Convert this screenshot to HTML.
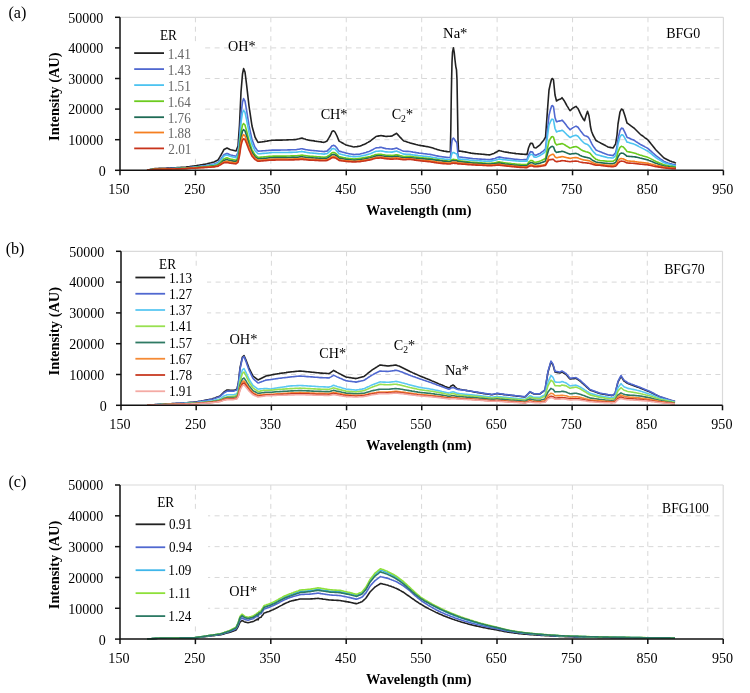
<!DOCTYPE html>
<html><head><meta charset="utf-8"><style>
html,body{margin:0;padding:0;background:#fff;}
svg{display:block;will-change:transform;}
text{font-family:"Liberation Serif", serif;}
.gd{stroke:#d8d8d8;stroke-width:1;stroke-dasharray:5 4.43;}
.gdh{stroke:#d8d8d8;stroke-width:1;stroke-dasharray:5 4.43;}
.gs{stroke:#dadada;stroke-width:1.2;}
.ax{stroke:#111;stroke-width:1.5;fill:none;}
</style></head><body>
<svg width="750" height="693" viewBox="0 0 750 693">
<rect width="750" height="693" fill="#fff"/>
<line x1="195.43" y1="17.30" x2="195.43" y2="170.30" class="gd"/>
<line x1="270.85" y1="17.30" x2="270.85" y2="170.30" class="gd"/>
<line x1="346.27" y1="17.30" x2="346.27" y2="170.30" class="gd"/>
<line x1="421.70" y1="17.30" x2="421.70" y2="170.30" class="gd"/>
<line x1="497.12" y1="17.30" x2="497.12" y2="170.30" class="gd"/>
<line x1="572.55" y1="17.30" x2="572.55" y2="170.30" class="gd"/>
<line x1="647.98" y1="17.30" x2="647.98" y2="170.30" class="gd"/>
<line x1="120.30" y1="139.70" x2="723.40" y2="139.70" class="gdh"/>
<line x1="120.30" y1="109.10" x2="723.40" y2="109.10" class="gdh"/>
<line x1="120.30" y1="78.50" x2="723.40" y2="78.50" class="gdh"/>
<line x1="120.30" y1="47.90" x2="723.40" y2="47.90" class="gdh"/>
<line x1="120.00" y1="17.30" x2="723.40" y2="17.30" class="gs"/>
<line x1="723.40" y1="17.30" x2="723.40" y2="170.30" class="gs"/>
<rect x="121" y="42" width="82" height="114" fill="#fff"/>
<path d="M147.0 170.2L148.0 170.0L149.0 169.7L150.0 169.5L151.0 169.3L152.0 169.1L153.0 169.0L154.0 168.8L155.0 168.6L156.0 168.6L157.0 168.5L158.0 168.5L159.0 168.4L160.0 168.4L161.0 168.4L162.0 168.3L163.0 168.3L164.0 168.2L165.0 168.2L166.0 168.2L167.0 168.1L168.0 168.1L169.0 168.0L170.0 168.0L171.0 167.9L172.0 167.9L173.0 167.8L174.0 167.8L175.0 167.7L176.0 167.7L177.0 167.6L178.0 167.6L179.0 167.5L180.0 167.5L181.0 167.4L182.0 167.4L183.0 167.3L184.0 167.3L185.0 167.2L186.0 167.1L187.0 166.9L188.0 166.8L189.0 166.7L190.0 166.5L191.0 166.4L192.0 166.3L193.0 166.1L194.0 166.0L195.0 165.8L196.0 165.7L197.0 165.5L198.0 165.3L199.0 165.2L200.0 165.0L201.0 164.8L202.0 164.7L203.0 164.5L204.0 164.3L205.0 164.2L206.0 164.0L207.0 163.8L208.0 163.5L209.0 163.2L210.0 163.0L211.0 162.8L212.0 162.5L213.0 162.2L214.0 162.0L215.0 161.5L216.0 161.0L217.0 160.5L218.0 160.0L219.0 158.3L220.0 156.7L221.0 155.0L222.0 153.2L223.0 151.3L224.0 149.5L225.0 149.0L226.0 148.5L227.0 148.0L228.0 148.5L229.0 149.0L230.0 149.5L231.0 149.8L232.0 150.0L233.0 150.2L234.0 150.5L235.0 150.8L236.0 151.0L237.0 148.5L238.0 146.0L239.0 132.0L239.5 125.0L240.0 114.0L241.0 92.0L242.0 80.0L242.5 74.0L243.0 71.5L243.6 68.6L244.0 69.6L245.0 72.0L246.0 80.0L246.5 84.0L247.0 88.4L248.0 97.2L249.0 106.0L250.0 112.7L251.0 119.3L252.0 126.0L253.0 129.7L254.0 133.3L255.0 137.0L256.0 138.8L257.0 140.6L258.0 142.4L259.0 142.3L260.0 142.1L261.0 142.0L262.0 141.9L263.0 141.7L264.0 141.6L265.0 141.4L266.0 141.2L267.0 141.1L268.0 140.9L269.0 140.7L270.0 140.5L271.0 140.4L272.0 140.2L273.0 140.2L274.0 140.2L275.0 140.2L276.0 140.1L277.0 140.1L278.0 140.1L279.0 140.1L280.0 140.1L281.0 140.1L282.0 140.1L283.0 140.0L284.0 140.0L285.0 140.0L286.0 140.0L287.0 139.9L288.0 139.9L289.0 139.8L290.0 139.8L291.0 139.8L292.0 139.7L293.0 139.7L294.0 139.6L295.0 139.6L296.0 139.5L297.0 139.2L298.0 139.0L299.0 138.8L300.0 138.5L301.0 138.2L302.0 138.0L303.0 138.4L304.0 138.8L305.0 139.1L306.0 139.5L307.0 139.7L308.0 139.9L309.0 140.2L310.0 140.4L311.0 140.5L312.0 140.7L313.0 140.8L314.0 140.9L315.0 141.1L316.0 141.2L317.0 141.4L318.0 141.5L319.0 141.7L320.0 141.8L321.0 141.9L322.0 142.1L323.0 142.2L324.0 142.4L325.0 141.9L326.0 141.5L327.0 141.0L328.0 139.3L329.0 137.7L330.0 136.0L331.0 133.8L332.0 131.5L333.0 131.0L333.5 130.8L334.0 131.2L335.0 132.0L336.0 134.0L337.0 136.0L338.0 138.5L339.0 141.0L340.0 141.6L341.0 142.1L342.0 142.7L343.0 143.3L344.0 143.9L345.0 144.4L346.0 145.0L347.0 145.2L348.0 145.5L349.0 145.8L350.0 146.0L351.0 146.2L352.0 146.5L353.0 146.8L354.0 147.0L355.0 146.8L356.0 146.7L357.0 146.6L358.0 146.4L359.0 146.2L360.0 146.1L361.0 145.7L362.0 145.3L363.0 144.8L364.0 144.4L365.0 144.0L366.0 143.5L367.0 142.9L368.0 142.4L369.0 141.8L370.0 141.3L371.0 140.5L372.0 139.7L373.0 138.9L374.0 138.1L375.0 137.3L376.0 136.5L377.0 136.3L378.0 136.1L379.0 135.9L380.0 135.7L381.0 135.5L382.0 135.7L383.0 135.9L384.0 136.1L385.0 136.3L386.0 136.5L387.0 136.4L388.0 136.3L389.0 136.2L390.0 136.2L391.0 136.1L392.0 136.0L393.0 135.4L394.0 134.8L395.0 134.2L396.0 133.6L396.5 133.3L397.0 133.8L398.0 134.9L399.0 136.0L400.0 137.1L401.0 138.1L402.0 139.2L403.0 140.3L403.5 140.8L404.0 141.0L405.0 141.3L406.0 141.6L407.0 141.9L408.0 142.3L409.0 142.6L410.0 142.9L411.0 143.2L412.0 143.4L413.0 143.7L414.0 143.9L415.0 144.2L416.0 144.5L417.0 144.7L418.0 145.0L419.0 145.2L420.0 145.4L421.0 145.6L422.0 145.7L423.0 145.9L424.0 146.1L425.0 146.3L426.0 146.5L427.0 146.6L428.0 146.8L429.0 147.0L430.0 147.2L431.0 147.5L432.0 147.8L433.0 148.1L434.0 148.4L435.0 148.8L436.0 149.1L437.0 149.4L438.0 149.7L439.0 150.0L440.0 150.3L441.0 150.5L442.0 150.7L443.0 150.9L444.0 151.1L445.0 151.2L446.0 151.4L447.0 151.6L448.0 151.8L449.0 151.7L450.0 151.7L450.3 151.3L450.8 130.3L451.0 116.3L451.3 95.3L451.6 80.3L452.0 62.2L452.5 52.2L453.0 49.8L453.4 47.9L454.0 51.1L454.2 52.1L455.0 60.0L455.8 66.6L456.0 67.5L456.5 69.9L457.0 79.9L457.5 109.9L458.0 139.8L458.5 150.3L458.8 151.1L459.0 151.1L460.0 151.0L461.0 151.2L462.0 151.4L463.0 151.6L464.0 151.8L465.0 151.9L466.0 152.1L467.0 152.3L468.0 152.5L469.0 152.7L470.0 152.9L471.0 153.1L472.0 153.2L472.8 153.4L473.0 153.4L474.0 153.5L475.0 153.6L476.0 153.7L477.0 153.8L478.0 153.9L479.0 154.0L480.0 154.0L481.0 154.1L482.0 154.2L483.0 154.3L484.0 154.4L485.0 154.5L486.0 154.6L487.0 154.7L488.0 154.8L489.0 154.9L489.5 154.9L490.0 154.7L491.0 154.4L492.0 154.1L493.0 153.7L494.0 153.4L495.0 152.8L496.0 152.2L497.0 151.7L498.0 151.1L499.0 150.5L500.0 150.8L501.0 151.0L502.0 151.3L503.0 151.5L504.0 151.8L505.0 152.0L506.0 152.1L507.0 152.3L508.0 152.4L509.0 152.6L510.0 152.7L511.0 152.9L512.0 153.0L513.0 153.2L514.0 153.3L514.6 153.4L515.0 153.4L516.0 153.6L517.0 153.7L518.0 153.8L519.0 153.9L520.0 154.0L521.0 154.1L522.0 154.1L523.0 154.2L524.0 154.3L525.0 154.4L526.0 154.4L527.0 154.5L528.0 150.2L528.5 148.0L529.0 146.8L530.0 144.4L530.5 143.2L531.0 143.3L532.0 143.4L532.5 143.5L533.0 144.8L534.0 147.5L535.0 147.8L536.0 148.0L537.0 147.2L538.0 146.4L539.0 145.6L540.0 144.8L541.0 143.6L542.0 142.3L543.0 141.1L543.5 140.5L544.0 139.7L545.0 138.0L545.5 137.2L546.0 130.3L547.0 116.6L548.0 103.0L549.0 90.0L550.0 85.3L550.2 84.4L551.0 81.3L551.6 79.0L552.0 78.8L552.5 78.5L553.0 79.2L553.5 80.0L554.0 85.0L555.0 95.0L556.0 99.0L556.5 101.0L557.0 100.7L558.0 100.0L559.0 99.6L560.0 99.2L561.0 98.8L562.0 97.7L563.0 99.1L564.0 100.4L565.0 102.2L566.0 104.0L567.0 105.8L568.0 107.4L569.0 109.1L570.0 110.7L571.0 109.8L572.0 108.9L573.0 108.0L574.0 107.5L575.0 106.9L576.0 106.4L577.0 107.5L578.0 108.5L579.0 110.7L580.0 112.8L581.0 115.0L582.0 116.8L583.0 118.6L583.5 119.5L584.0 120.1L584.5 120.7L585.0 119.0L586.0 115.5L587.0 112.7L587.5 111.3L588.0 112.7L589.0 116.0L590.0 122.8L590.5 126.8L591.0 129.0L591.5 131.2L592.0 132.5L593.0 135.0L594.0 136.8L595.0 138.7L596.0 140.5L597.0 141.0L598.0 141.6L599.0 142.1L600.0 142.6L601.0 143.2L602.0 143.7L603.0 144.2L604.0 144.8L605.0 145.3L606.0 145.9L607.0 146.4L608.0 147.0L609.0 147.2L610.0 147.4L611.0 147.6L612.0 147.8L613.0 148.0L614.0 146.5L615.0 144.9L615.6 144.0L616.0 141.4L617.0 135.0L618.0 124.0L619.0 118.0L620.0 112.0L621.0 110.0L621.5 109.0L622.0 109.3L623.0 110.0L624.0 113.0L625.0 116.0L626.0 119.5L627.0 123.0L628.0 123.7L629.0 124.4L630.0 125.1L631.0 125.9L632.0 126.6L633.0 127.3L634.0 128.0L635.0 129.0L636.0 130.0L637.0 131.0L638.0 132.0L639.0 133.0L640.0 134.0L641.0 134.8L642.0 135.5L643.0 136.2L644.0 137.0L645.0 137.8L646.0 138.5L647.0 139.2L648.0 140.0L649.0 141.2L650.0 142.5L651.0 143.8L652.0 145.0L653.0 146.2L654.0 147.5L655.0 148.8L656.0 150.0L657.0 151.0L658.0 152.0L659.0 153.0L660.0 154.0L661.0 155.0L662.0 156.0L663.0 157.0L664.0 158.0L665.0 158.5L666.0 159.0L667.0 159.5L668.0 160.0L669.0 160.5L670.0 161.0L671.0 161.3L672.0 161.7L673.0 162.0L674.0 162.3L675.0 162.7L676.0 163.0" fill="none" stroke="#222" stroke-width="1.60" stroke-linejoin="round"/>
<path d="M147.0 170.2L148.0 170.0L149.0 169.8L150.0 169.7L151.0 169.5L152.0 169.4L153.0 169.2L154.0 169.1L155.0 169.0L156.0 168.9L157.0 168.9L158.0 168.9L159.0 168.8L160.0 168.8L161.0 168.8L162.0 168.7L163.0 168.7L164.0 168.7L165.0 168.7L166.0 168.6L167.0 168.6L168.0 168.6L169.0 168.5L170.0 168.5L171.0 168.5L172.0 168.4L173.0 168.4L174.0 168.4L175.0 168.3L176.0 168.3L177.0 168.2L178.0 168.2L179.0 168.2L180.0 168.1L181.0 168.1L182.0 168.1L183.0 168.0L184.0 168.0L185.0 167.9L186.0 167.8L187.0 167.7L188.0 167.7L189.0 167.6L190.0 167.5L191.0 167.4L192.0 167.3L193.0 167.2L194.0 167.1L195.0 167.0L196.0 166.8L197.0 166.7L198.0 166.6L199.0 166.4L200.0 166.3L201.0 166.2L202.0 166.1L203.0 165.9L204.0 165.8L205.0 165.7L206.0 165.6L207.0 165.4L208.0 165.2L209.0 165.0L210.0 164.8L211.0 164.6L212.0 164.4L213.0 164.3L214.0 164.1L215.0 163.7L216.0 163.3L217.0 162.9L218.0 162.6L219.0 161.3L220.0 160.0L221.0 158.8L222.0 157.4L223.0 156.0L224.0 154.6L225.0 154.2L226.0 153.8L227.0 153.4L228.0 153.8L229.0 154.3L230.0 154.7L231.0 155.0L232.0 155.2L233.0 155.5L234.0 155.7L235.0 156.0L236.0 156.2L237.0 154.5L238.0 152.7L239.0 142.7L239.5 137.8L240.0 129.9L241.0 114.4L242.0 106.2L242.5 102.1L243.0 100.5L243.6 98.6L244.0 99.3L245.0 101.2L246.0 106.9L246.5 109.8L247.0 112.9L248.0 119.2L249.0 125.4L250.0 130.1L251.0 134.8L252.0 139.5L253.0 142.1L254.0 144.7L255.0 147.3L256.0 148.6L257.0 149.9L258.0 151.1L259.0 151.1L260.0 151.0L261.0 151.0L262.0 150.9L263.0 150.8L264.0 150.8L265.0 150.7L266.0 150.6L267.0 150.5L268.0 150.5L269.0 150.4L270.0 150.3L271.0 150.2L272.0 150.1L273.0 150.1L274.0 150.1L275.0 150.1L276.0 150.1L277.0 150.1L278.0 150.1L279.0 150.1L280.0 150.1L281.0 150.0L282.0 150.0L283.0 150.0L284.0 150.0L285.0 150.0L286.0 150.0L287.0 150.0L288.0 149.9L289.0 149.9L290.0 149.9L291.0 149.8L292.0 149.8L293.0 149.8L294.0 149.7L295.0 149.7L296.0 149.7L297.0 149.5L298.0 149.3L299.0 149.2L300.0 149.0L301.0 148.8L302.0 148.7L303.0 148.9L304.0 149.2L305.0 149.4L306.0 149.7L307.0 149.8L308.0 150.0L309.0 150.1L310.0 150.3L311.0 150.4L312.0 150.5L313.0 150.5L314.0 150.6L315.0 150.7L316.0 150.8L317.0 150.9L318.0 151.0L319.0 151.1L320.0 151.2L321.0 151.3L322.0 151.4L323.0 151.5L324.0 151.6L325.0 151.4L326.0 151.2L327.0 151.1L328.0 150.1L329.0 149.2L330.0 148.2L331.0 146.9L332.0 145.7L333.0 145.6L333.5 145.3L334.0 145.5L335.0 145.9L336.0 147.0L337.0 148.1L338.0 149.6L339.0 151.1L340.0 151.4L341.0 151.6L342.0 151.9L343.0 152.2L344.0 152.4L345.0 152.7L346.0 153.1L347.0 153.3L348.0 153.5L349.0 153.7L350.0 153.9L351.0 154.0L352.0 154.2L353.0 154.4L354.0 154.6L355.0 154.5L356.0 154.4L357.0 154.3L358.0 154.3L359.0 154.2L360.0 154.1L361.0 153.8L362.0 153.5L363.0 153.3L364.0 153.0L365.0 152.7L366.0 152.4L367.0 152.0L368.0 151.7L369.0 151.4L370.0 151.0L371.0 150.5L372.0 150.0L373.0 149.5L374.0 148.9L375.0 148.4L376.0 147.9L377.0 147.8L378.0 147.7L379.0 147.6L380.0 147.4L381.0 147.3L382.0 147.6L383.0 147.9L384.0 148.1L385.0 148.4L386.0 148.6L387.0 148.7L388.0 148.8L389.0 148.9L390.0 149.0L391.0 149.0L392.0 149.1L393.0 148.9L394.0 148.7L395.0 148.4L396.0 148.2L396.5 148.1L397.0 148.3L398.0 148.7L399.0 149.2L400.0 149.6L401.0 150.1L402.0 150.6L403.0 151.1L403.5 151.3L404.0 151.3L405.0 151.3L406.0 151.4L407.0 151.4L408.0 151.4L409.0 151.5L410.0 151.5L411.0 151.7L412.0 151.9L413.0 152.1L414.0 152.2L415.0 152.4L416.0 152.6L417.0 152.8L418.0 152.9L419.0 153.1L420.0 153.2L421.0 153.3L422.0 153.4L423.0 153.5L424.0 153.7L425.0 153.8L426.0 153.9L427.0 154.0L428.0 154.2L429.0 154.3L430.0 154.4L431.0 154.6L432.0 154.8L433.0 155.0L434.0 155.2L435.0 155.4L436.0 155.7L437.0 155.9L438.0 156.1L439.0 156.3L440.0 156.5L441.0 156.6L442.0 156.8L443.0 156.9L444.0 157.0L445.0 157.1L446.0 157.3L447.0 157.4L448.0 157.5L449.0 157.5L450.0 157.4L450.3 157.4L450.8 153.5L451.0 150.9L451.3 147.0L451.6 144.2L452.0 140.8L452.5 139.0L453.0 138.5L453.4 138.1L454.0 138.7L454.2 138.9L455.0 140.3L455.8 141.5L456.0 141.7L456.5 142.1L457.0 143.9L457.5 149.5L458.0 155.0L458.5 156.9L458.8 157.0L459.0 157.0L460.0 157.0L461.0 157.1L462.0 157.2L463.0 157.4L464.0 157.5L465.0 157.6L466.0 157.8L467.0 157.9L468.0 158.0L469.0 158.1L470.0 158.3L471.0 158.4L472.0 158.5L472.8 158.6L473.0 158.7L474.0 158.7L475.0 158.8L476.0 158.8L477.0 158.9L478.0 159.0L479.0 159.0L480.0 159.1L481.0 159.1L482.0 159.2L483.0 159.3L484.0 159.3L485.0 159.4L486.0 159.5L487.0 159.5L488.0 159.6L489.0 159.6L489.5 159.7L490.0 159.6L491.0 159.4L492.0 159.1L493.0 158.9L494.0 158.7L495.0 158.4L496.0 158.0L497.0 157.6L498.0 157.2L499.0 156.9L500.0 157.1L501.0 157.3L502.0 157.5L503.0 157.7L504.0 157.9L505.0 158.0L506.0 158.1L507.0 158.3L508.0 158.4L509.0 158.5L510.0 158.6L511.0 158.8L512.0 158.9L513.0 159.0L514.0 159.1L514.6 159.2L515.0 159.2L516.0 159.3L517.0 159.4L518.0 159.5L519.0 159.6L520.0 159.7L521.0 159.7L522.0 159.7L523.0 159.7L524.0 159.6L525.0 159.6L526.0 159.6L527.0 159.6L528.0 156.6L528.5 155.1L529.0 154.2L530.0 152.5L530.5 151.6L531.0 151.7L532.0 151.9L532.5 152.0L533.0 152.9L534.0 154.8L535.0 155.0L536.0 155.3L537.0 154.8L538.0 154.3L539.0 153.8L540.0 153.4L541.0 152.6L542.0 151.9L543.0 151.2L543.5 150.8L544.0 150.3L545.0 149.3L545.5 148.6L546.0 144.0L547.0 134.5L548.0 124.8L549.0 115.3L550.0 111.4L550.2 110.6L551.0 107.9L551.6 105.9L552.0 105.7L552.5 105.6L553.0 106.2L553.5 106.8L554.0 110.4L555.0 117.5L556.0 120.4L556.5 121.8L557.0 121.7L558.0 121.3L559.0 121.1L560.0 120.9L561.0 120.8L562.0 120.1L563.0 121.1L564.0 122.2L565.0 123.5L566.0 124.8L567.0 126.2L568.0 127.4L569.0 128.6L570.0 129.8L571.0 129.0L572.0 128.3L573.0 127.6L574.0 127.1L575.0 126.6L576.0 126.1L577.0 126.7L578.0 127.3L579.0 128.7L580.0 130.1L581.0 131.6L582.0 132.8L583.0 134.1L583.5 134.7L584.0 135.2L584.5 135.6L585.0 135.8L586.0 136.1L587.0 136.5L587.5 136.6L588.0 137.1L589.0 138.3L590.0 139.9L590.5 141.1L591.0 142.1L591.5 143.1L592.0 144.1L593.0 145.9L594.0 147.3L595.0 148.6L596.0 150.0L597.0 150.4L598.0 150.9L599.0 151.3L600.0 151.7L601.0 152.1L602.0 152.5L603.0 152.9L604.0 153.3L605.0 153.7L606.0 154.1L607.0 154.4L608.0 154.8L609.0 155.0L610.0 155.1L611.0 155.3L612.0 155.4L613.0 155.6L614.0 154.5L615.0 153.4L615.6 152.7L616.0 151.0L617.0 146.5L618.0 139.0L619.0 134.7L620.0 130.5L621.0 128.9L621.5 128.1L622.0 128.2L623.0 128.6L624.0 130.6L625.0 132.6L626.0 134.9L627.0 137.3L628.0 137.7L629.0 138.1L630.0 138.5L631.0 139.0L632.0 139.4L633.0 139.8L634.0 140.3L635.0 140.9L636.0 141.6L637.0 142.2L638.0 142.9L639.0 143.5L640.0 144.2L641.0 144.7L642.0 145.2L643.0 145.8L644.0 146.3L645.0 146.9L646.0 147.4L647.0 147.9L648.0 148.5L649.0 149.4L650.0 150.3L651.0 151.2L652.0 152.1L653.0 153.0L654.0 153.9L655.0 154.8L656.0 155.7L657.0 156.4L658.0 157.1L659.0 157.8L660.0 158.6L661.0 159.3L662.0 160.0L663.0 160.7L664.0 161.4L665.0 161.8L666.0 162.2L667.0 162.5L668.0 162.9L669.0 163.2L670.0 163.6L671.0 163.8L672.0 164.1L673.0 164.3L674.0 164.6L675.0 164.8L676.0 165.0" fill="none" stroke="#5068d0" stroke-width="1.60" stroke-linejoin="round"/>
<path d="M147.0 170.2L148.0 170.1L149.0 169.9L150.0 169.7L151.0 169.6L152.0 169.4L153.0 169.3L154.0 169.2L155.0 169.0L156.0 169.0L157.0 169.0L158.0 169.0L159.0 168.9L160.0 168.9L161.0 168.9L162.0 168.8L163.0 168.8L164.0 168.8L165.0 168.8L166.0 168.7L167.0 168.7L168.0 168.7L169.0 168.7L170.0 168.6L171.0 168.6L172.0 168.6L173.0 168.5L174.0 168.5L175.0 168.5L176.0 168.4L177.0 168.4L178.0 168.3L179.0 168.3L180.0 168.3L181.0 168.2L182.0 168.2L183.0 168.2L184.0 168.1L185.0 168.1L186.0 168.0L187.0 167.9L188.0 167.8L189.0 167.7L190.0 167.6L191.0 167.6L192.0 167.5L193.0 167.4L194.0 167.3L195.0 167.2L196.0 167.1L197.0 167.0L198.0 166.8L199.0 166.7L200.0 166.6L201.0 166.5L202.0 166.4L203.0 166.3L204.0 166.2L205.0 166.1L206.0 166.0L207.0 165.8L208.0 165.6L209.0 165.5L210.0 165.3L211.0 165.1L212.0 165.0L213.0 164.8L214.0 164.6L215.0 164.3L216.0 164.0L217.0 163.6L218.0 163.3L219.0 162.1L220.0 161.0L221.0 159.8L222.0 158.6L223.0 157.3L224.0 156.0L225.0 155.6L226.0 155.3L227.0 154.9L228.0 155.4L229.0 155.8L230.0 156.2L231.0 156.5L232.0 156.7L233.0 157.0L234.0 157.3L235.0 157.5L236.0 157.8L237.0 156.3L238.0 154.9L239.0 146.3L239.5 142.1L240.0 135.5L241.0 122.5L242.0 115.9L242.5 112.6L243.0 111.6L243.6 110.3L244.0 110.9L245.0 112.3L246.0 117.0L246.5 119.4L247.0 122.0L248.0 127.2L249.0 132.4L250.0 136.3L251.0 140.2L252.0 144.2L253.0 146.3L254.0 148.5L255.0 150.7L256.0 151.7L257.0 152.8L258.0 153.8L259.0 153.8L260.0 153.7L261.0 153.6L262.0 153.5L263.0 153.4L264.0 153.4L265.0 153.3L266.0 153.2L267.0 153.1L268.0 153.0L269.0 152.9L270.0 152.7L271.0 152.6L272.0 152.5L273.0 152.5L274.0 152.5L275.0 152.5L276.0 152.5L277.0 152.5L278.0 152.5L279.0 152.5L280.0 152.5L281.0 152.5L282.0 152.5L283.0 152.5L284.0 152.5L285.0 152.5L286.0 152.5L287.0 152.5L288.0 152.5L289.0 152.4L290.0 152.4L291.0 152.4L292.0 152.4L293.0 152.3L294.0 152.3L295.0 152.3L296.0 152.3L297.0 152.1L298.0 152.0L299.0 151.8L300.0 151.7L301.0 151.6L302.0 151.4L303.0 151.7L304.0 151.9L305.0 152.1L306.0 152.3L307.0 152.5L308.0 152.6L309.0 152.7L310.0 152.9L311.0 153.0L312.0 153.0L313.0 153.1L314.0 153.2L315.0 153.3L316.0 153.4L317.0 153.5L318.0 153.6L319.0 153.7L320.0 153.7L321.0 153.8L322.0 153.9L323.0 154.0L324.0 154.1L325.0 153.9L326.0 153.8L327.0 153.6L328.0 152.8L329.0 151.9L330.0 151.1L331.0 150.0L332.0 148.8L333.0 148.7L333.5 148.5L334.0 148.7L335.0 149.0L336.0 150.1L337.0 151.1L338.0 152.4L339.0 153.7L340.0 154.0L341.0 154.3L342.0 154.5L343.0 154.8L344.0 155.0L345.0 155.3L346.0 155.6L347.0 155.8L348.0 155.9L349.0 156.1L350.0 156.2L351.0 156.4L352.0 156.5L353.0 156.6L354.0 156.8L355.0 156.7L356.0 156.6L357.0 156.5L358.0 156.4L359.0 156.4L360.0 156.3L361.0 156.0L362.0 155.8L363.0 155.6L364.0 155.4L365.0 155.2L366.0 154.9L367.0 154.6L368.0 154.4L369.0 154.1L370.0 153.8L371.0 153.4L372.0 153.0L373.0 152.6L374.0 152.1L375.0 151.7L376.0 151.3L377.0 151.2L378.0 151.2L379.0 151.1L380.0 151.0L381.0 151.0L382.0 151.1L383.0 151.3L384.0 151.5L385.0 151.7L386.0 151.9L387.0 151.9L388.0 152.0L389.0 152.0L390.0 152.0L391.0 152.1L392.0 152.1L393.0 151.9L394.0 151.6L395.0 151.4L396.0 151.2L396.5 151.1L397.0 151.3L398.0 151.7L399.0 152.1L400.0 152.5L401.0 152.9L402.0 153.4L403.0 153.8L403.5 154.0L404.0 154.1L405.0 154.1L406.0 154.2L407.0 154.2L408.0 154.3L409.0 154.3L410.0 154.4L411.0 154.6L412.0 154.7L413.0 154.9L414.0 155.0L415.0 155.1L416.0 155.3L417.0 155.4L418.0 155.6L419.0 155.7L420.0 155.8L421.0 155.9L422.0 156.0L423.0 156.1L424.0 156.2L425.0 156.3L426.0 156.4L427.0 156.5L428.0 156.6L429.0 156.7L430.0 156.8L431.0 157.0L432.0 157.2L433.0 157.4L434.0 157.5L435.0 157.7L436.0 157.9L437.0 158.1L438.0 158.2L439.0 158.4L440.0 158.6L441.0 158.7L442.0 158.8L443.0 158.9L444.0 159.0L445.0 159.2L446.0 159.3L447.0 159.4L448.0 159.5L449.0 159.5L450.0 159.4L450.3 159.4L450.8 158.0L451.0 157.1L451.3 155.7L451.6 154.7L452.0 153.5L452.5 152.8L453.0 152.6L453.4 152.5L454.0 152.6L454.2 152.7L455.0 153.2L455.8 153.6L456.0 153.7L456.5 153.8L457.0 154.5L457.5 156.4L458.0 158.4L458.5 159.1L458.8 159.1L459.0 159.1L460.0 159.0L461.0 159.2L462.0 159.3L463.0 159.4L464.0 159.5L465.0 159.6L466.0 159.7L467.0 159.8L468.0 159.9L469.0 160.0L470.0 160.2L471.0 160.3L472.0 160.4L472.8 160.5L473.0 160.5L474.0 160.5L475.0 160.6L476.0 160.6L477.0 160.7L478.0 160.7L479.0 160.8L480.0 160.9L481.0 160.9L482.0 161.0L483.0 161.0L484.0 161.1L485.0 161.1L486.0 161.2L487.0 161.2L488.0 161.3L489.0 161.3L489.5 161.4L490.0 161.3L491.0 161.1L492.0 160.9L493.0 160.7L494.0 160.5L495.0 160.2L496.0 159.9L497.0 159.6L498.0 159.3L499.0 158.9L500.0 159.1L501.0 159.3L502.0 159.4L503.0 159.6L504.0 159.7L505.0 159.8L506.0 159.9L507.0 160.0L508.0 160.1L509.0 160.2L510.0 160.3L511.0 160.4L512.0 160.5L513.0 160.6L514.0 160.7L514.6 160.8L515.0 160.8L516.0 160.9L517.0 161.0L518.0 161.0L519.0 161.1L520.0 161.2L521.0 161.2L522.0 161.2L523.0 161.2L524.0 161.1L525.0 161.1L526.0 161.1L527.0 161.1L528.0 158.6L528.5 157.3L529.0 156.5L530.0 155.1L530.5 154.3L531.0 154.4L532.0 154.5L532.5 154.6L533.0 155.4L534.0 157.0L535.0 157.1L536.0 157.3L537.0 156.9L538.0 156.4L539.0 156.0L540.0 155.6L541.0 154.9L542.0 154.2L543.0 153.6L543.5 153.3L544.0 152.8L545.0 151.9L545.5 151.5L546.0 147.6L547.0 139.9L548.0 132.3L549.0 125.2L550.0 122.7L550.2 122.2L551.0 120.6L551.6 119.4L552.0 119.3L552.5 119.2L553.0 119.6L553.5 120.1L554.0 122.9L555.0 128.5L556.0 130.7L556.5 131.9L557.0 131.7L558.0 131.3L559.0 131.1L560.0 130.9L561.0 130.7L562.0 130.2L563.0 130.9L564.0 131.7L565.0 132.7L566.0 133.7L567.0 134.8L568.0 135.7L569.0 136.6L570.0 137.5L571.0 137.0L572.0 136.5L573.0 136.0L574.0 135.7L575.0 135.4L576.0 135.2L577.0 135.7L578.0 136.3L579.0 137.5L580.0 138.7L581.0 139.9L582.0 141.0L583.0 142.0L583.5 142.5L584.0 142.9L584.5 143.2L585.0 143.5L586.0 143.9L587.0 144.3L587.5 144.5L588.0 144.9L589.0 145.8L590.0 147.0L590.5 147.8L591.0 148.5L591.5 149.3L592.0 150.0L593.0 151.3L594.0 152.4L595.0 153.4L596.0 154.4L597.0 154.7L598.0 155.0L599.0 155.3L600.0 155.6L601.0 155.9L602.0 156.1L603.0 156.4L604.0 156.6L605.0 156.9L606.0 157.1L607.0 157.4L608.0 157.7L609.0 157.7L610.0 157.8L611.0 157.9L612.0 158.0L613.0 158.0L614.0 157.1L615.0 156.2L615.6 155.6L616.0 154.1L617.0 150.4L618.0 144.1L619.0 140.5L620.0 136.9L621.0 135.5L621.5 134.8L622.0 134.9L623.0 135.1L624.0 136.7L625.0 138.3L626.0 140.2L627.0 142.1L628.0 142.3L629.0 142.6L630.0 142.9L631.0 143.2L632.0 143.5L633.0 143.8L634.0 144.1L635.0 144.6L636.0 145.0L637.0 145.5L638.0 146.0L639.0 146.6L640.0 147.1L641.0 147.6L642.0 148.1L643.0 148.6L644.0 149.1L645.0 149.6L646.0 150.2L647.0 150.7L648.0 151.2L649.0 152.0L650.0 152.8L651.0 153.6L652.0 154.4L653.0 155.3L654.0 156.1L655.0 156.9L656.0 157.7L657.0 158.3L658.0 159.0L659.0 159.6L660.0 160.2L661.0 160.9L662.0 161.5L663.0 162.1L664.0 162.8L665.0 163.1L666.0 163.4L667.0 163.7L668.0 164.0L669.0 164.3L670.0 164.7L671.0 164.9L672.0 165.1L673.0 165.3L674.0 165.5L675.0 165.7L676.0 165.9" fill="none" stroke="#4dc3f0" stroke-width="1.60" stroke-linejoin="round"/>
<path d="M147.0 170.2L148.0 170.1L149.0 169.9L150.0 169.7L151.0 169.6L152.0 169.5L153.0 169.4L154.0 169.3L155.0 169.1L156.0 169.1L157.0 169.1L158.0 169.1L159.0 169.0L160.0 169.0L161.0 169.0L162.0 169.0L163.0 168.9L164.0 168.9L165.0 168.9L166.0 168.9L167.0 168.8L168.0 168.8L169.0 168.8L170.0 168.8L171.0 168.7L172.0 168.7L173.0 168.7L174.0 168.7L175.0 168.6L176.0 168.6L177.0 168.6L178.0 168.5L179.0 168.5L180.0 168.5L181.0 168.4L182.0 168.4L183.0 168.4L184.0 168.4L185.0 168.3L186.0 168.3L187.0 168.2L188.0 168.1L189.0 168.0L190.0 167.9L191.0 167.9L192.0 167.8L193.0 167.7L194.0 167.6L195.0 167.5L196.0 167.5L197.0 167.4L198.0 167.3L199.0 167.2L200.0 167.1L201.0 167.0L202.0 166.9L203.0 166.9L204.0 166.8L205.0 166.7L206.0 166.6L207.0 166.5L208.0 166.4L209.0 166.3L210.0 166.1L211.0 166.0L212.0 165.9L213.0 165.8L214.0 165.7L215.0 165.4L216.0 165.2L217.0 164.9L218.0 164.6L219.0 163.7L220.0 162.8L221.0 161.8L222.0 160.8L223.0 159.8L224.0 158.7L225.0 158.4L226.0 158.1L227.0 157.8L228.0 158.2L229.0 158.6L230.0 158.9L231.0 159.2L232.0 159.4L233.0 159.6L234.0 159.8L235.0 160.0L236.0 160.3L237.0 159.1L238.0 158.0L239.0 151.3L239.5 148.0L240.0 142.8L241.0 132.7L242.0 127.6L242.5 125.2L243.0 124.4L243.6 123.5L244.0 124.0L245.0 125.0L246.0 128.7L246.5 130.5L247.0 132.5L248.0 136.6L249.0 140.6L250.0 143.7L251.0 146.7L252.0 149.8L253.0 151.5L254.0 153.2L255.0 154.8L256.0 155.7L257.0 156.5L258.0 157.3L259.0 157.3L260.0 157.2L261.0 157.1L262.0 157.0L263.0 157.0L264.0 156.9L265.0 156.8L266.0 156.7L267.0 156.6L268.0 156.5L269.0 156.4L270.0 156.3L271.0 156.2L272.0 156.2L273.0 156.1L274.0 156.1L275.0 156.1L276.0 156.1L277.0 156.1L278.0 156.1L279.0 156.1L280.0 156.1L281.0 156.1L282.0 156.1L283.0 156.1L284.0 156.1L285.0 156.1L286.0 156.1L287.0 156.0L288.0 156.0L289.0 156.0L290.0 156.0L291.0 155.9L292.0 155.9L293.0 155.9L294.0 155.9L295.0 155.8L296.0 155.8L297.0 155.7L298.0 155.6L299.0 155.5L300.0 155.4L301.0 155.2L302.0 155.1L303.0 155.3L304.0 155.5L305.0 155.6L306.0 155.8L307.0 155.9L308.0 156.0L309.0 156.1L310.0 156.2L311.0 156.3L312.0 156.4L313.0 156.4L314.0 156.5L315.0 156.6L316.0 156.6L317.0 156.7L318.0 156.8L319.0 156.8L320.0 156.9L321.0 157.0L322.0 157.0L323.0 157.1L324.0 157.2L325.0 157.0L326.0 156.9L327.0 156.7L328.0 156.0L329.0 155.3L330.0 154.6L331.0 153.7L332.0 152.8L333.0 152.6L333.5 152.5L334.0 152.6L335.0 152.9L336.0 153.7L337.0 154.5L338.0 155.6L339.0 156.7L340.0 156.9L341.0 157.1L342.0 157.3L343.0 157.5L344.0 157.7L345.0 157.9L346.0 158.1L347.0 158.2L348.0 158.3L349.0 158.5L350.0 158.6L351.0 158.7L352.0 158.8L353.0 158.9L354.0 159.0L355.0 158.9L356.0 158.8L357.0 158.7L358.0 158.6L359.0 158.5L360.0 158.4L361.0 158.3L362.0 158.1L363.0 157.9L364.0 157.8L365.0 157.6L366.0 157.4L367.0 157.2L368.0 156.9L369.0 156.7L370.0 156.5L371.0 156.2L372.0 155.8L373.0 155.5L374.0 155.2L375.0 154.8L376.0 154.5L377.0 154.5L378.0 154.4L379.0 154.4L380.0 154.3L381.0 154.3L382.0 154.5L383.0 154.7L384.0 154.8L385.0 155.0L386.0 155.2L387.0 155.2L388.0 155.3L389.0 155.3L390.0 155.4L391.0 155.4L392.0 155.5L393.0 155.3L394.0 155.2L395.0 155.0L396.0 154.8L396.5 154.8L397.0 154.9L398.0 155.1L399.0 155.3L400.0 155.6L401.0 155.8L402.0 156.1L403.0 156.4L403.5 156.5L404.0 156.5L405.0 156.5L406.0 156.4L407.0 156.4L408.0 156.4L409.0 156.3L410.0 156.3L411.0 156.5L412.0 156.6L413.0 156.7L414.0 156.9L415.0 157.0L416.0 157.1L417.0 157.3L418.0 157.4L419.0 157.5L420.0 157.6L421.0 157.7L422.0 157.8L423.0 157.9L424.0 158.0L425.0 158.1L426.0 158.1L427.0 158.2L428.0 158.3L429.0 158.4L430.0 158.5L431.0 158.7L432.0 158.8L433.0 159.0L434.0 159.2L435.0 159.3L436.0 159.5L437.0 159.6L438.0 159.8L439.0 159.9L440.0 160.1L441.0 160.2L442.0 160.3L443.0 160.5L444.0 160.6L445.0 160.7L446.0 160.8L447.0 160.9L448.0 161.0L449.0 161.0L450.0 161.0L450.3 161.0L450.8 160.7L451.0 160.5L451.3 160.2L451.6 159.9L452.0 159.7L452.5 159.5L453.0 159.5L453.4 159.4L454.0 159.5L454.2 159.5L455.0 159.6L455.8 159.7L456.0 159.7L456.5 159.7L457.0 159.9L457.5 160.3L458.0 160.8L458.5 160.9L458.8 160.9L459.0 160.9L460.0 160.9L461.0 161.0L462.0 161.1L463.0 161.3L464.0 161.4L465.0 161.5L466.0 161.6L467.0 161.7L468.0 161.8L469.0 161.9L470.0 162.0L471.0 162.2L472.0 162.3L472.8 162.3L473.0 162.4L474.0 162.4L475.0 162.5L476.0 162.5L477.0 162.6L478.0 162.7L479.0 162.7L480.0 162.8L481.0 162.9L482.0 162.9L483.0 163.0L484.0 163.0L485.0 163.1L486.0 163.2L487.0 163.2L488.0 163.3L489.0 163.3L489.5 163.4L490.0 163.3L491.0 163.2L492.0 163.1L493.0 163.0L494.0 162.9L495.0 162.7L496.0 162.5L497.0 162.3L498.0 162.1L499.0 161.9L500.0 162.1L501.0 162.3L502.0 162.4L503.0 162.6L504.0 162.8L505.0 162.9L506.0 163.0L507.0 163.1L508.0 163.2L509.0 163.3L510.0 163.4L511.0 163.5L512.0 163.7L513.0 163.8L514.0 163.9L514.6 163.9L515.0 164.0L516.0 164.1L517.0 164.2L518.0 164.3L519.0 164.3L520.0 164.4L521.0 164.5L522.0 164.5L523.0 164.5L524.0 164.5L525.0 164.6L526.0 164.6L527.0 164.6L528.0 163.1L528.5 162.3L529.0 161.8L530.0 161.0L530.5 160.5L531.0 160.6L532.0 160.6L532.5 160.7L533.0 161.1L534.0 162.1L535.0 162.2L536.0 162.3L537.0 162.0L538.0 161.7L539.0 161.4L540.0 161.1L541.0 160.7L542.0 160.2L543.0 159.8L543.5 159.6L544.0 159.3L545.0 158.7L545.5 158.4L546.0 155.9L547.0 150.9L548.0 145.9L549.0 141.0L550.0 139.3L550.2 138.9L551.0 137.7L551.6 136.8L552.0 136.7L552.5 136.6L553.0 136.9L553.5 137.2L554.0 139.0L555.0 142.7L556.0 144.1L556.5 144.9L557.0 144.7L558.0 144.4L559.0 144.3L560.0 144.1L561.0 143.9L562.0 143.5L563.0 143.9L564.0 144.4L565.0 145.0L566.0 145.7L567.0 146.3L568.0 146.9L569.0 147.5L570.0 148.1L571.0 147.8L572.0 147.4L573.0 147.1L574.0 146.9L575.0 146.8L576.0 146.6L577.0 147.0L578.0 147.4L579.0 148.2L580.0 149.0L581.0 149.7L582.0 150.2L583.0 150.7L583.5 151.0L584.0 151.1L584.5 151.3L585.0 151.4L586.0 151.8L587.0 152.0L587.5 152.1L588.0 152.3L589.0 152.7L590.0 153.2L590.5 153.8L591.0 154.4L591.5 155.0L592.0 155.6L593.0 156.7L594.0 157.6L595.0 158.4L596.0 159.3L597.0 159.6L598.0 160.0L599.0 160.3L600.0 160.6L601.0 160.7L602.0 160.7L603.0 160.8L604.0 160.9L605.0 161.0L606.0 161.1L607.0 161.2L608.0 161.3L609.0 161.3L610.0 161.2L611.0 161.2L612.0 161.2L613.0 161.2L614.0 160.6L615.0 160.0L615.6 159.7L616.0 158.7L617.0 156.1L618.0 151.8L619.0 149.6L620.0 147.3L621.0 146.6L621.5 146.3L622.0 146.5L623.0 146.7L624.0 147.8L625.0 148.9L626.0 150.1L627.0 151.5L628.0 151.7L629.0 151.9L630.0 152.1L631.0 152.3L632.0 152.5L633.0 152.7L634.0 153.0L635.0 153.3L636.0 153.6L637.0 154.0L638.0 154.3L639.0 154.7L640.0 155.1L641.0 155.3L642.0 155.6L643.0 155.9L644.0 156.2L645.0 156.5L646.0 156.8L647.0 157.1L648.0 157.4L649.0 157.9L650.0 158.4L651.0 158.9L652.0 159.4L653.0 159.9L654.0 160.5L655.0 161.0L656.0 161.5L657.0 161.9L658.0 162.3L659.0 162.8L660.0 163.2L661.0 163.6L662.0 164.0L663.0 164.5L664.0 164.9L665.0 165.1L666.0 165.3L667.0 165.5L668.0 165.7L669.0 165.9L670.0 166.2L671.0 166.3L672.0 166.4L673.0 166.6L674.0 166.7L675.0 166.9L676.0 167.0" fill="none" stroke="#6ccb1f" stroke-width="1.60" stroke-linejoin="round"/>
<path d="M147.0 170.2L148.0 170.1L149.0 169.9L150.0 169.8L151.0 169.7L152.0 169.6L153.0 169.4L154.0 169.3L155.0 169.2L156.0 169.2L157.0 169.2L158.0 169.1L159.0 169.1L160.0 169.1L161.0 169.1L162.0 169.1L163.0 169.0L164.0 169.0L165.0 169.0L166.0 169.0L167.0 168.9L168.0 168.9L169.0 168.9L170.0 168.9L171.0 168.9L172.0 168.8L173.0 168.8L174.0 168.8L175.0 168.7L176.0 168.7L177.0 168.7L178.0 168.7L179.0 168.6L180.0 168.6L181.0 168.6L182.0 168.5L183.0 168.5L184.0 168.5L185.0 168.5L186.0 168.4L187.0 168.3L188.0 168.2L189.0 168.2L190.0 168.1L191.0 168.0L192.0 167.9L193.0 167.9L194.0 167.8L195.0 167.7L196.0 167.7L197.0 167.6L198.0 167.5L199.0 167.4L200.0 167.4L201.0 167.3L202.0 167.2L203.0 167.2L204.0 167.1L205.0 167.0L206.0 167.0L207.0 166.9L208.0 166.8L209.0 166.7L210.0 166.6L211.0 166.5L212.0 166.4L213.0 166.3L214.0 166.2L215.0 166.0L216.0 165.8L217.0 165.6L218.0 165.4L219.0 164.6L220.0 163.8L221.0 163.0L222.0 162.1L223.0 161.2L224.0 160.3L225.0 160.1L226.0 159.8L227.0 159.6L228.0 159.9L229.0 160.2L230.0 160.5L231.0 160.7L232.0 160.9L233.0 161.1L234.0 161.3L235.0 161.4L236.0 161.6L237.0 160.6L238.0 159.7L239.0 153.8L239.5 151.0L240.0 146.4L241.0 137.6L242.0 133.2L242.5 131.1L243.0 130.4L243.6 129.6L244.0 130.0L245.0 130.9L246.0 134.0L246.5 135.6L247.0 137.3L248.0 140.8L249.0 144.3L250.0 147.0L251.0 149.6L252.0 152.3L253.0 153.8L254.0 155.2L255.0 156.7L256.0 157.4L257.0 158.1L258.0 158.9L259.0 158.8L260.0 158.7L261.0 158.6L262.0 158.6L263.0 158.5L264.0 158.4L265.0 158.3L266.0 158.2L267.0 158.1L268.0 158.0L269.0 157.9L270.0 157.8L271.0 157.8L272.0 157.7L273.0 157.7L274.0 157.6L275.0 157.6L276.0 157.6L277.0 157.6L278.0 157.6L279.0 157.6L280.0 157.6L281.0 157.6L282.0 157.6L283.0 157.6L284.0 157.6L285.0 157.6L286.0 157.6L287.0 157.6L288.0 157.5L289.0 157.5L290.0 157.5L291.0 157.5L292.0 157.4L293.0 157.4L294.0 157.4L295.0 157.4L296.0 157.4L297.0 157.3L298.0 157.2L299.0 157.0L300.0 156.9L301.0 156.8L302.0 156.7L303.0 156.9L304.0 157.0L305.0 157.2L306.0 157.4L307.0 157.5L308.0 157.6L309.0 157.6L310.0 157.7L311.0 157.8L312.0 157.9L313.0 157.9L314.0 158.0L315.0 158.0L316.0 158.1L317.0 158.1L318.0 158.2L319.0 158.3L320.0 158.3L321.0 158.4L322.0 158.5L323.0 158.5L324.0 158.6L325.0 158.4L326.0 158.3L327.0 158.2L328.0 157.6L329.0 157.0L330.0 156.4L331.0 155.5L332.0 154.7L333.0 154.6L333.5 154.5L334.0 154.6L335.0 154.8L336.0 155.5L337.0 156.2L338.0 157.2L339.0 158.1L340.0 158.3L341.0 158.5L342.0 158.6L343.0 158.8L344.0 159.0L345.0 159.2L346.0 159.4L347.0 159.5L348.0 159.6L349.0 159.7L350.0 159.8L351.0 159.9L352.0 160.0L353.0 160.0L354.0 160.1L355.0 160.1L356.0 160.0L357.0 159.9L358.0 159.8L359.0 159.7L360.0 159.7L361.0 159.5L362.0 159.3L363.0 159.2L364.0 159.0L365.0 158.9L366.0 158.6L367.0 158.4L368.0 158.2L369.0 158.0L370.0 157.8L371.0 157.5L372.0 157.2L373.0 156.9L374.0 156.6L375.0 156.3L376.0 155.9L377.0 155.9L378.0 155.8L379.0 155.8L380.0 155.7L381.0 155.7L382.0 155.9L383.0 156.0L384.0 156.2L385.0 156.4L386.0 156.5L387.0 156.6L388.0 156.6L389.0 156.7L390.0 156.8L391.0 156.8L392.0 156.9L393.0 156.7L394.0 156.6L395.0 156.4L396.0 156.3L396.5 156.2L397.0 156.3L398.0 156.5L399.0 156.8L400.0 157.0L401.0 157.2L402.0 157.5L403.0 157.7L403.5 157.9L404.0 157.8L405.0 157.8L406.0 157.8L407.0 157.8L408.0 157.7L409.0 157.7L410.0 157.7L411.0 157.8L412.0 157.9L413.0 158.0L414.0 158.1L415.0 158.2L416.0 158.3L417.0 158.4L418.0 158.5L419.0 158.6L420.0 158.7L421.0 158.7L422.0 158.8L423.0 158.9L424.0 158.9L425.0 159.0L426.0 159.1L427.0 159.2L428.0 159.2L429.0 159.3L430.0 159.4L431.0 159.5L432.0 159.6L433.0 159.8L434.0 159.9L435.0 160.0L436.0 160.2L437.0 160.3L438.0 160.4L439.0 160.6L440.0 160.7L441.0 160.8L442.0 160.9L443.0 161.1L444.0 161.2L445.0 161.3L446.0 161.4L447.0 161.5L448.0 161.7L449.0 161.7L450.0 161.7L450.3 161.7L450.8 161.4L451.0 161.3L451.3 161.1L451.6 160.9L452.0 160.8L452.5 160.7L453.0 160.6L453.4 160.6L454.0 160.6L454.2 160.7L455.0 160.7L455.8 160.8L456.0 160.8L456.5 160.8L457.0 160.9L457.5 161.2L458.0 161.5L458.5 161.6L458.8 161.7L459.0 161.7L460.0 161.7L461.0 161.8L462.0 161.9L463.0 162.0L464.0 162.1L465.0 162.2L466.0 162.3L467.0 162.4L468.0 162.6L469.0 162.7L470.0 162.8L471.0 162.9L472.0 163.0L472.8 163.1L473.0 163.1L474.0 163.2L475.0 163.2L476.0 163.3L477.0 163.3L478.0 163.4L479.0 163.5L480.0 163.5L481.0 163.6L482.0 163.7L483.0 163.7L484.0 163.8L485.0 163.9L486.0 163.9L487.0 164.0L488.0 164.0L489.0 164.1L489.5 164.1L490.0 164.1L491.0 164.0L492.0 163.9L493.0 163.9L494.0 163.8L495.0 163.7L496.0 163.5L497.0 163.4L498.0 163.2L499.0 163.1L500.0 163.3L501.0 163.4L502.0 163.6L503.0 163.8L504.0 163.9L505.0 164.1L506.0 164.2L507.0 164.3L508.0 164.4L509.0 164.6L510.0 164.7L511.0 164.8L512.0 164.9L513.0 165.0L514.0 165.1L514.6 165.2L515.0 165.2L516.0 165.3L517.0 165.4L518.0 165.5L519.0 165.6L520.0 165.7L521.0 165.8L522.0 165.8L523.0 165.8L524.0 165.8L525.0 165.8L526.0 165.9L527.0 165.9L528.0 164.7L528.5 164.1L529.0 163.7L530.0 163.0L530.5 162.7L531.0 162.7L532.0 162.8L532.5 162.8L533.0 163.2L534.0 163.9L535.0 164.0L536.0 164.1L537.0 163.8L538.0 163.6L539.0 163.4L540.0 163.2L541.0 162.8L542.0 162.5L543.0 162.1L543.5 162.0L544.0 161.7L545.0 161.3L545.5 161.1L546.0 159.2L547.0 155.6L548.0 152.0L549.0 148.8L550.0 147.8L550.2 147.6L551.0 146.9L551.6 146.5L552.0 146.5L552.5 146.4L553.0 146.7L553.5 146.9L554.0 148.2L555.0 150.9L556.0 152.0L556.5 152.5L557.0 152.3L558.0 152.1L559.0 151.9L560.0 151.8L561.0 151.6L562.0 151.2L563.0 151.5L564.0 151.8L565.0 152.2L566.0 152.6L567.0 153.1L568.0 153.4L569.0 153.8L570.0 154.2L571.0 154.0L572.0 153.8L573.0 153.7L574.0 153.6L575.0 153.5L576.0 153.4L577.0 153.8L578.0 154.1L579.0 154.7L580.0 155.4L581.0 155.8L582.0 156.2L583.0 156.5L583.5 156.7L584.0 156.8L584.5 157.0L585.0 157.1L586.0 157.3L587.0 157.5L587.5 157.6L588.0 157.7L589.0 158.0L590.0 158.3L590.5 158.7L591.0 159.0L591.5 159.4L592.0 159.8L593.0 160.5L594.0 161.0L595.0 161.5L596.0 162.0L597.0 162.2L598.0 162.4L599.0 162.5L600.0 162.7L601.0 162.8L602.0 162.9L603.0 163.0L604.0 163.1L605.0 163.2L606.0 163.3L607.0 163.4L608.0 163.5L609.0 163.5L610.0 163.6L611.0 163.6L612.0 163.6L613.0 163.6L614.0 163.2L615.0 162.8L615.6 162.6L616.0 161.8L617.0 160.0L618.0 156.9L619.0 155.3L620.0 153.7L621.0 153.3L621.5 153.1L622.0 153.2L623.0 153.2L624.0 153.9L625.0 154.6L626.0 155.4L627.0 156.3L628.0 156.3L629.0 156.4L630.0 156.5L631.0 156.5L632.0 156.6L633.0 156.7L634.0 156.8L635.0 156.9L636.0 157.1L637.0 157.3L638.0 157.5L639.0 157.7L640.0 158.0L641.0 158.2L642.0 158.4L643.0 158.7L644.0 158.9L645.0 159.2L646.0 159.4L647.0 159.7L648.0 159.9L649.0 160.4L650.0 160.8L651.0 161.2L652.0 161.6L653.0 162.0L654.0 162.5L655.0 162.9L656.0 163.3L657.0 163.6L658.0 164.0L659.0 164.3L660.0 164.7L661.0 165.0L662.0 165.4L663.0 165.7L664.0 166.0L665.0 166.2L666.0 166.4L667.0 166.5L668.0 166.7L669.0 166.9L670.0 167.1L671.0 167.2L672.0 167.3L673.0 167.4L674.0 167.5L675.0 167.6L676.0 167.7" fill="none" stroke="#1e6b55" stroke-width="1.60" stroke-linejoin="round"/>
<path d="M147.0 170.2L148.0 170.1L149.0 170.0L150.0 169.8L151.0 169.7L152.0 169.6L153.0 169.5L154.0 169.4L155.0 169.3L156.0 169.3L157.0 169.3L158.0 169.2L159.0 169.2L160.0 169.2L161.0 169.2L162.0 169.1L163.0 169.1L164.0 169.1L165.0 169.1L166.0 169.1L167.0 169.0L168.0 169.0L169.0 169.0L170.0 169.0L171.0 168.9L172.0 168.9L173.0 168.9L174.0 168.9L175.0 168.8L176.0 168.8L177.0 168.8L178.0 168.8L179.0 168.7L180.0 168.7L181.0 168.7L182.0 168.6L183.0 168.6L184.0 168.6L185.0 168.6L186.0 168.5L187.0 168.4L188.0 168.4L189.0 168.3L190.0 168.2L191.0 168.1L192.0 168.1L193.0 168.0L194.0 167.9L195.0 167.9L196.0 167.8L197.0 167.7L198.0 167.7L199.0 167.6L200.0 167.6L201.0 167.5L202.0 167.4L203.0 167.4L204.0 167.3L205.0 167.3L206.0 167.2L207.0 167.1L208.0 167.1L209.0 167.0L210.0 166.9L211.0 166.8L212.0 166.7L213.0 166.7L214.0 166.6L215.0 166.4L216.0 166.3L217.0 166.1L218.0 165.9L219.0 165.2L220.0 164.6L221.0 163.9L222.0 163.2L223.0 162.5L224.0 161.8L225.0 161.7L226.0 161.5L227.0 161.4L228.0 161.6L229.0 161.9L230.0 162.1L231.0 162.3L232.0 162.4L233.0 162.5L234.0 162.7L235.0 162.8L236.0 163.0L237.0 162.1L238.0 161.3L239.0 156.2L239.5 153.7L240.0 149.8L241.0 142.1L242.0 138.1L242.5 136.2L243.0 135.5L243.6 134.7L244.0 135.0L245.0 135.8L246.0 138.5L246.5 139.9L247.0 141.4L248.0 144.5L249.0 147.6L250.0 149.9L251.0 152.2L252.0 154.5L253.0 155.8L254.0 157.1L255.0 158.4L256.0 159.0L257.0 159.6L258.0 160.3L259.0 160.2L260.0 160.1L261.0 160.0L262.0 160.0L263.0 159.9L264.0 159.8L265.0 159.8L266.0 159.7L267.0 159.6L268.0 159.5L269.0 159.4L270.0 159.3L271.0 159.2L272.0 159.2L273.0 159.2L274.0 159.2L275.0 159.1L276.0 159.1L277.0 159.1L278.0 159.1L279.0 159.1L280.0 159.1L281.0 159.1L282.0 159.1L283.0 159.1L284.0 159.1L285.0 159.1L286.0 159.1L287.0 159.1L288.0 159.1L289.0 159.0L290.0 159.0L291.0 159.0L292.0 159.0L293.0 159.0L294.0 158.9L295.0 158.9L296.0 158.9L297.0 158.8L298.0 158.7L299.0 158.6L300.0 158.5L301.0 158.4L302.0 158.3L303.0 158.5L304.0 158.6L305.0 158.8L306.0 158.9L307.0 159.0L308.0 159.1L309.0 159.2L310.0 159.2L311.0 159.3L312.0 159.3L313.0 159.4L314.0 159.4L315.0 159.5L316.0 159.5L317.0 159.6L318.0 159.6L319.0 159.7L320.0 159.8L321.0 159.8L322.0 159.9L323.0 159.9L324.0 160.0L325.0 159.9L326.0 159.8L327.0 159.7L328.0 159.1L329.0 158.6L330.0 158.1L331.0 157.3L332.0 156.6L333.0 156.6L333.5 156.4L334.0 156.5L335.0 156.7L336.0 157.3L337.0 158.0L338.0 158.8L339.0 159.6L340.0 159.7L341.0 159.9L342.0 160.0L343.0 160.2L344.0 160.3L345.0 160.5L346.0 160.7L347.0 160.7L348.0 160.8L349.0 160.9L350.0 161.0L351.0 161.1L352.0 161.1L353.0 161.2L354.0 161.3L355.0 161.2L356.0 161.2L357.0 161.1L358.0 161.0L359.0 160.9L360.0 160.9L361.0 160.7L362.0 160.6L363.0 160.4L364.0 160.3L365.0 160.1L366.0 159.9L367.0 159.7L368.0 159.5L369.0 159.3L370.0 159.1L371.0 158.8L372.0 158.5L373.0 158.2L374.0 158.0L375.0 157.7L376.0 157.4L377.0 157.3L378.0 157.3L379.0 157.2L380.0 157.1L381.0 157.1L382.0 157.2L383.0 157.4L384.0 157.6L385.0 157.7L386.0 157.9L387.0 157.9L388.0 158.0L389.0 158.1L390.0 158.1L391.0 158.2L392.0 158.2L393.0 158.1L394.0 158.0L395.0 157.9L396.0 157.8L396.5 157.7L397.0 157.8L398.0 158.0L399.0 158.1L400.0 158.3L401.0 158.5L402.0 158.7L403.0 158.9L403.5 159.0L404.0 159.0L405.0 159.0L406.0 158.9L407.0 158.9L408.0 158.9L409.0 158.8L410.0 158.8L411.0 158.9L412.0 159.0L413.0 159.2L414.0 159.3L415.0 159.4L416.0 159.6L417.0 159.7L418.0 159.8L419.0 159.9L420.0 160.0L421.0 160.1L422.0 160.2L423.0 160.3L424.0 160.4L425.0 160.5L426.0 160.5L427.0 160.6L428.0 160.7L429.0 160.8L430.0 160.9L431.0 161.0L432.0 161.2L433.0 161.3L434.0 161.5L435.0 161.6L436.0 161.7L437.0 161.9L438.0 162.0L439.0 162.2L440.0 162.3L441.0 162.4L442.0 162.5L443.0 162.6L444.0 162.7L445.0 162.8L446.0 162.9L447.0 163.0L448.0 163.1L449.0 163.1L450.0 163.1L450.3 163.1L450.8 162.9L451.0 162.8L451.3 162.6L451.6 162.5L452.0 162.3L452.5 162.3L453.0 162.2L453.4 162.2L454.0 162.3L454.2 162.3L455.0 162.3L455.8 162.4L456.0 162.4L456.5 162.4L457.0 162.5L457.5 162.7L458.0 163.0L458.5 163.0L458.8 163.0L459.0 163.0L460.0 163.0L461.0 163.1L462.0 163.2L463.0 163.3L464.0 163.4L465.0 163.5L466.0 163.6L467.0 163.7L468.0 163.8L469.0 163.9L470.0 164.0L471.0 164.0L472.0 164.1L472.8 164.2L473.0 164.2L474.0 164.3L475.0 164.3L476.0 164.4L477.0 164.4L478.0 164.5L479.0 164.5L480.0 164.6L481.0 164.6L482.0 164.7L483.0 164.7L484.0 164.8L485.0 164.8L486.0 164.9L487.0 164.9L488.0 165.0L489.0 165.0L489.5 165.1L490.0 165.0L491.0 165.0L492.0 164.9L493.0 164.9L494.0 164.8L495.0 164.7L496.0 164.6L497.0 164.5L498.0 164.4L499.0 164.3L500.0 164.4L501.0 164.6L502.0 164.7L503.0 164.9L504.0 165.0L505.0 165.2L506.0 165.3L507.0 165.4L508.0 165.5L509.0 165.6L510.0 165.7L511.0 165.8L512.0 165.9L513.0 166.0L514.0 166.2L514.6 166.2L515.0 166.3L516.0 166.3L517.0 166.4L518.0 166.5L519.0 166.6L520.0 166.7L521.0 166.8L522.0 166.8L523.0 166.9L524.0 166.9L525.0 166.9L526.0 167.0L527.0 167.0L528.0 166.2L528.5 165.8L529.0 165.5L530.0 165.1L530.5 164.9L531.0 164.9L532.0 165.0L532.5 165.0L533.0 165.3L534.0 165.9L535.0 165.9L536.0 166.0L537.0 165.9L538.0 165.8L539.0 165.6L540.0 165.5L541.0 165.3L542.0 165.2L543.0 165.0L543.5 164.9L544.0 164.7L545.0 164.5L545.5 164.4L546.0 163.2L547.0 160.8L548.0 158.4L549.0 156.2L550.0 155.5L550.2 155.4L551.0 154.9L551.6 154.6L552.0 154.5L552.5 154.3L553.0 154.4L553.5 154.4L554.0 155.2L555.0 156.9L556.0 157.5L556.5 157.8L557.0 157.7L558.0 157.4L559.0 157.3L560.0 157.1L561.0 156.9L562.0 156.6L563.0 156.8L564.0 156.9L565.0 157.2L566.0 157.4L567.0 157.7L568.0 157.9L569.0 158.1L570.0 158.4L571.0 158.2L572.0 158.0L573.0 157.8L574.0 157.7L575.0 157.6L576.0 157.5L577.0 157.7L578.0 157.9L579.0 158.4L580.0 158.8L581.0 159.2L582.0 159.4L583.0 159.7L583.5 159.9L584.0 160.0L584.5 160.0L585.0 160.1L586.0 160.3L587.0 160.4L587.5 160.5L588.0 160.6L589.0 160.8L590.0 161.1L590.5 161.4L591.0 161.7L591.5 161.9L592.0 162.2L593.0 162.8L594.0 163.2L595.0 163.6L596.0 164.0L597.0 164.1L598.0 164.2L599.0 164.4L600.0 164.5L601.0 164.6L602.0 164.7L603.0 164.8L604.0 164.9L605.0 165.0L606.0 165.1L607.0 165.2L608.0 165.3L609.0 165.3L610.0 165.3L611.0 165.3L612.0 165.4L613.0 165.4L614.0 165.1L615.0 164.9L615.6 164.7L616.0 164.2L617.0 163.0L618.0 160.9L619.0 159.8L620.0 158.8L621.0 158.6L621.5 158.6L622.0 158.7L623.0 158.7L624.0 159.2L625.0 159.7L626.0 160.3L627.0 160.9L628.0 161.0L629.0 161.0L630.0 161.1L631.0 161.2L632.0 161.3L633.0 161.3L634.0 161.4L635.0 161.6L636.0 161.7L637.0 161.9L638.0 162.0L639.0 162.2L640.0 162.3L641.0 162.4L642.0 162.5L643.0 162.6L644.0 162.8L645.0 162.9L646.0 163.0L647.0 163.1L648.0 163.2L649.0 163.5L650.0 163.7L651.0 164.0L652.0 164.2L653.0 164.5L654.0 164.8L655.0 165.0L656.0 165.3L657.0 165.5L658.0 165.7L659.0 165.9L660.0 166.2L661.0 166.4L662.0 166.6L663.0 166.9L664.0 167.1L665.0 167.2L666.0 167.3L667.0 167.4L668.0 167.6L669.0 167.7L670.0 167.8L671.0 167.9L672.0 167.9L673.0 168.0L674.0 168.1L675.0 168.2L676.0 168.3" fill="none" stroke="#f57f20" stroke-width="1.60" stroke-linejoin="round"/>
<path d="M147.0 170.2L148.0 170.1L149.0 170.0L150.0 169.9L151.0 169.8L152.0 169.7L153.0 169.6L154.0 169.5L155.0 169.4L156.0 169.4L157.0 169.3L158.0 169.3L159.0 169.3L160.0 169.3L161.0 169.3L162.0 169.2L163.0 169.2L164.0 169.2L165.0 169.2L166.0 169.2L167.0 169.1L168.0 169.1L169.0 169.1L170.0 169.1L171.0 169.1L172.0 169.0L173.0 169.0L174.0 169.0L175.0 169.0L176.0 168.9L177.0 168.9L178.0 168.9L179.0 168.9L180.0 168.8L181.0 168.8L182.0 168.8L183.0 168.8L184.0 168.7L185.0 168.7L186.0 168.7L187.0 168.6L188.0 168.5L189.0 168.5L190.0 168.4L191.0 168.3L192.0 168.3L193.0 168.2L194.0 168.2L195.0 168.1L196.0 168.0L197.0 168.0L198.0 167.9L199.0 167.8L200.0 167.8L201.0 167.7L202.0 167.7L203.0 167.6L204.0 167.6L205.0 167.5L206.0 167.5L207.0 167.4L208.0 167.3L209.0 167.2L210.0 167.2L211.0 167.1L212.0 167.0L213.0 166.9L214.0 166.9L215.0 166.7L216.0 166.5L217.0 166.4L218.0 166.2L219.0 165.6L220.0 165.1L221.0 164.5L222.0 163.9L223.0 163.3L224.0 162.7L225.0 162.6L226.0 162.6L227.0 162.5L228.0 162.7L229.0 162.9L230.0 163.2L231.0 163.3L232.0 163.4L233.0 163.5L234.0 163.7L235.0 163.8L236.0 163.9L237.0 163.2L238.0 162.4L239.0 158.0L239.5 155.8L240.0 152.3L241.0 145.5L242.0 141.9L242.5 140.2L243.0 139.5L243.6 138.8L244.0 139.0L245.0 139.7L246.0 142.1L246.5 143.3L247.0 144.6L248.0 147.3L249.0 150.0L250.0 152.0L251.0 154.1L252.0 156.2L253.0 157.3L254.0 158.4L255.0 159.6L256.0 160.1L257.0 160.7L258.0 161.2L259.0 161.2L260.0 161.1L261.0 161.0L262.0 160.9L263.0 160.9L264.0 160.8L265.0 160.7L266.0 160.6L267.0 160.5L268.0 160.4L269.0 160.3L270.0 160.2L271.0 160.2L272.0 160.1L273.0 160.1L274.0 160.1L275.0 160.1L276.0 160.0L277.0 160.0L278.0 160.0L279.0 160.0L280.0 160.0L281.0 160.0L282.0 160.0L283.0 160.0L284.0 160.0L285.0 160.0L286.0 160.0L287.0 160.0L288.0 160.0L289.0 159.9L290.0 159.9L291.0 159.9L292.0 159.9L293.0 159.9L294.0 159.9L295.0 159.8L296.0 159.8L297.0 159.7L298.0 159.7L299.0 159.6L300.0 159.5L301.0 159.4L302.0 159.3L303.0 159.4L304.0 159.6L305.0 159.7L306.0 159.8L307.0 159.9L308.0 160.0L309.0 160.1L310.0 160.1L311.0 160.2L312.0 160.2L313.0 160.3L314.0 160.3L315.0 160.4L316.0 160.4L317.0 160.5L318.0 160.5L319.0 160.6L320.0 160.6L321.0 160.7L322.0 160.7L323.0 160.8L324.0 160.8L325.0 160.7L326.0 160.6L327.0 160.5L328.0 160.0L329.0 159.6L330.0 159.1L331.0 158.4L332.0 157.8L333.0 157.7L333.5 157.6L334.0 157.7L335.0 157.9L336.0 158.4L337.0 159.0L338.0 159.7L339.0 160.5L340.0 160.6L341.0 160.7L342.0 160.9L343.0 161.0L344.0 161.1L345.0 161.2L346.0 161.4L347.0 161.5L348.0 161.6L349.0 161.6L350.0 161.7L351.0 161.8L352.0 161.9L353.0 161.9L354.0 162.0L355.0 161.9L356.0 161.9L357.0 161.8L358.0 161.7L359.0 161.7L360.0 161.6L361.0 161.4L362.0 161.3L363.0 161.2L364.0 161.0L365.0 160.9L366.0 160.7L367.0 160.5L368.0 160.3L369.0 160.1L370.0 159.9L371.0 159.7L372.0 159.4L373.0 159.1L374.0 158.8L375.0 158.5L376.0 158.3L377.0 158.2L378.0 158.1L379.0 158.1L380.0 158.0L381.0 157.9L382.0 158.1L383.0 158.3L384.0 158.5L385.0 158.6L386.0 158.8L387.0 158.9L388.0 158.9L389.0 159.0L390.0 159.1L391.0 159.1L392.0 159.2L393.0 159.1L394.0 159.0L395.0 159.0L396.0 158.9L396.5 158.8L397.0 158.9L398.0 159.0L399.0 159.1L400.0 159.2L401.0 159.4L402.0 159.5L403.0 159.7L403.5 159.8L404.0 159.7L405.0 159.7L406.0 159.6L407.0 159.5L408.0 159.5L409.0 159.4L410.0 159.3L411.0 159.5L412.0 159.6L413.0 159.8L414.0 159.9L415.0 160.1L416.0 160.2L417.0 160.4L418.0 160.5L419.0 160.6L420.0 160.7L421.0 160.9L422.0 161.0L423.0 161.1L424.0 161.2L425.0 161.3L426.0 161.4L427.0 161.5L428.0 161.6L429.0 161.7L430.0 161.8L431.0 162.0L432.0 162.1L433.0 162.3L434.0 162.4L435.0 162.6L436.0 162.7L437.0 162.9L438.0 163.0L439.0 163.2L440.0 163.3L441.0 163.4L442.0 163.5L443.0 163.6L444.0 163.6L445.0 163.7L446.0 163.8L447.0 163.9L448.0 164.0L449.0 164.0L450.0 164.0L450.3 164.0L450.8 163.8L451.0 163.7L451.3 163.6L451.6 163.5L452.0 163.4L452.5 163.4L453.0 163.3L453.4 163.3L454.0 163.3L454.2 163.4L455.0 163.4L455.8 163.4L456.0 163.4L456.5 163.5L457.0 163.5L457.5 163.7L458.0 163.9L458.5 163.9L458.8 163.9L459.0 163.9L460.0 163.9L461.0 164.0L462.0 164.1L463.0 164.2L464.0 164.3L465.0 164.3L466.0 164.4L467.0 164.5L468.0 164.6L469.0 164.6L470.0 164.7L471.0 164.8L472.0 164.9L472.8 164.9L473.0 164.9L474.0 165.0L475.0 165.0L476.0 165.1L477.0 165.1L478.0 165.2L479.0 165.2L480.0 165.3L481.0 165.3L482.0 165.3L483.0 165.4L484.0 165.4L485.0 165.5L486.0 165.5L487.0 165.6L488.0 165.6L489.0 165.7L489.5 165.7L490.0 165.6L491.0 165.6L492.0 165.6L493.0 165.5L494.0 165.5L495.0 165.4L496.0 165.3L497.0 165.2L498.0 165.1L499.0 165.1L500.0 165.2L501.0 165.4L502.0 165.5L503.0 165.6L504.0 165.8L505.0 165.9L506.0 166.0L507.0 166.1L508.0 166.2L509.0 166.3L510.0 166.4L511.0 166.5L512.0 166.6L513.0 166.7L514.0 166.8L514.6 166.9L515.0 166.9L516.0 167.0L517.0 167.1L518.0 167.2L519.0 167.3L520.0 167.4L521.0 167.4L522.0 167.5L523.0 167.5L524.0 167.5L525.0 167.6L526.0 167.6L527.0 167.7L528.0 167.0L528.5 166.6L529.0 166.5L530.0 166.1L530.5 166.0L531.0 166.0L532.0 166.0L532.5 166.0L533.0 166.3L534.0 166.7L535.0 166.8L536.0 166.8L537.0 166.7L538.0 166.6L539.0 166.5L540.0 166.4L541.0 166.2L542.0 166.0L543.0 165.9L543.5 165.8L544.0 165.7L545.0 165.5L545.5 165.4L546.0 164.5L547.0 162.8L548.0 161.2L549.0 159.8L550.0 159.6L550.2 159.6L551.0 159.6L551.6 159.5L552.0 159.4L552.5 159.3L553.0 159.4L553.5 159.4L554.0 160.0L555.0 161.1L556.0 161.5L556.5 161.7L557.0 161.6L558.0 161.4L559.0 161.2L560.0 161.1L561.0 160.9L562.0 160.6L563.0 160.7L564.0 160.8L565.0 160.9L566.0 161.1L567.0 161.2L568.0 161.4L569.0 161.5L570.0 161.7L571.0 161.5L572.0 161.4L573.0 161.3L574.0 161.2L575.0 161.1L576.0 161.0L577.0 161.2L578.0 161.3L579.0 161.7L580.0 162.0L581.0 162.2L582.0 162.4L583.0 162.6L583.5 162.7L584.0 162.7L584.5 162.8L585.0 162.8L586.0 162.9L587.0 163.0L587.5 163.1L588.0 163.1L589.0 163.3L590.0 163.5L590.5 163.6L591.0 163.8L591.5 163.9L592.0 164.1L593.0 164.4L594.0 164.7L595.0 164.9L596.0 165.2L597.0 165.2L598.0 165.2L599.0 165.3L600.0 165.3L601.0 165.5L602.0 165.6L603.0 165.7L604.0 165.9L605.0 166.0L606.0 166.1L607.0 166.3L608.0 166.4L609.0 166.5L610.0 166.5L611.0 166.6L612.0 166.7L613.0 166.7L614.0 166.5L615.0 166.3L615.6 166.2L616.0 165.8L617.0 164.8L618.0 163.1L619.0 162.3L620.0 161.4L621.0 161.2L621.5 161.1L622.0 161.2L623.0 161.2L624.0 161.6L625.0 162.0L626.0 162.5L627.0 162.9L628.0 163.0L629.0 163.1L630.0 163.1L631.0 163.2L632.0 163.3L633.0 163.3L634.0 163.4L635.0 163.5L636.0 163.6L637.0 163.8L638.0 163.9L639.0 164.0L640.0 164.1L641.0 164.2L642.0 164.3L643.0 164.4L644.0 164.5L645.0 164.6L646.0 164.7L647.0 164.8L648.0 164.9L649.0 165.1L650.0 165.3L651.0 165.5L652.0 165.7L653.0 166.0L654.0 166.2L655.0 166.4L656.0 166.6L657.0 166.7L658.0 166.9L659.0 167.1L660.0 167.3L661.0 167.4L662.0 167.6L663.0 167.8L664.0 168.0L665.0 168.0L666.0 168.1L667.0 168.2L668.0 168.3L669.0 168.4L670.0 168.5L671.0 168.5L672.0 168.6L673.0 168.7L674.0 168.7L675.0 168.8L676.0 168.8" fill="none" stroke="#c8341c" stroke-width="1.60" stroke-linejoin="round"/>
<path d="M120.00 17.30 V170.30 H723.40" class="ax"/>
<line x1="115.00" y1="170.30" x2="120.00" y2="170.30" class="ax"/>
<line x1="115.00" y1="139.70" x2="120.00" y2="139.70" class="ax"/>
<line x1="115.00" y1="109.10" x2="120.00" y2="109.10" class="ax"/>
<line x1="115.00" y1="78.50" x2="120.00" y2="78.50" class="ax"/>
<line x1="115.00" y1="47.90" x2="120.00" y2="47.90" class="ax"/>
<line x1="115.00" y1="17.30" x2="120.00" y2="17.30" class="ax"/>
<line x1="120.00" y1="170.30" x2="120.00" y2="175.30" class="ax"/>
<line x1="195.43" y1="170.30" x2="195.43" y2="175.30" class="ax"/>
<line x1="270.85" y1="170.30" x2="270.85" y2="175.30" class="ax"/>
<line x1="346.27" y1="170.30" x2="346.27" y2="175.30" class="ax"/>
<line x1="421.70" y1="170.30" x2="421.70" y2="175.30" class="ax"/>
<line x1="497.12" y1="170.30" x2="497.12" y2="175.30" class="ax"/>
<line x1="572.55" y1="170.30" x2="572.55" y2="175.30" class="ax"/>
<line x1="647.98" y1="170.30" x2="647.98" y2="175.30" class="ax"/>
<line x1="723.40" y1="170.30" x2="723.40" y2="175.30" class="ax"/>
<text transform="translate(108.37 194.40) scale(0.940 1)" font-size="15.00" font-weight="normal" fill="#000">150</text>
<text transform="translate(184.15 194.33) scale(0.940 1)" font-size="15.00" font-weight="normal" fill="#000">250</text>
<text transform="translate(259.50 194.33) scale(0.940 1)" font-size="15.00" font-weight="normal" fill="#000">350</text>
<text transform="translate(335.14 194.33) scale(0.940 1)" font-size="15.00" font-weight="normal" fill="#000">450</text>
<text transform="translate(410.28 194.33) scale(0.940 1)" font-size="15.00" font-weight="normal" fill="#000">550</text>
<text transform="translate(485.85 194.33) scale(0.940 1)" font-size="15.00" font-weight="normal" fill="#000">650</text>
<text transform="translate(561.06 194.33) scale(0.940 1)" font-size="15.00" font-weight="normal" fill="#000">750</text>
<text transform="translate(636.70 194.33) scale(0.940 1)" font-size="15.00" font-weight="normal" fill="#000">850</text>
<text transform="translate(712.20 194.33) scale(0.940 1)" font-size="15.00" font-weight="normal" fill="#000">950</text>
<text transform="translate(98.75 175.93) scale(0.935 1)" font-size="15.00" font-weight="normal" fill="#000">0</text>
<text transform="translate(68.20 145.10) scale(0.935 1)" font-size="15.00" font-weight="normal" fill="#000">10000</text>
<text transform="translate(68.20 114.42) scale(0.935 1)" font-size="15.00" font-weight="normal" fill="#000">20000</text>
<text transform="translate(68.20 83.83) scale(0.935 1)" font-size="15.00" font-weight="normal" fill="#000">30000</text>
<text transform="translate(68.20 53.23) scale(0.935 1)" font-size="15.00" font-weight="normal" fill="#000">40000</text>
<text transform="translate(68.20 22.63) scale(0.935 1)" font-size="15.00" font-weight="normal" fill="#000">50000</text>
<text transform="translate(59.30 140.91) rotate(-90) scale(0.961 1)" font-size="15" font-weight="bold">Intensity (AU)</text>
<text transform="translate(365.96 215.30) scale(0.957 1)" font-size="15.00" font-weight="bold" fill="#000">Wavelength (nm)</text>
<text transform="translate(159.90 39.60) scale(0.890 1)" font-size="15.00" font-weight="normal" fill="#000">ER</text>
<line x1="134.2" y1="53.10" x2="164" y2="53.10" stroke="#222" stroke-width="1.8"/>
<text transform="translate(167.71 58.75) scale(0.880 1)" font-size="15.00" font-weight="normal" fill="#666">1.41</text>
<line x1="134.2" y1="69.10" x2="164" y2="69.10" stroke="#5068d0" stroke-width="1.8"/>
<text transform="translate(167.71 74.75) scale(0.880 1)" font-size="15.00" font-weight="normal" fill="#666">1.43</text>
<line x1="134.2" y1="85.10" x2="164" y2="85.10" stroke="#4dc3f0" stroke-width="1.8"/>
<text transform="translate(167.71 90.75) scale(0.880 1)" font-size="15.00" font-weight="normal" fill="#666">1.51</text>
<line x1="134.2" y1="101.20" x2="164" y2="101.20" stroke="#6ccb1f" stroke-width="1.8"/>
<text transform="translate(167.71 106.85) scale(0.880 1)" font-size="15.00" font-weight="normal" fill="#666">1.64</text>
<line x1="134.2" y1="117.20" x2="164" y2="117.20" stroke="#1e6b55" stroke-width="1.8"/>
<text transform="translate(167.71 122.85) scale(0.880 1)" font-size="15.00" font-weight="normal" fill="#666">1.76</text>
<line x1="134.2" y1="132.50" x2="164" y2="132.50" stroke="#f57f20" stroke-width="1.8"/>
<text transform="translate(167.71 138.15) scale(0.880 1)" font-size="15.00" font-weight="normal" fill="#666">1.88</text>
<line x1="134.2" y1="148.40" x2="164" y2="148.40" stroke="#c8341c" stroke-width="1.8"/>
<text transform="translate(168.37 154.05) scale(0.880 1)" font-size="15.00" font-weight="normal" fill="#666">2.01</text>
<text transform="translate(228.03 50.99) scale(0.916 1)" font-size="15.50" font-weight="normal" fill="#000">OH*</text>
<text transform="translate(320.63 119.19) scale(0.918 1)" font-size="15.50" font-weight="normal" fill="#000">CH*</text>
<text transform="translate(391.63 119.19) scale(0.918 1)" font-size="15.50" font-weight="normal" fill="#000">C<tspan font-size="10.5" dy="2.8">2</tspan><tspan dy="-2.8">*</tspan></text>
<text transform="translate(443.06 38.34) scale(0.945 1)" font-size="15.50" font-weight="normal" fill="#000">Na*</text>
<text transform="translate(666.18 38.09) scale(0.900 1)" font-size="15.50" font-weight="normal" fill="#000">BFG0</text>
<text transform="translate(8.45 17.93) scale(0.950 1)" font-size="17.00" font-weight="normal" fill="#000">(a)</text>
<line x1="196.19" y1="251.30" x2="196.19" y2="405.30" class="gd"/>
<line x1="271.38" y1="251.30" x2="271.38" y2="405.30" class="gd"/>
<line x1="346.56" y1="251.30" x2="346.56" y2="405.30" class="gd"/>
<line x1="421.75" y1="251.30" x2="421.75" y2="405.30" class="gd"/>
<line x1="496.94" y1="251.30" x2="496.94" y2="405.30" class="gd"/>
<line x1="572.12" y1="251.30" x2="572.12" y2="405.30" class="gd"/>
<line x1="647.31" y1="251.30" x2="647.31" y2="405.30" class="gd"/>
<line x1="121.30" y1="374.50" x2="722.50" y2="374.50" class="gdh"/>
<line x1="121.30" y1="343.70" x2="722.50" y2="343.70" class="gdh"/>
<line x1="121.30" y1="312.90" x2="722.50" y2="312.90" class="gdh"/>
<line x1="121.30" y1="282.10" x2="722.50" y2="282.10" class="gdh"/>
<line x1="121.00" y1="251.30" x2="722.50" y2="251.30" class="gs"/>
<line x1="722.50" y1="251.30" x2="722.50" y2="405.30" class="gs"/>
<rect x="122" y="267.5" width="85" height="132" fill="#fff"/>
<path d="M147.0 405.3L148.0 405.2L149.0 405.1L150.0 405.0L151.0 404.9L152.0 404.9L153.0 404.8L154.0 404.7L155.0 404.6L156.0 404.6L157.0 404.5L158.0 404.4L159.0 404.4L160.0 404.3L161.0 404.2L162.0 404.2L163.0 404.1L164.0 404.1L165.0 404.0L166.0 404.0L167.0 403.9L168.0 403.9L169.0 403.8L170.0 403.8L171.0 403.7L172.0 403.6L173.0 403.6L174.0 403.5L175.0 403.5L176.0 403.4L177.0 403.4L178.0 403.3L179.0 403.3L180.0 403.2L181.0 403.1L182.0 403.1L183.0 403.0L184.0 402.9L185.0 402.8L186.0 402.8L187.0 402.7L188.0 402.6L189.0 402.5L190.0 402.4L191.0 402.4L192.0 402.3L193.0 402.2L194.0 402.1L195.0 402.1L196.0 402.0L197.0 401.8L198.0 401.6L199.0 401.4L200.0 401.2L201.0 401.1L202.0 400.9L203.0 400.7L204.0 400.5L205.0 400.3L206.0 400.1L207.0 399.9L208.0 399.8L209.0 399.6L210.0 399.4L211.0 399.2L212.0 399.0L213.0 398.6L214.0 398.2L215.0 397.9L216.0 397.5L217.0 397.1L218.0 396.8L219.0 396.4L220.0 396.0L221.0 395.0L222.0 394.0L223.0 393.0L224.0 392.0L225.0 391.3L226.0 390.7L227.0 390.0L228.0 390.1L229.0 390.1L230.0 390.2L231.0 390.2L232.0 390.3L233.0 390.3L234.0 390.4L235.0 389.9L236.0 389.5L237.0 389.0L238.0 384.3L238.5 382.0L239.0 377.3L240.0 368.0L241.0 363.4L242.0 358.8L242.4 357.0L243.0 356.5L244.0 355.6L245.0 357.8L246.0 360.0L247.0 362.7L248.0 365.3L249.0 368.0L250.0 370.0L251.0 372.0L252.0 374.0L253.0 376.0L254.0 376.8L255.0 377.6L256.0 378.4L257.0 379.2L258.0 380.0L259.0 379.5L260.0 379.0L261.0 378.5L262.0 378.0L263.0 377.5L264.0 377.0L265.0 376.5L266.0 376.0L267.0 375.8L268.0 375.6L269.0 375.4L270.0 375.2L271.0 375.0L272.0 374.8L273.0 374.6L274.0 374.4L275.0 374.2L276.0 374.0L277.0 373.9L278.0 373.7L279.0 373.6L280.0 373.4L281.0 373.3L282.0 373.1L283.0 373.0L284.0 372.9L285.0 372.7L286.0 372.6L287.0 372.4L288.0 372.3L289.0 372.1L290.0 372.0L291.0 371.9L292.0 371.8L293.0 371.7L294.0 371.6L295.0 371.5L296.0 371.4L297.0 371.3L298.0 371.2L299.0 371.1L300.0 371.0L301.0 371.1L302.0 371.2L303.0 371.3L304.0 371.4L305.0 371.5L306.0 371.6L307.0 371.7L308.0 371.8L309.0 371.9L310.0 372.0L311.0 372.1L312.0 372.2L313.0 372.3L314.0 372.4L315.0 372.5L316.0 372.6L317.0 372.7L318.0 372.8L319.0 372.9L320.0 373.0L321.0 373.1L322.0 373.1L323.0 373.2L324.0 373.3L325.0 373.3L326.0 373.4L327.0 373.5L328.0 373.5L329.0 373.6L330.0 373.0L331.0 372.3L331.5 372.0L332.0 371.6L333.0 370.9L333.6 370.4L334.0 370.6L335.0 371.2L336.0 371.8L337.0 372.4L338.0 372.9L339.0 373.4L340.0 373.9L341.0 374.4L342.0 375.0L343.0 375.5L344.0 376.0L345.0 376.5L346.0 377.0L347.0 377.2L348.0 377.3L349.0 377.5L350.0 377.6L351.0 377.8L352.0 378.0L353.0 378.1L354.0 378.3L355.0 378.4L356.0 378.6L357.0 378.3L358.0 378.1L359.0 377.8L360.0 377.5L361.0 377.2L362.0 376.9L363.0 376.7L364.0 376.4L365.0 375.6L366.0 374.8L367.0 374.0L368.0 373.2L369.0 372.4L370.0 371.6L371.0 370.8L372.0 370.0L373.0 369.4L374.0 368.8L375.0 368.1L376.0 367.5L377.0 366.9L378.0 366.2L379.0 365.6L380.0 365.0L381.0 365.1L382.0 365.2L383.0 365.4L384.0 365.5L385.0 365.6L386.0 365.8L387.0 365.9L388.0 366.0L389.0 365.9L390.0 365.8L391.0 365.6L392.0 365.5L393.0 365.4L394.0 365.2L395.0 365.1L396.0 365.0L397.0 365.4L398.0 365.8L399.0 366.1L400.0 366.5L401.0 367.0L402.0 367.5L403.0 368.0L404.0 368.5L405.0 369.0L406.0 369.5L407.0 370.0L408.0 370.5L409.0 371.0L410.0 371.5L411.0 371.9L412.0 372.4L413.0 372.9L414.0 373.3L415.0 373.8L416.0 374.2L417.0 374.6L418.0 375.1L419.0 375.6L420.0 376.0L421.0 376.4L422.0 376.8L423.0 377.2L424.0 377.6L425.0 378.0L426.0 378.4L427.0 378.8L428.0 379.2L429.0 379.6L430.0 380.0L431.0 380.4L432.0 380.9L433.0 381.3L434.0 381.7L435.0 382.1L436.0 382.6L437.0 383.0L438.0 383.4L439.0 383.9L440.0 384.3L441.0 384.7L442.0 385.1L443.0 385.5L444.0 385.9L445.0 386.4L446.0 386.8L447.0 387.2L448.0 387.6L449.0 388.0L450.0 387.3L451.0 385.9L452.0 385.5L453.0 385.0L454.0 385.6L455.0 386.7L456.0 387.7L457.0 388.5L458.0 388.8L459.0 389.0L460.0 389.3L461.0 389.5L462.0 389.7L463.0 389.9L464.0 390.0L465.0 390.2L466.0 390.4L467.0 390.6L468.0 390.8L469.0 391.0L470.0 391.1L471.0 391.3L472.0 391.5L473.0 391.7L474.0 391.9L475.0 392.1L476.0 392.3L477.0 392.4L478.0 392.6L479.0 392.8L480.0 393.0L481.0 393.1L482.0 393.3L483.0 393.4L484.0 393.6L485.0 393.7L486.0 393.9L487.0 394.0L488.0 394.1L489.0 394.3L490.0 394.4L491.0 394.6L492.0 394.7L493.0 394.5L494.0 394.3L495.0 394.0L496.0 393.8L497.0 393.6L498.0 393.8L499.0 393.9L500.0 394.1L501.0 394.2L502.0 394.3L503.0 394.4L504.0 394.6L505.0 394.7L506.0 394.8L507.0 394.9L508.0 395.0L509.0 395.1L510.0 395.3L511.0 395.4L512.0 395.5L513.0 395.6L514.0 395.7L515.0 395.8L516.0 396.0L517.0 396.1L518.0 396.2L519.0 396.3L520.0 396.4L521.0 396.5L522.0 396.7L523.0 396.8L524.0 396.9L525.0 397.0L526.0 396.0L527.0 395.0L528.0 394.0L529.0 393.0L530.0 392.0L531.0 392.5L532.0 393.0L533.0 393.5L534.0 394.0L535.0 394.0L536.0 394.0L537.0 394.0L538.0 394.0L539.0 394.0L540.0 394.0L541.0 393.2L542.0 392.4L543.0 391.6L544.0 390.8L545.0 390.0L546.0 384.0L547.0 378.0L548.0 372.0L549.0 368.7L550.0 365.3L551.0 362.0L552.0 363.5L553.0 365.0L554.0 368.5L555.0 372.0L556.0 372.2L557.0 372.4L558.0 372.6L559.0 372.8L560.0 373.0L561.0 372.5L562.0 372.0L563.0 372.6L564.0 373.2L565.0 373.8L566.0 374.4L567.0 375.5L568.0 376.7L569.0 377.9L570.0 379.0L571.0 378.9L572.0 378.8L573.0 378.7L574.0 378.6L575.0 378.5L576.0 378.4L577.0 379.0L578.0 379.7L579.0 380.4L580.0 381.0L581.0 381.9L582.0 382.8L583.0 383.7L584.0 384.6L585.0 385.5L586.0 386.4L587.0 387.3L588.0 388.2L589.0 389.1L590.0 390.0L591.0 390.4L592.0 390.7L593.0 391.1L594.0 391.4L595.0 391.8L596.0 392.2L597.0 392.5L598.0 392.9L599.0 393.2L600.0 393.6L601.0 393.8L602.0 393.9L603.0 394.1L604.0 394.3L605.0 394.4L606.0 394.6L607.0 394.8L608.0 394.9L609.0 395.1L610.0 395.3L611.0 395.4L612.0 395.6L613.0 395.1L614.0 394.5L615.0 394.0L616.0 390.0L617.0 386.0L618.0 382.0L619.0 380.1L620.0 378.3L621.0 376.4L622.0 377.9L623.0 379.5L624.0 381.0L625.0 381.6L626.0 382.3L627.0 383.0L628.0 383.6L629.0 384.0L630.0 384.3L631.0 384.7L632.0 385.1L633.0 385.4L634.0 385.8L635.0 386.2L636.0 386.5L637.0 386.9L638.0 387.3L639.0 387.6L640.0 388.0L641.0 388.4L642.0 388.8L643.0 389.2L644.0 389.6L645.0 390.0L646.0 390.4L647.0 390.8L648.0 391.2L649.0 391.6L650.0 392.0L651.0 392.5L652.0 393.0L653.0 393.5L654.0 394.0L655.0 394.5L656.0 395.0L657.0 395.5L658.0 396.0L659.0 396.5L660.0 397.0L661.0 397.3L662.0 397.6L663.0 397.9L664.0 398.2L665.0 398.5L666.0 398.8L667.0 399.1L668.0 399.5L669.0 399.8L670.0 400.1L671.0 400.4L672.0 400.7L673.0 401.0L674.0 401.3L675.0 401.6" fill="none" stroke="#222" stroke-width="1.60" stroke-linejoin="round"/>
<path d="M147.0 405.3L148.0 405.2L149.0 405.1L150.0 405.0L151.0 404.9L152.0 404.9L153.0 404.8L154.0 404.7L155.0 404.7L156.0 404.6L157.0 404.5L158.0 404.5L159.0 404.4L160.0 404.3L161.0 404.3L162.0 404.2L163.0 404.2L164.0 404.1L165.0 404.1L166.0 404.0L167.0 404.0L168.0 403.9L169.0 403.9L170.0 403.8L171.0 403.7L172.0 403.7L173.0 403.6L174.0 403.6L175.0 403.5L176.0 403.5L177.0 403.4L178.0 403.4L179.0 403.3L180.0 403.3L181.0 403.2L182.0 403.1L183.0 403.1L184.0 403.0L185.0 402.9L186.0 402.9L187.0 402.8L188.0 402.7L189.0 402.6L190.0 402.6L191.0 402.5L192.0 402.4L193.0 402.4L194.0 402.3L195.0 402.2L196.0 402.2L197.0 402.0L198.0 401.8L199.0 401.6L200.0 401.5L201.0 401.3L202.0 401.1L203.0 400.9L204.0 400.8L205.0 400.6L206.0 400.4L207.0 400.2L208.0 400.1L209.0 399.9L210.0 399.7L211.0 399.5L212.0 399.4L213.0 399.0L214.0 398.7L215.0 398.3L216.0 398.0L217.0 397.6L218.0 397.3L219.0 396.9L220.0 396.6L221.0 395.7L222.0 394.7L223.0 393.8L224.0 392.9L225.0 392.3L226.0 391.7L227.0 391.1L228.0 391.1L229.0 391.1L230.0 391.1L231.0 391.1L232.0 391.1L233.0 391.1L234.0 391.1L235.0 390.6L236.0 390.2L237.0 389.7L238.0 385.1L238.5 382.8L239.0 378.3L240.0 369.2L241.0 364.6L242.0 360.0L242.4 358.2L243.0 357.6L244.0 356.6L245.0 359.1L246.0 361.6L247.0 364.4L248.0 367.3L249.0 370.1L250.0 372.2L251.0 374.3L252.0 376.4L253.0 378.5L254.0 379.4L255.0 380.3L256.0 381.2L257.0 382.1L258.0 383.0L259.0 382.7L260.0 382.3L261.0 381.9L262.0 381.5L263.0 381.2L264.0 380.8L265.0 380.5L266.0 380.1L267.0 380.0L268.0 379.9L269.0 379.8L270.0 379.7L271.0 379.5L272.0 379.4L273.0 379.2L274.0 379.0L275.0 378.9L276.0 378.7L277.0 378.6L278.0 378.5L279.0 378.3L280.0 378.2L281.0 378.1L282.0 378.0L283.0 377.8L284.0 377.7L285.0 377.6L286.0 377.5L287.0 377.4L288.0 377.2L289.0 377.1L290.0 377.0L291.0 376.9L292.0 376.8L293.0 376.7L294.0 376.6L295.0 376.5L296.0 376.4L297.0 376.3L298.0 376.2L299.0 376.1L300.0 376.0L301.0 376.1L302.0 376.2L303.0 376.3L304.0 376.3L305.0 376.4L306.0 376.5L307.0 376.6L308.0 376.6L309.0 376.7L310.0 376.8L311.0 376.9L312.0 376.9L313.0 377.0L314.0 377.1L315.0 377.2L316.0 377.2L317.0 377.3L318.0 377.4L319.0 377.5L320.0 377.6L321.0 377.6L322.0 377.6L323.0 377.7L324.0 377.7L325.0 377.8L326.0 377.8L327.0 377.9L328.0 377.9L329.0 378.0L330.0 377.4L331.0 376.9L331.5 376.6L332.0 376.2L333.0 375.6L333.6 375.2L334.0 375.4L335.0 375.9L336.0 376.4L337.0 376.9L338.0 377.3L339.0 377.7L340.0 378.2L341.0 378.6L342.0 379.0L343.0 379.5L344.0 379.9L345.0 380.3L346.0 380.8L347.0 380.9L348.0 381.0L349.0 381.2L350.0 381.3L351.0 381.4L352.0 381.5L353.0 381.7L354.0 381.8L355.0 381.9L356.0 382.1L357.0 381.9L358.0 381.6L359.0 381.4L360.0 381.2L361.0 381.0L362.0 380.8L363.0 380.6L364.0 380.3L365.0 379.7L366.0 379.0L367.0 378.4L368.0 377.7L369.0 377.0L370.0 376.4L371.0 375.7L372.0 375.1L373.0 374.6L374.0 374.0L375.0 373.5L376.0 373.0L377.0 372.5L378.0 372.0L379.0 371.5L380.0 371.0L381.0 371.1L382.0 371.2L383.0 371.2L384.0 371.3L385.0 371.3L386.0 371.4L387.0 371.4L388.0 371.5L389.0 371.3L390.0 371.2L391.0 371.0L392.0 370.9L393.0 370.7L394.0 370.6L395.0 370.4L396.0 370.2L397.0 370.5L398.0 370.8L399.0 371.1L400.0 371.4L401.0 371.7L402.0 372.1L403.0 372.5L404.0 372.9L405.0 373.3L406.0 373.7L407.0 374.1L408.0 374.5L409.0 374.9L410.0 375.3L411.0 375.7L412.0 376.0L413.0 376.4L414.0 376.7L415.0 377.1L416.0 377.5L417.0 377.8L418.0 378.2L419.0 378.6L420.0 378.9L421.0 379.3L422.0 379.6L423.0 379.9L424.0 380.3L425.0 380.6L426.0 380.9L427.0 381.3L428.0 381.6L429.0 381.9L430.0 382.3L431.0 382.6L432.0 383.0L433.0 383.4L434.0 383.7L435.0 384.1L436.0 384.5L437.0 384.9L438.0 385.2L439.0 385.6L440.0 386.0L441.0 386.3L442.0 386.7L443.0 387.1L444.0 387.4L445.0 387.8L446.0 388.2L447.0 388.5L448.0 388.9L449.0 389.3L450.0 388.8L451.0 388.0L452.0 387.7L453.0 387.4L454.0 387.7L455.0 388.2L456.0 388.8L457.0 389.2L458.0 389.4L459.0 389.6L460.0 389.8L461.0 389.9L462.0 390.0L463.0 390.1L464.0 390.2L465.0 390.3L466.0 390.4L467.0 390.6L468.0 390.7L469.0 390.9L470.0 391.0L471.0 391.2L472.0 391.3L473.0 391.5L474.0 391.7L475.0 391.8L476.0 392.0L477.0 392.1L478.0 392.3L479.0 392.5L480.0 392.6L481.0 392.8L482.0 392.9L483.0 393.1L484.0 393.2L485.0 393.4L486.0 393.5L487.0 393.7L488.0 393.8L489.0 393.9L490.0 394.1L491.0 394.2L492.0 394.4L493.0 394.2L494.0 393.9L495.0 393.7L496.0 393.5L497.0 393.2L498.0 393.4L499.0 393.6L500.0 393.8L501.0 393.9L502.0 394.0L503.0 394.1L504.0 394.2L505.0 394.4L506.0 394.5L507.0 394.6L508.0 394.7L509.0 394.8L510.0 395.0L511.0 395.1L512.0 395.2L513.0 395.3L514.0 395.4L515.0 395.6L516.0 395.7L517.0 395.8L518.0 395.9L519.0 396.0L520.0 396.2L521.0 396.3L522.0 396.4L523.0 396.5L524.0 396.6L525.0 396.8L526.0 395.7L527.0 394.7L528.0 393.7L529.0 392.6L530.0 391.6L531.0 392.1L532.0 392.6L533.0 393.2L534.0 393.7L535.0 393.7L536.0 393.7L537.0 393.7L538.0 393.7L539.0 393.7L540.0 393.7L541.0 392.9L542.0 392.1L543.0 391.3L544.0 390.5L545.0 389.7L546.0 383.5L547.0 377.4L548.0 371.3L549.0 367.9L550.0 364.5L551.0 361.1L552.0 362.6L553.0 364.1L554.0 367.6L555.0 371.2L556.0 371.4L557.0 371.5L558.0 371.7L559.0 371.9L560.0 372.0L561.0 371.5L562.0 371.0L563.0 371.6L564.0 372.2L565.0 372.9L566.0 373.5L567.0 374.7L568.0 375.8L569.0 377.0L570.0 378.2L571.0 378.1L572.0 378.0L573.0 377.9L574.0 377.8L575.0 377.7L576.0 377.6L577.0 378.3L578.0 378.9L579.0 379.6L580.0 380.2L581.0 381.1L582.0 382.1L583.0 383.0L584.0 383.9L585.0 384.8L586.0 385.8L587.0 386.7L588.0 387.6L589.0 388.5L590.0 389.5L591.0 389.8L592.0 390.2L593.0 390.6L594.0 390.9L595.0 391.3L596.0 391.7L597.0 392.0L598.0 392.4L599.0 392.8L600.0 393.1L601.0 393.3L602.0 393.5L603.0 393.7L604.0 393.8L605.0 394.0L606.0 394.2L607.0 394.4L608.0 394.6L609.0 394.7L610.0 394.9L611.0 395.1L612.0 395.3L613.0 394.7L614.0 394.2L615.0 393.6L616.0 389.5L617.0 385.4L618.0 381.3L619.0 379.4L620.0 377.4L621.0 375.5L622.0 377.1L623.0 378.7L624.0 380.2L625.0 380.9L626.0 381.5L627.0 382.2L628.0 382.9L629.0 383.2L630.0 383.6L631.0 384.0L632.0 384.3L633.0 384.7L634.0 385.1L635.0 385.5L636.0 385.8L637.0 386.2L638.0 386.6L639.0 386.9L640.0 387.3L641.0 387.7L642.0 388.1L643.0 388.6L644.0 389.0L645.0 389.4L646.0 389.8L647.0 390.2L648.0 390.6L649.0 391.1L650.0 391.5L651.0 392.0L652.0 392.5L653.0 393.0L654.0 393.5L655.0 394.1L656.0 394.6L657.0 395.1L658.0 395.6L659.0 396.1L660.0 396.7L661.0 397.0L662.0 397.3L663.0 397.6L664.0 397.9L665.0 398.3L666.0 398.6L667.0 398.9L668.0 399.2L669.0 399.5L670.0 399.9L671.0 400.2L672.0 400.5L673.0 400.8L674.0 401.1L675.0 401.5" fill="none" stroke="#5068d0" stroke-width="1.60" stroke-linejoin="round"/>
<path d="M147.0 405.3L148.0 405.2L149.0 405.1L150.0 405.1L151.0 405.0L152.0 405.0L153.0 404.9L154.0 404.8L155.0 404.8L156.0 404.7L157.0 404.7L158.0 404.6L159.0 404.6L160.0 404.5L161.0 404.5L162.0 404.4L163.0 404.4L164.0 404.3L165.0 404.3L166.0 404.3L167.0 404.2L168.0 404.2L169.0 404.1L170.0 404.1L171.0 404.1L172.0 404.0L173.0 404.0L174.0 403.9L175.0 403.9L176.0 403.8L177.0 403.8L178.0 403.8L179.0 403.7L180.0 403.7L181.0 403.6L182.0 403.6L183.0 403.5L184.0 403.5L185.0 403.4L186.0 403.4L187.0 403.3L188.0 403.2L189.0 403.2L190.0 403.1L191.0 403.1L192.0 403.0L193.0 403.0L194.0 402.9L195.0 402.9L196.0 402.8L197.0 402.7L198.0 402.5L199.0 402.4L200.0 402.3L201.0 402.1L202.0 402.0L203.0 401.9L204.0 401.7L205.0 401.6L206.0 401.5L207.0 401.4L208.0 401.2L209.0 401.1L210.0 401.0L211.0 400.9L212.0 400.7L213.0 400.5L214.0 400.2L215.0 400.0L216.0 399.7L217.0 399.5L218.0 399.2L219.0 399.0L220.0 398.7L221.0 398.1L222.0 397.4L223.0 396.7L224.0 396.0L225.0 395.6L226.0 395.2L227.0 394.7L228.0 394.7L229.0 394.7L230.0 394.7L231.0 394.7L232.0 394.7L233.0 394.7L234.0 394.7L235.0 394.3L236.0 394.0L237.0 393.6L238.0 390.2L238.5 388.4L239.0 385.0L240.0 378.1L241.0 374.7L242.0 371.2L242.4 369.8L243.0 369.3L244.0 368.5L245.0 370.5L246.0 372.4L247.0 374.7L248.0 376.9L249.0 379.0L250.0 380.7L251.0 382.3L252.0 383.9L253.0 385.5L254.0 386.2L255.0 387.0L256.0 387.7L257.0 388.4L258.0 389.1L259.0 389.0L260.0 388.9L261.0 388.8L262.0 388.7L263.0 388.7L264.0 388.6L265.0 388.5L266.0 388.5L267.0 388.6L268.0 388.8L269.0 388.9L270.0 389.0L271.0 388.9L272.0 388.7L273.0 388.5L274.0 388.4L275.0 388.2L276.0 388.0L277.0 387.9L278.0 387.7L279.0 387.6L280.0 387.5L281.0 387.3L282.0 387.2L283.0 387.0L284.0 386.9L285.0 386.7L286.0 386.6L287.0 386.4L288.0 386.3L289.0 386.1L290.0 386.0L291.0 385.9L292.0 385.9L293.0 385.8L294.0 385.8L295.0 385.7L296.0 385.7L297.0 385.6L298.0 385.6L299.0 385.5L300.0 385.5L301.0 385.5L302.0 385.6L303.0 385.6L304.0 385.7L305.0 385.8L306.0 385.8L307.0 385.9L308.0 386.0L309.0 386.0L310.0 386.1L311.0 386.1L312.0 386.2L313.0 386.3L314.0 386.3L315.0 386.4L316.0 386.5L317.0 386.5L318.0 386.6L319.0 386.7L320.0 386.7L321.0 386.8L322.0 386.8L323.0 386.8L324.0 386.9L325.0 386.9L326.0 387.0L327.0 387.0L328.0 387.1L329.0 387.1L330.0 386.7L331.0 386.4L331.5 386.2L332.0 386.0L333.0 385.5L333.6 385.3L334.0 385.4L335.0 385.8L336.0 386.1L337.0 386.5L338.0 386.8L339.0 387.0L340.0 387.3L341.0 387.6L342.0 387.9L343.0 388.2L344.0 388.5L345.0 388.8L346.0 389.1L347.0 389.2L348.0 389.3L349.0 389.4L350.0 389.5L351.0 389.6L352.0 389.7L353.0 389.8L354.0 389.9L355.0 390.0L356.0 390.1L357.0 389.9L358.0 389.7L359.0 389.6L360.0 389.4L361.0 389.2L362.0 389.1L363.0 388.9L364.0 388.7L365.0 388.3L366.0 387.8L367.0 387.3L368.0 386.8L369.0 386.4L370.0 385.9L371.0 385.4L372.0 384.9L373.0 384.6L374.0 384.2L375.0 383.8L376.0 383.4L377.0 383.1L378.0 382.7L379.0 382.3L380.0 381.9L381.0 382.0L382.0 382.0L383.0 382.1L384.0 382.1L385.0 382.1L386.0 382.2L387.0 382.2L388.0 382.3L389.0 382.2L390.0 382.1L391.0 382.0L392.0 381.9L393.0 381.8L394.0 381.7L395.0 381.5L396.0 381.4L397.0 381.6L398.0 381.8L399.0 382.0L400.0 382.2L401.0 382.5L402.0 382.8L403.0 383.0L404.0 383.3L405.0 383.6L406.0 383.8L407.0 384.1L408.0 384.4L409.0 384.7L410.0 384.9L411.0 385.2L412.0 385.4L413.0 385.7L414.0 385.9L415.0 386.2L416.0 386.4L417.0 386.7L418.0 386.9L419.0 387.2L420.0 387.4L421.0 387.6L422.0 387.7L423.0 387.9L424.0 388.0L425.0 388.2L426.0 388.3L427.0 388.5L428.0 388.6L429.0 388.8L430.0 389.0L431.0 389.2L432.0 389.4L433.0 389.6L434.0 389.8L435.0 390.0L436.0 390.2L437.0 390.4L438.0 390.6L439.0 390.8L440.0 391.0L441.0 391.2L442.0 391.5L443.0 391.7L444.0 391.9L445.0 392.2L446.0 392.4L447.0 392.7L448.0 392.9L449.0 393.1L450.0 392.8L451.0 392.2L452.0 392.0L453.0 391.8L454.0 392.0L455.0 392.4L456.0 392.8L457.0 393.2L458.0 393.3L459.0 393.5L460.0 393.7L461.0 393.8L462.0 393.9L463.0 394.0L464.0 394.1L465.0 394.2L466.0 394.3L467.0 394.4L468.0 394.5L469.0 394.6L470.0 394.7L471.0 394.8L472.0 394.9L473.0 395.0L474.0 395.1L475.0 395.2L476.0 395.3L477.0 395.4L478.0 395.5L479.0 395.6L480.0 395.7L481.0 395.8L482.0 396.0L483.0 396.1L484.0 396.2L485.0 396.3L486.0 396.5L487.0 396.6L488.0 396.7L489.0 396.8L490.0 396.9L491.0 397.1L492.0 397.2L493.0 397.0L494.0 396.9L495.0 396.7L496.0 396.6L497.0 396.4L498.0 396.6L499.0 396.7L500.0 396.8L501.0 396.9L502.0 397.0L503.0 397.1L504.0 397.2L505.0 397.3L506.0 397.4L507.0 397.5L508.0 397.6L509.0 397.7L510.0 397.8L511.0 397.9L512.0 398.0L513.0 398.1L514.0 398.2L515.0 398.3L516.0 398.4L517.0 398.5L518.0 398.6L519.0 398.7L520.0 398.8L521.0 398.9L522.0 399.0L523.0 399.1L524.0 399.2L525.0 399.3L526.0 398.6L527.0 397.8L528.0 397.1L529.0 396.4L530.0 395.7L531.0 396.1L532.0 396.5L533.0 396.9L534.0 397.2L535.0 397.2L536.0 397.3L537.0 397.3L538.0 397.3L539.0 397.3L540.0 397.3L541.0 396.8L542.0 396.2L543.0 395.7L544.0 395.2L545.0 394.6L546.0 390.5L547.0 386.3L548.0 382.2L549.0 379.9L550.0 377.7L551.0 375.4L552.0 376.4L553.0 377.3L554.0 379.7L555.0 382.0L556.0 382.1L557.0 382.2L558.0 382.2L559.0 382.3L560.0 382.4L561.0 381.9L562.0 381.5L563.0 381.8L564.0 382.2L565.0 382.5L566.0 382.9L567.0 383.7L568.0 384.4L569.0 385.2L570.0 386.0L571.0 385.8L572.0 385.7L573.0 385.5L574.0 385.4L575.0 385.3L576.0 385.1L577.0 385.6L578.0 386.0L579.0 386.4L580.0 386.9L581.0 387.5L582.0 388.1L583.0 388.8L584.0 389.4L585.0 390.1L586.0 390.7L587.0 391.4L588.0 392.0L589.0 392.7L590.0 393.4L591.0 393.6L592.0 393.9L593.0 394.1L594.0 394.4L595.0 394.6L596.0 394.9L597.0 395.2L598.0 395.4L599.0 395.7L600.0 395.9L601.0 396.1L602.0 396.3L603.0 396.4L604.0 396.6L605.0 396.7L606.0 396.9L607.0 397.0L608.0 397.2L609.0 397.4L610.0 397.5L611.0 397.7L612.0 397.8L613.0 397.4L614.0 397.0L615.0 396.7L616.0 393.6L617.0 390.6L618.0 387.7L619.0 386.3L620.0 385.0L621.0 383.6L622.0 384.7L623.0 385.7L624.0 386.8L625.0 387.2L626.0 387.6L627.0 388.0L628.0 388.4L629.0 388.6L630.0 388.8L631.0 389.0L632.0 389.2L633.0 389.4L634.0 389.6L635.0 389.8L636.0 390.0L637.0 390.3L638.0 390.5L639.0 390.7L640.0 390.9L641.0 391.3L642.0 391.6L643.0 391.9L644.0 392.2L645.0 392.6L646.0 392.9L647.0 393.2L648.0 393.5L649.0 393.9L650.0 394.2L651.0 394.6L652.0 395.0L653.0 395.4L654.0 395.8L655.0 396.2L656.0 396.7L657.0 397.1L658.0 397.5L659.0 397.9L660.0 398.3L661.0 398.6L662.0 398.8L663.0 399.1L664.0 399.3L665.0 399.6L666.0 399.8L667.0 400.1L668.0 400.4L669.0 400.6L670.0 400.9L671.0 401.1L672.0 401.4L673.0 401.6L674.0 401.9L675.0 402.2" fill="none" stroke="#5bc8f2" stroke-width="1.60" stroke-linejoin="round"/>
<path d="M147.0 405.3L148.0 405.2L149.0 405.2L150.0 405.1L151.0 405.0L152.0 405.0L153.0 404.9L154.0 404.9L155.0 404.8L156.0 404.8L157.0 404.7L158.0 404.7L159.0 404.6L160.0 404.6L161.0 404.5L162.0 404.5L163.0 404.5L164.0 404.4L165.0 404.4L166.0 404.4L167.0 404.3L168.0 404.3L169.0 404.2L170.0 404.2L171.0 404.2L172.0 404.1L173.0 404.1L174.0 404.1L175.0 404.0L176.0 404.0L177.0 404.0L178.0 403.9L179.0 403.9L180.0 403.9L181.0 403.8L182.0 403.8L183.0 403.7L184.0 403.7L185.0 403.6L186.0 403.6L187.0 403.5L188.0 403.5L189.0 403.4L190.0 403.4L191.0 403.3L192.0 403.3L193.0 403.3L194.0 403.2L195.0 403.2L196.0 403.1L197.0 403.0L198.0 402.9L199.0 402.8L200.0 402.7L201.0 402.6L202.0 402.5L203.0 402.4L204.0 402.3L205.0 402.2L206.0 402.1L207.0 402.0L208.0 401.9L209.0 401.8L210.0 401.7L211.0 401.6L212.0 401.5L213.0 401.3L214.0 401.1L215.0 400.9L216.0 400.7L217.0 400.5L218.0 400.3L219.0 400.1L220.0 399.9L221.0 399.4L222.0 398.9L223.0 398.4L224.0 397.8L225.0 397.5L226.0 397.2L227.0 396.9L228.0 396.8L229.0 396.7L230.0 396.7L231.0 396.6L232.0 396.5L233.0 396.4L234.0 396.4L235.0 396.0L236.0 395.6L237.0 395.2L238.0 392.1L238.5 390.6L239.0 387.5L240.0 381.4L241.0 378.1L242.0 374.8L242.4 373.5L243.0 372.9L244.0 372.0L245.0 373.9L246.0 375.7L247.0 377.8L248.0 379.9L249.0 381.9L250.0 383.5L251.0 385.0L252.0 386.5L253.0 387.9L254.0 388.6L255.0 389.4L256.0 390.0L257.0 390.7L258.0 391.4L259.0 391.2L260.0 391.1L261.0 390.9L262.0 390.7L263.0 390.6L264.0 390.4L265.0 390.3L266.0 390.2L267.0 390.2L268.0 390.2L269.0 390.2L270.0 390.2L271.0 390.1L272.0 390.1L273.0 390.0L274.0 389.9L275.0 389.8L276.0 389.6L277.0 389.6L278.0 389.5L279.0 389.4L280.0 389.4L281.0 389.3L282.0 389.2L283.0 389.1L284.0 389.1L285.0 389.0L286.0 388.9L287.0 388.9L288.0 388.8L289.0 388.7L290.0 388.6L291.0 388.6L292.0 388.6L293.0 388.5L294.0 388.5L295.0 388.4L296.0 388.4L297.0 388.3L298.0 388.2L299.0 388.2L300.0 388.1L301.0 388.2L302.0 388.2L303.0 388.3L304.0 388.4L305.0 388.4L306.0 388.5L307.0 388.5L308.0 388.6L309.0 388.6L310.0 388.6L311.0 388.7L312.0 388.8L313.0 388.8L314.0 388.9L315.0 388.9L316.0 389.0L317.0 389.0L318.0 389.1L319.0 389.1L320.0 389.1L321.0 389.2L322.0 389.2L323.0 389.2L324.0 389.3L325.0 389.3L326.0 389.4L327.0 389.4L328.0 389.4L329.0 389.5L330.0 389.1L331.0 388.8L331.5 388.6L332.0 388.5L333.0 388.1L333.6 387.9L334.0 388.0L335.0 388.3L336.0 388.6L337.0 388.9L338.0 389.1L339.0 389.4L340.0 389.6L341.0 389.9L342.0 390.1L343.0 390.4L344.0 390.6L345.0 390.9L346.0 391.1L347.0 391.2L348.0 391.3L349.0 391.4L350.0 391.5L351.0 391.6L352.0 391.6L353.0 391.7L354.0 391.8L355.0 391.9L356.0 392.0L357.0 391.8L358.0 391.6L359.0 391.5L360.0 391.3L361.0 391.1L362.0 391.0L363.0 390.8L364.0 390.7L365.0 390.2L366.0 389.8L367.0 389.4L368.0 388.9L369.0 388.5L370.0 388.1L371.0 387.6L372.0 387.2L373.0 386.8L374.0 386.5L375.0 386.1L376.0 385.8L377.0 385.4L378.0 385.1L379.0 384.7L380.0 384.3L381.0 384.4L382.0 384.5L383.0 384.5L384.0 384.6L385.0 384.6L386.0 384.7L387.0 384.7L388.0 384.8L389.0 384.7L390.0 384.6L391.0 384.6L392.0 384.5L393.0 384.4L394.0 384.3L395.0 384.3L396.0 384.2L397.0 384.4L398.0 384.6L399.0 384.7L400.0 384.9L401.0 385.2L402.0 385.4L403.0 385.7L404.0 385.9L405.0 386.2L406.0 386.5L407.0 386.7L408.0 387.0L409.0 387.2L410.0 387.5L411.0 387.7L412.0 387.9L413.0 388.2L414.0 388.4L415.0 388.6L416.0 388.8L417.0 389.1L418.0 389.3L419.0 389.5L420.0 389.8L421.0 389.9L422.0 390.0L423.0 390.1L424.0 390.2L425.0 390.4L426.0 390.5L427.0 390.6L428.0 390.7L429.0 390.9L430.0 391.0L431.0 391.2L432.0 391.3L433.0 391.5L434.0 391.6L435.0 391.8L436.0 392.0L437.0 392.2L438.0 392.3L439.0 392.5L440.0 392.7L441.0 392.9L442.0 393.1L443.0 393.3L444.0 393.6L445.0 393.8L446.0 394.0L447.0 394.2L448.0 394.4L449.0 394.7L450.0 394.4L451.0 393.9L452.0 393.7L453.0 393.5L454.0 393.7L455.0 394.0L456.0 394.4L457.0 394.7L458.0 394.8L459.0 395.0L460.0 395.1L461.0 395.2L462.0 395.3L463.0 395.4L464.0 395.4L465.0 395.5L466.0 395.6L467.0 395.7L468.0 395.8L469.0 395.9L470.0 395.9L471.0 396.0L472.0 396.1L473.0 396.2L474.0 396.3L475.0 396.4L476.0 396.5L477.0 396.5L478.0 396.6L479.0 396.7L480.0 396.8L481.0 396.9L482.0 397.0L483.0 397.2L484.0 397.3L485.0 397.4L486.0 397.5L487.0 397.6L488.0 397.7L489.0 397.8L490.0 397.9L491.0 398.1L492.0 398.2L493.0 398.0L494.0 397.9L495.0 397.8L496.0 397.6L497.0 397.5L498.0 397.6L499.0 397.8L500.0 397.9L501.0 398.0L502.0 398.1L503.0 398.2L504.0 398.3L505.0 398.3L506.0 398.4L507.0 398.5L508.0 398.6L509.0 398.7L510.0 398.8L511.0 398.9L512.0 399.0L513.0 399.1L514.0 399.1L515.0 399.2L516.0 399.3L517.0 399.4L518.0 399.5L519.0 399.6L520.0 399.7L521.0 399.8L522.0 399.8L523.0 399.9L524.0 400.0L525.0 400.1L526.0 399.5L527.0 398.9L528.0 398.3L529.0 397.7L530.0 397.1L531.0 397.4L532.0 397.7L533.0 398.1L534.0 398.4L535.0 398.4L536.0 398.4L537.0 398.4L538.0 398.5L539.0 398.5L540.0 398.5L541.0 398.1L542.0 397.6L543.0 397.1L544.0 396.7L545.0 396.3L546.0 392.7L547.0 389.3L548.0 385.8L549.0 383.9L550.0 382.0L551.0 380.2L552.0 381.0L553.0 381.7L554.0 383.7L555.0 385.7L556.0 385.7L557.0 385.8L558.0 385.8L559.0 385.9L560.0 385.9L561.0 385.5L562.0 385.0L563.0 385.2L564.0 385.4L565.0 385.6L566.0 385.8L567.0 386.4L568.0 387.0L569.0 387.6L570.0 388.2L571.0 388.0L572.0 387.8L573.0 387.6L574.0 387.4L575.0 387.2L576.0 387.0L577.0 387.4L578.0 387.9L579.0 388.3L580.0 388.8L581.0 389.4L582.0 390.0L583.0 390.6L584.0 391.2L585.0 391.8L586.0 392.4L587.0 393.1L588.0 393.7L589.0 394.3L590.0 394.9L591.0 395.1L592.0 395.4L593.0 395.6L594.0 395.9L595.0 396.1L596.0 396.4L597.0 396.6L598.0 396.9L599.0 397.1L600.0 397.3L601.0 397.5L602.0 397.6L603.0 397.8L604.0 397.9L605.0 398.1L606.0 398.2L607.0 398.4L608.0 398.5L609.0 398.7L610.0 398.8L611.0 399.0L612.0 399.1L613.0 398.8L614.0 398.5L615.0 398.2L616.0 395.7L617.0 393.3L618.0 390.9L619.0 389.8L620.0 388.7L621.0 387.7L622.0 388.5L623.0 389.4L624.0 390.2L625.0 390.5L626.0 390.8L627.0 391.2L628.0 391.5L629.0 391.7L630.0 391.8L631.0 392.0L632.0 392.1L633.0 392.3L634.0 392.5L635.0 392.6L636.0 392.8L637.0 393.0L638.0 393.2L639.0 393.4L640.0 393.5L641.0 393.8L642.0 394.0L643.0 394.3L644.0 394.5L645.0 394.7L646.0 395.0L647.0 395.2L648.0 395.5L649.0 395.7L650.0 396.0L651.0 396.3L652.0 396.6L653.0 397.0L654.0 397.3L655.0 397.6L656.0 398.0L657.0 398.3L658.0 398.6L659.0 399.0L660.0 399.3L661.0 399.5L662.0 399.7L663.0 399.9L664.0 400.2L665.0 400.4L666.0 400.6L667.0 400.8L668.0 401.0L669.0 401.2L670.0 401.4L671.0 401.6L672.0 401.9L673.0 402.1L674.0 402.3L675.0 402.5" fill="none" stroke="#98e050" stroke-width="1.60" stroke-linejoin="round"/>
<path d="M147.0 405.3L148.0 405.2L149.0 405.2L150.0 405.1L151.0 405.0L152.0 405.0L153.0 404.9L154.0 404.9L155.0 404.9L156.0 404.8L157.0 404.8L158.0 404.7L159.0 404.7L160.0 404.6L161.0 404.6L162.0 404.6L163.0 404.5L164.0 404.5L165.0 404.5L166.0 404.4L167.0 404.4L168.0 404.3L169.0 404.3L170.0 404.3L171.0 404.2L172.0 404.2L173.0 404.2L174.0 404.2L175.0 404.1L176.0 404.1L177.0 404.1L178.0 404.0L179.0 404.0L180.0 404.0L181.0 403.9L182.0 403.9L183.0 403.8L184.0 403.8L185.0 403.7L186.0 403.7L187.0 403.7L188.0 403.6L189.0 403.6L190.0 403.5L191.0 403.5L192.0 403.5L193.0 403.4L194.0 403.4L195.0 403.3L196.0 403.3L197.0 403.2L198.0 403.1L199.0 403.0L200.0 402.9L201.0 402.8L202.0 402.7L203.0 402.6L204.0 402.5L205.0 402.4L206.0 402.3L207.0 402.2L208.0 402.1L209.0 402.0L210.0 402.0L211.0 401.9L212.0 401.8L213.0 401.6L214.0 401.4L215.0 401.3L216.0 401.1L217.0 400.9L218.0 400.7L219.0 400.6L220.0 400.4L221.0 399.9L222.0 399.4L223.0 399.0L224.0 398.5L225.0 398.2L226.0 397.9L227.0 397.6L228.0 397.6L229.0 397.6L230.0 397.6L231.0 397.6L232.0 397.6L233.0 397.6L234.0 397.5L235.0 397.3L236.0 397.0L237.0 396.7L238.0 394.1L238.5 392.9L239.0 390.3L240.0 385.2L241.0 382.6L242.0 380.0L242.4 379.0L243.0 378.6L244.0 378.0L245.0 379.4L246.0 380.9L247.0 382.6L248.0 384.2L249.0 385.9L250.0 387.1L251.0 388.3L252.0 389.5L253.0 390.7L254.0 391.3L255.0 391.8L256.0 392.3L257.0 392.9L258.0 393.4L259.0 393.3L260.0 393.1L261.0 393.0L262.0 392.8L263.0 392.7L264.0 392.6L265.0 392.4L266.0 392.3L267.0 392.3L268.0 392.3L269.0 392.3L270.0 392.4L271.0 392.3L272.0 392.2L273.0 392.1L274.0 392.0L275.0 391.9L276.0 391.8L277.0 391.8L278.0 391.7L279.0 391.7L280.0 391.6L281.0 391.5L282.0 391.5L283.0 391.4L284.0 391.3L285.0 391.3L286.0 391.2L287.0 391.2L288.0 391.1L289.0 391.0L290.0 391.0L291.0 390.9L292.0 390.9L293.0 390.9L294.0 390.8L295.0 390.8L296.0 390.7L297.0 390.7L298.0 390.6L299.0 390.6L300.0 390.6L301.0 390.6L302.0 390.6L303.0 390.7L304.0 390.7L305.0 390.8L306.0 390.8L307.0 390.9L308.0 390.9L309.0 390.9L310.0 391.0L311.0 391.0L312.0 391.1L313.0 391.1L314.0 391.2L315.0 391.2L316.0 391.2L317.0 391.3L318.0 391.3L319.0 391.4L320.0 391.4L321.0 391.4L322.0 391.5L323.0 391.5L324.0 391.5L325.0 391.6L326.0 391.6L327.0 391.6L328.0 391.6L329.0 391.7L330.0 391.4L331.0 391.1L331.5 391.0L332.0 390.8L333.0 390.5L333.6 390.3L334.0 390.4L335.0 390.6L336.0 390.9L337.0 391.2L338.0 391.4L339.0 391.6L340.0 391.8L341.0 392.0L342.0 392.3L343.0 392.5L344.0 392.7L345.0 392.9L346.0 393.1L347.0 393.2L348.0 393.3L349.0 393.3L350.0 393.4L351.0 393.5L352.0 393.5L353.0 393.6L354.0 393.7L355.0 393.8L356.0 393.8L357.0 393.7L358.0 393.7L359.0 393.6L360.0 393.5L361.0 393.4L362.0 393.3L363.0 393.2L364.0 393.2L365.0 392.9L366.0 392.6L367.0 392.3L368.0 392.0L369.0 391.7L370.0 391.4L371.0 391.1L372.0 390.8L373.0 390.6L374.0 390.4L375.0 390.2L376.0 390.0L377.0 389.8L378.0 389.6L379.0 389.4L380.0 389.2L381.0 389.2L382.0 389.2L383.0 389.2L384.0 389.2L385.0 389.2L386.0 389.2L387.0 389.3L388.0 389.3L389.0 389.2L390.0 389.1L391.0 389.0L392.0 388.9L393.0 388.8L394.0 388.7L395.0 388.6L396.0 388.5L397.0 388.7L398.0 388.8L399.0 388.9L400.0 389.0L401.0 389.2L402.0 389.3L403.0 389.5L404.0 389.7L405.0 389.9L406.0 390.0L407.0 390.2L408.0 390.4L409.0 390.6L410.0 390.8L411.0 390.9L412.0 391.1L413.0 391.2L414.0 391.4L415.0 391.6L416.0 391.7L417.0 391.9L418.0 392.1L419.0 392.2L420.0 392.4L421.0 392.5L422.0 392.6L423.0 392.7L424.0 392.8L425.0 392.9L426.0 393.0L427.0 393.1L428.0 393.2L429.0 393.3L430.0 393.4L431.0 393.5L432.0 393.7L433.0 393.8L434.0 393.9L435.0 394.1L436.0 394.2L437.0 394.4L438.0 394.5L439.0 394.6L440.0 394.8L441.0 395.0L442.0 395.1L443.0 395.3L444.0 395.5L445.0 395.7L446.0 395.8L447.0 396.0L448.0 396.2L449.0 396.4L450.0 396.2L451.0 395.9L452.0 395.8L453.0 395.7L454.0 395.8L455.0 396.0L456.0 396.2L457.0 396.4L458.0 396.5L459.0 396.6L460.0 396.7L461.0 396.8L462.0 396.8L463.0 396.9L464.0 397.0L465.0 397.0L466.0 397.1L467.0 397.2L468.0 397.3L469.0 397.3L470.0 397.4L471.0 397.5L472.0 397.5L473.0 397.6L474.0 397.7L475.0 397.8L476.0 397.8L477.0 397.9L478.0 398.0L479.0 398.1L480.0 398.2L481.0 398.3L482.0 398.4L483.0 398.5L484.0 398.6L485.0 398.7L486.0 398.8L487.0 398.9L488.0 399.0L489.0 399.1L490.0 399.2L491.0 399.3L492.0 399.4L493.0 399.3L494.0 399.2L495.0 399.1L496.0 399.0L497.0 398.9L498.0 399.0L499.0 399.1L500.0 399.3L501.0 399.3L502.0 399.4L503.0 399.5L504.0 399.6L505.0 399.7L506.0 399.8L507.0 399.8L508.0 399.9L509.0 400.0L510.0 400.1L511.0 400.2L512.0 400.2L513.0 400.3L514.0 400.4L515.0 400.5L516.0 400.6L517.0 400.6L518.0 400.7L519.0 400.8L520.0 400.9L521.0 400.9L522.0 401.0L523.0 401.1L524.0 401.2L525.0 401.2L526.0 400.8L527.0 400.3L528.0 399.8L529.0 399.4L530.0 398.9L531.0 399.2L532.0 399.5L533.0 399.8L534.0 400.1L535.0 400.1L536.0 400.2L537.0 400.2L538.0 400.3L539.0 400.3L540.0 400.4L541.0 400.1L542.0 399.8L543.0 399.5L544.0 399.2L545.0 398.9L546.0 396.5L547.0 394.2L548.0 391.9L549.0 390.7L550.0 389.5L551.0 388.4L552.0 388.9L553.0 389.3L554.0 390.6L555.0 391.9L556.0 391.8L557.0 391.8L558.0 391.8L559.0 391.8L560.0 391.7L561.0 391.5L562.0 391.2L563.0 391.4L564.0 391.6L565.0 391.8L566.0 392.0L567.0 392.4L568.0 392.9L569.0 393.3L570.0 393.8L571.0 393.7L572.0 393.6L573.0 393.5L574.0 393.4L575.0 393.3L576.0 393.2L577.0 393.4L578.0 393.7L579.0 393.9L580.0 394.2L581.0 394.5L582.0 394.9L583.0 395.3L584.0 395.6L585.0 396.0L586.0 396.4L587.0 396.8L588.0 397.2L589.0 397.6L590.0 398.0L591.0 398.1L592.0 398.3L593.0 398.4L594.0 398.5L595.0 398.7L596.0 398.8L597.0 399.0L598.0 399.1L599.0 399.3L600.0 399.5L601.0 399.6L602.0 399.7L603.0 399.8L604.0 399.9L605.0 400.0L606.0 400.2L607.0 400.3L608.0 400.4L609.0 400.5L610.0 400.6L611.0 400.7L612.0 400.8L613.0 400.6L614.0 400.4L615.0 400.2L616.0 398.5L617.0 396.7L618.0 395.0L619.0 394.3L620.0 393.6L621.0 392.9L622.0 393.4L623.0 393.9L624.0 394.4L625.0 394.6L626.0 394.7L627.0 394.9L628.0 395.1L629.0 395.1L630.0 395.2L631.0 395.2L632.0 395.3L633.0 395.4L634.0 395.4L635.0 395.5L636.0 395.6L637.0 395.7L638.0 395.8L639.0 395.9L640.0 396.0L641.0 396.1L642.0 396.3L643.0 396.5L644.0 396.7L645.0 396.9L646.0 397.1L647.0 397.3L648.0 397.5L649.0 397.7L650.0 397.9L651.0 398.1L652.0 398.4L653.0 398.7L654.0 398.9L655.0 399.2L656.0 399.5L657.0 399.7L658.0 400.0L659.0 400.3L660.0 400.5L661.0 400.7L662.0 400.9L663.0 401.0L664.0 401.2L665.0 401.4L666.0 401.5L667.0 401.7L668.0 401.9L669.0 402.0L670.0 402.2L671.0 402.4L672.0 402.6L673.0 402.7L674.0 402.9L675.0 403.1" fill="none" stroke="#2f7a64" stroke-width="1.60" stroke-linejoin="round"/>
<path d="M147.0 405.3L148.0 405.2L149.0 405.2L150.0 405.1L151.0 405.1L152.0 405.0L153.0 405.0L154.0 405.0L155.0 404.9L156.0 404.9L157.0 404.8L158.0 404.8L159.0 404.8L160.0 404.7L161.0 404.7L162.0 404.6L163.0 404.6L164.0 404.6L165.0 404.6L166.0 404.5L167.0 404.5L168.0 404.5L169.0 404.4L170.0 404.4L171.0 404.4L172.0 404.3L173.0 404.3L174.0 404.3L175.0 404.3L176.0 404.2L177.0 404.2L178.0 404.2L179.0 404.1L180.0 404.1L181.0 404.1L182.0 404.0L183.0 404.0L184.0 403.9L185.0 403.9L186.0 403.9L187.0 403.8L188.0 403.8L189.0 403.7L190.0 403.7L191.0 403.7L192.0 403.6L193.0 403.6L194.0 403.5L195.0 403.5L196.0 403.5L197.0 403.4L198.0 403.3L199.0 403.2L200.0 403.1L201.0 403.0L202.0 402.9L203.0 402.8L204.0 402.7L205.0 402.7L206.0 402.6L207.0 402.5L208.0 402.4L209.0 402.4L210.0 402.3L211.0 402.2L212.0 402.1L213.0 402.0L214.0 401.8L215.0 401.7L216.0 401.5L217.0 401.4L218.0 401.2L219.0 401.1L220.0 400.9L221.0 400.5L222.0 400.1L223.0 399.7L224.0 399.3L225.0 399.0L226.0 398.8L227.0 398.6L228.0 398.5L229.0 398.5L230.0 398.5L231.0 398.5L232.0 398.5L233.0 398.5L234.0 398.4L235.0 398.2L236.0 397.9L237.0 397.6L238.0 395.4L238.5 394.3L239.0 392.0L240.0 387.5L241.0 385.1L242.0 382.8L242.4 381.9L243.0 381.5L244.0 380.9L245.0 382.3L246.0 383.7L247.0 385.2L248.0 386.7L249.0 388.2L250.0 389.4L251.0 390.5L252.0 391.6L253.0 392.6L254.0 393.2L255.0 393.7L256.0 394.2L257.0 394.7L258.0 395.2L259.0 395.1L260.0 395.0L261.0 394.8L262.0 394.7L263.0 394.6L264.0 394.5L265.0 394.5L266.0 394.4L267.0 394.4L268.0 394.4L269.0 394.4L270.0 394.5L271.0 394.4L272.0 394.3L273.0 394.2L274.0 394.1L275.0 394.0L276.0 393.9L277.0 393.9L278.0 393.8L279.0 393.7L280.0 393.7L281.0 393.6L282.0 393.5L283.0 393.5L284.0 393.4L285.0 393.3L286.0 393.3L287.0 393.2L288.0 393.1L289.0 393.0L290.0 393.0L291.0 392.9L292.0 392.9L293.0 392.9L294.0 392.8L295.0 392.8L296.0 392.8L297.0 392.7L298.0 392.7L299.0 392.6L300.0 392.6L301.0 392.6L302.0 392.7L303.0 392.7L304.0 392.8L305.0 392.8L306.0 392.8L307.0 392.9L308.0 392.9L309.0 392.9L310.0 393.0L311.0 393.0L312.0 393.1L313.0 393.1L314.0 393.1L315.0 393.2L316.0 393.2L317.0 393.2L318.0 393.3L319.0 393.3L320.0 393.3L321.0 393.4L322.0 393.4L323.0 393.4L324.0 393.4L325.0 393.5L326.0 393.5L327.0 393.5L328.0 393.5L329.0 393.6L330.0 393.3L331.0 393.1L331.5 393.0L332.0 392.8L333.0 392.6L333.6 392.4L334.0 392.5L335.0 392.7L336.0 392.9L337.0 393.1L338.0 393.3L339.0 393.5L340.0 393.7L341.0 393.9L342.0 394.1L343.0 394.3L344.0 394.5L345.0 394.6L346.0 394.8L347.0 394.9L348.0 394.9L349.0 395.0L350.0 395.1L351.0 395.1L352.0 395.2L353.0 395.2L354.0 395.3L355.0 395.4L356.0 395.4L357.0 395.4L358.0 395.3L359.0 395.3L360.0 395.2L361.0 395.1L362.0 395.1L363.0 395.0L364.0 395.0L365.0 394.8L366.0 394.5L367.0 394.3L368.0 394.1L369.0 393.8L370.0 393.6L371.0 393.4L372.0 393.2L373.0 393.0L374.0 392.9L375.0 392.7L376.0 392.6L377.0 392.4L378.0 392.3L379.0 392.1L380.0 392.0L381.0 392.0L382.0 392.0L383.0 392.0L384.0 392.0L385.0 392.0L386.0 392.0L387.0 392.0L388.0 392.0L389.0 391.9L390.0 391.9L391.0 391.8L392.0 391.7L393.0 391.6L394.0 391.5L395.0 391.4L396.0 391.4L397.0 391.4L398.0 391.5L399.0 391.6L400.0 391.7L401.0 391.9L402.0 392.0L403.0 392.1L404.0 392.3L405.0 392.4L406.0 392.6L407.0 392.7L408.0 392.8L409.0 393.0L410.0 393.1L411.0 393.3L412.0 393.4L413.0 393.5L414.0 393.7L415.0 393.8L416.0 393.9L417.0 394.1L418.0 394.2L419.0 394.3L420.0 394.5L421.0 394.5L422.0 394.6L423.0 394.7L424.0 394.8L425.0 394.9L426.0 394.9L427.0 395.0L428.0 395.1L429.0 395.2L430.0 395.3L431.0 395.4L432.0 395.5L433.0 395.6L434.0 395.8L435.0 395.9L436.0 396.0L437.0 396.1L438.0 396.2L439.0 396.4L440.0 396.5L441.0 396.6L442.0 396.8L443.0 396.9L444.0 397.1L445.0 397.3L446.0 397.4L447.0 397.6L448.0 397.7L449.0 397.9L450.0 397.8L451.0 397.6L452.0 397.5L453.0 397.4L454.0 397.5L455.0 397.6L456.0 397.8L457.0 397.9L458.0 398.0L459.0 398.1L460.0 398.2L461.0 398.3L462.0 398.4L463.0 398.4L464.0 398.5L465.0 398.5L466.0 398.6L467.0 398.7L468.0 398.7L469.0 398.8L470.0 398.9L471.0 398.9L472.0 399.0L473.0 399.0L474.0 399.1L475.0 399.2L476.0 399.2L477.0 399.3L478.0 399.4L479.0 399.4L480.0 399.5L481.0 399.6L482.0 399.7L483.0 399.8L484.0 399.9L485.0 400.0L486.0 400.1L487.0 400.2L488.0 400.2L489.0 400.3L490.0 400.4L491.0 400.5L492.0 400.6L493.0 400.5L494.0 400.5L495.0 400.4L496.0 400.3L497.0 400.2L498.0 400.3L499.0 400.4L500.0 400.5L501.0 400.6L502.0 400.7L503.0 400.7L504.0 400.8L505.0 400.9L506.0 401.0L507.0 401.0L508.0 401.1L509.0 401.2L510.0 401.2L511.0 401.3L512.0 401.4L513.0 401.4L514.0 401.5L515.0 401.6L516.0 401.6L517.0 401.7L518.0 401.8L519.0 401.8L520.0 401.9L521.0 402.0L522.0 402.0L523.0 402.1L524.0 402.2L525.0 402.2L526.0 401.9L527.0 401.5L528.0 401.2L529.0 400.8L530.0 400.5L531.0 400.7L532.0 401.0L533.0 401.2L534.0 401.4L535.0 401.4L536.0 401.5L537.0 401.5L538.0 401.6L539.0 401.6L540.0 401.7L541.0 401.5L542.0 401.2L543.0 401.0L544.0 400.9L545.0 400.7L546.0 398.9L547.0 397.2L548.0 395.6L549.0 394.8L550.0 394.0L551.0 393.2L552.0 393.5L553.0 393.8L554.0 394.8L555.0 395.7L556.0 395.7L557.0 395.6L558.0 395.6L559.0 395.6L560.0 395.6L561.0 395.4L562.0 395.2L563.0 395.4L564.0 395.5L565.0 395.7L566.0 395.8L567.0 396.1L568.0 396.4L569.0 396.8L570.0 397.1L571.0 397.0L572.0 397.0L573.0 396.9L574.0 396.8L575.0 396.8L576.0 396.7L577.0 396.8L578.0 397.0L579.0 397.1L580.0 397.3L581.0 397.5L582.0 397.8L583.0 398.0L584.0 398.3L585.0 398.5L586.0 398.8L587.0 399.0L588.0 399.3L589.0 399.6L590.0 399.9L591.0 400.0L592.0 400.1L593.0 400.1L594.0 400.2L595.0 400.3L596.0 400.4L597.0 400.5L598.0 400.6L599.0 400.7L600.0 400.9L601.0 400.9L602.0 401.0L603.0 401.1L604.0 401.1L605.0 401.2L606.0 401.3L607.0 401.4L608.0 401.4L609.0 401.5L610.0 401.6L611.0 401.7L612.0 401.7L613.0 401.5L614.0 401.4L615.0 401.2L616.0 399.7L617.0 398.3L618.0 396.8L619.0 396.2L620.0 395.5L621.0 394.9L622.0 395.4L623.0 395.8L624.0 396.3L625.0 396.5L626.0 396.7L627.0 396.8L628.0 397.0L629.0 397.1L630.0 397.2L631.0 397.2L632.0 397.3L633.0 397.4L634.0 397.5L635.0 397.6L636.0 397.7L637.0 397.7L638.0 397.8L639.0 397.9L640.0 398.0L641.0 398.2L642.0 398.3L643.0 398.4L644.0 398.6L645.0 398.7L646.0 398.8L647.0 399.0L648.0 399.1L649.0 399.3L650.0 399.4L651.0 399.6L652.0 399.8L653.0 400.0L654.0 400.2L655.0 400.4L656.0 400.6L657.0 400.8L658.0 401.0L659.0 401.2L660.0 401.4L661.0 401.6L662.0 401.7L663.0 401.8L664.0 401.9L665.0 402.1L666.0 402.2L667.0 402.3L668.0 402.5L669.0 402.6L670.0 402.7L671.0 402.9L672.0 403.0L673.0 403.2L674.0 403.3L675.0 403.5" fill="none" stroke="#f58a35" stroke-width="1.60" stroke-linejoin="round"/>
<path d="M147.0 405.3L148.0 405.2L149.0 405.2L150.0 405.1L151.0 405.1L152.0 405.1L153.0 405.0L154.0 405.0L155.0 404.9L156.0 404.9L157.0 404.9L158.0 404.8L159.0 404.8L160.0 404.8L161.0 404.7L162.0 404.7L163.0 404.7L164.0 404.6L165.0 404.6L166.0 404.6L167.0 404.6L168.0 404.5L169.0 404.5L170.0 404.5L171.0 404.5L172.0 404.4L173.0 404.4L174.0 404.4L175.0 404.3L176.0 404.3L177.0 404.3L178.0 404.3L179.0 404.2L180.0 404.2L181.0 404.2L182.0 404.1L183.0 404.1L184.0 404.1L185.0 404.0L186.0 404.0L187.0 404.0L188.0 403.9L189.0 403.9L190.0 403.8L191.0 403.8L192.0 403.8L193.0 403.7L194.0 403.7L195.0 403.7L196.0 403.6L197.0 403.5L198.0 403.5L199.0 403.4L200.0 403.3L201.0 403.2L202.0 403.1L203.0 403.0L204.0 403.0L205.0 402.9L206.0 402.8L207.0 402.8L208.0 402.7L209.0 402.6L210.0 402.6L211.0 402.5L212.0 402.4L213.0 402.3L214.0 402.1L215.0 402.0L216.0 401.9L217.0 401.7L218.0 401.6L219.0 401.5L220.0 401.3L221.0 401.0L222.0 400.6L223.0 400.2L224.0 399.8L225.0 399.6L226.0 399.4L227.0 399.2L228.0 399.2L229.0 399.1L230.0 399.1L231.0 399.1L232.0 399.1L233.0 399.1L234.0 399.0L235.0 398.8L236.0 398.5L237.0 398.3L238.0 396.2L238.5 395.2L239.0 393.1L240.0 389.0L241.0 386.8L242.0 384.7L242.4 383.8L243.0 383.5L244.0 382.9L245.0 384.2L246.0 385.5L247.0 386.9L248.0 388.3L249.0 389.7L250.0 390.8L251.0 391.8L252.0 392.8L253.0 393.8L254.0 394.3L255.0 394.8L256.0 395.3L257.0 395.7L258.0 396.2L259.0 396.1L260.0 395.9L261.0 395.8L262.0 395.7L263.0 395.5L264.0 395.4L265.0 395.3L266.0 395.1L267.0 395.1L268.0 395.1L269.0 395.1L270.0 395.1L271.0 395.0L272.0 394.9L273.0 394.9L274.0 394.8L275.0 394.7L276.0 394.7L277.0 394.6L278.0 394.6L279.0 394.5L280.0 394.5L281.0 394.4L282.0 394.4L283.0 394.3L284.0 394.3L285.0 394.2L286.0 394.2L287.0 394.1L288.0 394.1L289.0 394.0L290.0 394.0L291.0 393.9L292.0 393.9L293.0 393.9L294.0 393.8L295.0 393.8L296.0 393.8L297.0 393.7L298.0 393.7L299.0 393.7L300.0 393.6L301.0 393.7L302.0 393.7L303.0 393.7L304.0 393.8L305.0 393.8L306.0 393.8L307.0 393.9L308.0 393.9L309.0 393.9L310.0 394.0L311.0 394.0L312.0 394.0L313.0 394.1L314.0 394.1L315.0 394.1L316.0 394.2L317.0 394.2L318.0 394.2L319.0 394.3L320.0 394.3L321.0 394.3L322.0 394.4L323.0 394.4L324.0 394.4L325.0 394.4L326.0 394.5L327.0 394.5L328.0 394.5L329.0 394.5L330.0 394.3L331.0 394.1L331.5 394.0L332.0 393.8L333.0 393.6L333.6 393.4L334.0 393.5L335.0 393.7L336.0 393.9L337.0 394.1L338.0 394.3L339.0 394.5L340.0 394.6L341.0 394.8L342.0 395.0L343.0 395.2L344.0 395.3L345.0 395.5L346.0 395.7L347.0 395.7L348.0 395.8L349.0 395.8L350.0 395.9L351.0 395.9L352.0 396.0L353.0 396.1L354.0 396.1L355.0 396.2L356.0 396.2L357.0 396.2L358.0 396.1L359.0 396.0L360.0 396.0L361.0 395.9L362.0 395.9L363.0 395.8L364.0 395.8L365.0 395.5L366.0 395.3L367.0 395.1L368.0 394.9L369.0 394.6L370.0 394.4L371.0 394.2L372.0 394.0L373.0 393.8L374.0 393.7L375.0 393.5L376.0 393.4L377.0 393.2L378.0 393.1L379.0 393.0L380.0 392.8L381.0 392.8L382.0 392.8L383.0 392.8L384.0 392.8L385.0 392.9L386.0 392.9L387.0 392.9L388.0 392.9L389.0 392.8L390.0 392.7L391.0 392.7L392.0 392.6L393.0 392.5L394.0 392.5L395.0 392.4L396.0 392.3L397.0 392.4L398.0 392.5L399.0 392.6L400.0 392.7L401.0 392.8L402.0 393.0L403.0 393.1L404.0 393.2L405.0 393.4L406.0 393.5L407.0 393.6L408.0 393.8L409.0 393.9L410.0 394.1L411.0 394.2L412.0 394.3L413.0 394.4L414.0 394.6L415.0 394.7L416.0 394.8L417.0 394.9L418.0 395.1L419.0 395.2L420.0 395.3L421.0 395.4L422.0 395.5L423.0 395.5L424.0 395.6L425.0 395.7L426.0 395.8L427.0 395.8L428.0 395.9L429.0 396.0L430.0 396.1L431.0 396.2L432.0 396.3L433.0 396.4L434.0 396.5L435.0 396.6L436.0 396.7L437.0 396.8L438.0 396.9L439.0 397.0L440.0 397.1L441.0 397.3L442.0 397.4L443.0 397.5L444.0 397.7L445.0 397.8L446.0 398.0L447.0 398.1L448.0 398.3L449.0 398.4L450.0 398.3L451.0 398.2L452.0 398.2L453.0 398.1L454.0 398.1L455.0 398.2L456.0 398.3L457.0 398.4L458.0 398.5L459.0 398.6L460.0 398.7L461.0 398.8L462.0 398.8L463.0 398.9L464.0 398.9L465.0 399.0L466.0 399.0L467.0 399.1L468.0 399.2L469.0 399.2L470.0 399.3L471.0 399.3L472.0 399.4L473.0 399.5L474.0 399.5L475.0 399.6L476.0 399.6L477.0 399.7L478.0 399.8L479.0 399.8L480.0 399.9L481.0 400.0L482.0 400.1L483.0 400.2L484.0 400.3L485.0 400.4L486.0 400.5L487.0 400.5L488.0 400.6L489.0 400.7L490.0 400.8L491.0 400.9L492.0 401.0L493.0 400.9L494.0 400.9L495.0 400.8L496.0 400.8L497.0 400.7L498.0 400.8L499.0 400.9L500.0 401.0L501.0 401.1L502.0 401.1L503.0 401.2L504.0 401.3L505.0 401.4L506.0 401.4L507.0 401.5L508.0 401.6L509.0 401.7L510.0 401.7L511.0 401.8L512.0 401.9L513.0 401.9L514.0 402.0L515.0 402.1L516.0 402.1L517.0 402.2L518.0 402.3L519.0 402.3L520.0 402.4L521.0 402.4L522.0 402.5L523.0 402.6L524.0 402.6L525.0 402.7L526.0 402.4L527.0 402.1L528.0 401.8L529.0 401.6L530.0 401.3L531.0 401.5L532.0 401.7L533.0 401.9L534.0 402.1L535.0 402.2L536.0 402.2L537.0 402.2L538.0 402.3L539.0 402.3L540.0 402.4L541.0 402.2L542.0 402.1L543.0 402.0L544.0 401.8L545.0 401.7L546.0 400.4L547.0 399.1L548.0 397.9L549.0 397.3L550.0 396.7L551.0 396.2L552.0 396.4L553.0 396.7L554.0 397.3L555.0 398.0L556.0 398.0L557.0 398.0L558.0 397.9L559.0 397.9L560.0 397.9L561.0 397.7L562.0 397.6L563.0 397.7L564.0 397.8L565.0 397.9L566.0 398.0L567.0 398.2L568.0 398.4L569.0 398.7L570.0 398.9L571.0 398.9L572.0 398.8L573.0 398.7L574.0 398.7L575.0 398.6L576.0 398.6L577.0 398.7L578.0 398.8L579.0 398.9L580.0 399.0L581.0 399.2L582.0 399.4L583.0 399.6L584.0 399.8L585.0 400.0L586.0 400.2L587.0 400.4L588.0 400.6L589.0 400.8L590.0 401.0L591.0 401.1L592.0 401.2L593.0 401.2L594.0 401.3L595.0 401.4L596.0 401.5L597.0 401.5L598.0 401.6L599.0 401.7L600.0 401.8L601.0 401.8L602.0 401.9L603.0 402.0L604.0 402.0L605.0 402.1L606.0 402.1L607.0 402.2L608.0 402.2L609.0 402.3L610.0 402.3L611.0 402.4L612.0 402.4L613.0 402.3L614.0 402.1L615.0 402.0L616.0 400.8L617.0 399.7L618.0 398.5L619.0 398.0L620.0 397.4L621.0 396.9L622.0 397.3L623.0 397.7L624.0 398.1L625.0 398.2L626.0 398.3L627.0 398.5L628.0 398.6L629.0 398.7L630.0 398.7L631.0 398.8L632.0 398.8L633.0 398.9L634.0 399.0L635.0 399.0L636.0 399.1L637.0 399.2L638.0 399.3L639.0 399.3L640.0 399.4L641.0 399.5L642.0 399.6L643.0 399.7L644.0 399.9L645.0 400.0L646.0 400.1L647.0 400.2L648.0 400.3L649.0 400.4L650.0 400.6L651.0 400.7L652.0 400.9L653.0 401.0L654.0 401.2L655.0 401.4L656.0 401.5L657.0 401.7L658.0 401.9L659.0 402.0L660.0 402.2L661.0 402.3L662.0 402.4L663.0 402.5L664.0 402.6L665.0 402.7L666.0 402.8L667.0 402.9L668.0 403.0L669.0 403.1L670.0 403.3L671.0 403.4L672.0 403.5L673.0 403.6L674.0 403.7L675.0 403.8" fill="none" stroke="#c83a22" stroke-width="1.60" stroke-linejoin="round"/>
<path d="M147.0 405.3L148.0 405.3L149.0 405.2L150.0 405.2L151.0 405.1L152.0 405.1L153.0 405.0L154.0 405.0L155.0 405.0L156.0 404.9L157.0 404.9L158.0 404.9L159.0 404.8L160.0 404.8L161.0 404.8L162.0 404.8L163.0 404.7L164.0 404.7L165.0 404.7L166.0 404.7L167.0 404.6L168.0 404.6L169.0 404.6L170.0 404.6L171.0 404.5L172.0 404.5L173.0 404.5L174.0 404.5L175.0 404.4L176.0 404.4L177.0 404.4L178.0 404.4L179.0 404.3L180.0 404.3L181.0 404.3L182.0 404.2L183.0 404.2L184.0 404.2L185.0 404.2L186.0 404.1L187.0 404.1L188.0 404.1L189.0 404.0L190.0 404.0L191.0 404.0L192.0 403.9L193.0 403.9L194.0 403.9L195.0 403.8L196.0 403.8L197.0 403.7L198.0 403.6L199.0 403.6L200.0 403.5L201.0 403.4L202.0 403.3L203.0 403.3L204.0 403.2L205.0 403.1L206.0 403.1L207.0 403.0L208.0 402.9L209.0 402.9L210.0 402.8L211.0 402.7L212.0 402.7L213.0 402.6L214.0 402.4L215.0 402.3L216.0 402.2L217.0 402.0L218.0 401.9L219.0 401.8L220.0 401.7L221.0 401.3L222.0 401.0L223.0 400.6L224.0 400.3L225.0 400.0L226.0 399.8L227.0 399.6L228.0 399.6L229.0 399.6L230.0 399.6L231.0 399.6L232.0 399.6L233.0 399.6L234.0 399.5L235.0 399.3L236.0 399.1L237.0 398.9L238.0 397.0L238.5 396.0L239.0 394.2L240.0 390.4L241.0 388.4L242.0 386.5L242.4 385.7L243.0 385.4L244.0 384.9L245.0 386.1L246.0 387.2L247.0 388.6L248.0 389.8L249.0 391.1L250.0 392.0L251.0 393.0L252.0 393.9L253.0 394.8L254.0 395.2L255.0 395.7L256.0 396.1L257.0 396.5L258.0 397.0L259.0 396.8L260.0 396.7L261.0 396.5L262.0 396.4L263.0 396.2L264.0 396.1L265.0 396.0L266.0 395.8L267.0 395.8L268.0 395.7L269.0 395.7L270.0 395.7L271.0 395.6L272.0 395.6L273.0 395.5L274.0 395.5L275.0 395.4L276.0 395.4L277.0 395.3L278.0 395.3L279.0 395.3L280.0 395.3L281.0 395.2L282.0 395.2L283.0 395.2L284.0 395.1L285.0 395.1L286.0 395.1L287.0 395.1L288.0 395.0L289.0 395.0L290.0 395.0L291.0 394.9L292.0 394.9L293.0 394.9L294.0 394.9L295.0 394.8L296.0 394.8L297.0 394.8L298.0 394.7L299.0 394.7L300.0 394.7L301.0 394.7L302.0 394.7L303.0 394.8L304.0 394.8L305.0 394.8L306.0 394.9L307.0 394.9L308.0 394.9L309.0 394.9L310.0 395.0L311.0 395.0L312.0 395.0L313.0 395.1L314.0 395.1L315.0 395.1L316.0 395.2L317.0 395.2L318.0 395.2L319.0 395.3L320.0 395.3L321.0 395.3L322.0 395.3L323.0 395.3L324.0 395.4L325.0 395.4L326.0 395.4L327.0 395.4L328.0 395.5L329.0 395.5L330.0 395.3L331.0 395.1L331.5 395.0L332.0 394.9L333.0 394.6L333.6 394.5L334.0 394.6L335.0 394.7L336.0 394.9L337.0 395.1L338.0 395.3L339.0 395.4L340.0 395.6L341.0 395.7L342.0 395.9L343.0 396.1L344.0 396.2L345.0 396.4L346.0 396.5L347.0 396.6L348.0 396.6L349.0 396.7L350.0 396.7L351.0 396.8L352.0 396.8L353.0 396.9L354.0 396.9L355.0 397.0L356.0 397.0L357.0 397.0L358.0 396.9L359.0 396.8L360.0 396.8L361.0 396.7L362.0 396.7L363.0 396.6L364.0 396.5L365.0 396.3L366.0 396.1L367.0 395.9L368.0 395.7L369.0 395.5L370.0 395.2L371.0 395.0L372.0 394.8L373.0 394.7L374.0 394.5L375.0 394.4L376.0 394.2L377.0 394.1L378.0 393.9L379.0 393.8L380.0 393.6L381.0 393.6L382.0 393.6L383.0 393.6L384.0 393.6L385.0 393.6L386.0 393.7L387.0 393.7L388.0 393.7L389.0 393.6L390.0 393.5L391.0 393.5L392.0 393.4L393.0 393.3L394.0 393.3L395.0 393.2L396.0 393.1L397.0 393.2L398.0 393.3L399.0 393.4L400.0 393.5L401.0 393.6L402.0 393.7L403.0 393.8L404.0 394.0L405.0 394.1L406.0 394.2L407.0 394.3L408.0 394.5L409.0 394.6L410.0 394.7L411.0 394.9L412.0 395.0L413.0 395.1L414.0 395.2L415.0 395.3L416.0 395.4L417.0 395.6L418.0 395.7L419.0 395.8L420.0 395.9L421.0 396.0L422.0 396.1L423.0 396.1L424.0 396.2L425.0 396.3L426.0 396.4L427.0 396.4L428.0 396.5L429.0 396.6L430.0 396.7L431.0 396.8L432.0 396.9L433.0 397.0L434.0 397.1L435.0 397.2L436.0 397.3L437.0 397.4L438.0 397.5L439.0 397.6L440.0 397.7L441.0 397.9L442.0 398.0L443.0 398.1L444.0 398.3L445.0 398.4L446.0 398.5L447.0 398.7L448.0 398.8L449.0 398.9L450.0 398.9L451.0 398.7L452.0 398.7L453.0 398.6L454.0 398.7L455.0 398.7L456.0 398.8L457.0 399.0L458.0 399.0L459.0 399.1L460.0 399.2L461.0 399.2L462.0 399.3L463.0 399.3L464.0 399.4L465.0 399.4L466.0 399.5L467.0 399.5L468.0 399.6L469.0 399.6L470.0 399.7L471.0 399.8L472.0 399.8L473.0 399.9L474.0 399.9L475.0 400.0L476.0 400.0L477.0 400.1L478.0 400.1L479.0 400.2L480.0 400.3L481.0 400.4L482.0 400.4L483.0 400.5L484.0 400.6L485.0 400.7L486.0 400.8L487.0 400.9L488.0 401.0L489.0 401.1L490.0 401.2L491.0 401.3L492.0 401.3L493.0 401.3L494.0 401.2L495.0 401.2L496.0 401.1L497.0 401.1L498.0 401.2L499.0 401.3L500.0 401.4L501.0 401.5L502.0 401.5L503.0 401.6L504.0 401.7L505.0 401.7L506.0 401.8L507.0 401.9L508.0 402.0L509.0 402.0L510.0 402.1L511.0 402.2L512.0 402.2L513.0 402.3L514.0 402.4L515.0 402.4L516.0 402.5L517.0 402.5L518.0 402.6L519.0 402.7L520.0 402.7L521.0 402.8L522.0 402.8L523.0 402.9L524.0 403.0L525.0 403.0L526.0 402.8L527.0 402.5L528.0 402.3L529.0 402.1L530.0 401.8L531.0 402.0L532.0 402.2L533.0 402.4L534.0 402.5L535.0 402.6L536.0 402.6L537.0 402.7L538.0 402.7L539.0 402.7L540.0 402.8L541.0 402.7L542.0 402.5L543.0 402.4L544.0 402.3L545.0 402.2L546.0 401.1L547.0 400.0L548.0 398.9L549.0 398.4L550.0 398.0L551.0 397.5L552.0 397.7L553.0 398.0L554.0 398.6L555.0 399.2L556.0 399.2L557.0 399.2L558.0 399.2L559.0 399.2L560.0 399.2L561.0 399.0L562.0 398.9L563.0 399.0L564.0 399.0L565.0 399.1L566.0 399.2L567.0 399.4L568.0 399.6L569.0 399.8L570.0 400.0L571.0 399.9L572.0 399.9L573.0 399.8L574.0 399.8L575.0 399.7L576.0 399.7L577.0 399.7L578.0 399.8L579.0 399.9L580.0 400.0L581.0 400.2L582.0 400.4L583.0 400.5L584.0 400.7L585.0 400.8L586.0 401.0L587.0 401.2L588.0 401.4L589.0 401.5L590.0 401.7L591.0 401.8L592.0 401.8L593.0 401.9L594.0 402.0L595.0 402.0L596.0 402.1L597.0 402.2L598.0 402.2L599.0 402.3L600.0 402.4L601.0 402.4L602.0 402.5L603.0 402.5L604.0 402.6L605.0 402.6L606.0 402.7L607.0 402.7L608.0 402.7L609.0 402.8L610.0 402.8L611.0 402.9L612.0 402.9L613.0 402.8L614.0 402.7L615.0 402.6L616.0 401.6L617.0 400.6L618.0 399.7L619.0 399.2L620.0 398.8L621.0 398.4L622.0 398.7L623.0 399.0L624.0 399.3L625.0 399.4L626.0 399.5L627.0 399.7L628.0 399.8L629.0 399.8L630.0 399.9L631.0 399.9L632.0 400.0L633.0 400.0L634.0 400.1L635.0 400.1L636.0 400.2L637.0 400.3L638.0 400.3L639.0 400.4L640.0 400.5L641.0 400.5L642.0 400.6L643.0 400.7L644.0 400.8L645.0 400.9L646.0 400.9L647.0 401.0L648.0 401.1L649.0 401.2L650.0 401.3L651.0 401.4L652.0 401.6L653.0 401.7L654.0 401.8L655.0 402.0L656.0 402.1L657.0 402.2L658.0 402.4L659.0 402.5L660.0 402.6L661.0 402.7L662.0 402.8L663.0 402.9L664.0 403.0L665.0 403.1L666.0 403.2L667.0 403.2L668.0 403.3L669.0 403.4L670.0 403.5L671.0 403.6L672.0 403.7L673.0 403.8L674.0 403.9L675.0 404.0" fill="none" stroke="#f4aaa4" stroke-width="1.60" stroke-linejoin="round"/>
<path d="M121.00 251.30 V405.30 H722.50" class="ax"/>
<line x1="116.00" y1="405.30" x2="121.00" y2="405.30" class="ax"/>
<line x1="116.00" y1="374.50" x2="121.00" y2="374.50" class="ax"/>
<line x1="116.00" y1="343.70" x2="121.00" y2="343.70" class="ax"/>
<line x1="116.00" y1="312.90" x2="121.00" y2="312.90" class="ax"/>
<line x1="116.00" y1="282.10" x2="121.00" y2="282.10" class="ax"/>
<line x1="116.00" y1="251.30" x2="121.00" y2="251.30" class="ax"/>
<line x1="121.00" y1="405.30" x2="121.00" y2="410.30" class="ax"/>
<line x1="196.19" y1="405.30" x2="196.19" y2="410.30" class="ax"/>
<line x1="271.38" y1="405.30" x2="271.38" y2="410.30" class="ax"/>
<line x1="346.56" y1="405.30" x2="346.56" y2="410.30" class="ax"/>
<line x1="421.75" y1="405.30" x2="421.75" y2="410.30" class="ax"/>
<line x1="496.94" y1="405.30" x2="496.94" y2="410.30" class="ax"/>
<line x1="572.12" y1="405.30" x2="572.12" y2="410.30" class="ax"/>
<line x1="647.31" y1="405.30" x2="647.31" y2="410.30" class="ax"/>
<line x1="722.50" y1="405.30" x2="722.50" y2="410.30" class="ax"/>
<text transform="translate(109.37 429.40) scale(0.940 1)" font-size="15.00" font-weight="normal" fill="#000">150</text>
<text transform="translate(184.91 429.33) scale(0.940 1)" font-size="15.00" font-weight="normal" fill="#000">250</text>
<text transform="translate(260.03 429.33) scale(0.940 1)" font-size="15.00" font-weight="normal" fill="#000">350</text>
<text transform="translate(335.43 429.33) scale(0.940 1)" font-size="15.00" font-weight="normal" fill="#000">450</text>
<text transform="translate(410.33 429.33) scale(0.940 1)" font-size="15.00" font-weight="normal" fill="#000">550</text>
<text transform="translate(485.66 429.33) scale(0.940 1)" font-size="15.00" font-weight="normal" fill="#000">650</text>
<text transform="translate(560.64 429.33) scale(0.940 1)" font-size="15.00" font-weight="normal" fill="#000">750</text>
<text transform="translate(636.04 429.33) scale(0.940 1)" font-size="15.00" font-weight="normal" fill="#000">850</text>
<text transform="translate(711.30 429.33) scale(0.940 1)" font-size="15.00" font-weight="normal" fill="#000">950</text>
<text transform="translate(99.75 410.93) scale(0.935 1)" font-size="15.00" font-weight="normal" fill="#000">0</text>
<text transform="translate(69.20 379.90) scale(0.935 1)" font-size="15.00" font-weight="normal" fill="#000">10000</text>
<text transform="translate(69.20 349.03) scale(0.935 1)" font-size="15.00" font-weight="normal" fill="#000">20000</text>
<text transform="translate(69.20 318.23) scale(0.935 1)" font-size="15.00" font-weight="normal" fill="#000">30000</text>
<text transform="translate(69.20 287.43) scale(0.935 1)" font-size="15.00" font-weight="normal" fill="#000">40000</text>
<text transform="translate(69.20 256.62) scale(0.935 1)" font-size="15.00" font-weight="normal" fill="#000">50000</text>
<text transform="translate(59.30 375.41) rotate(-90) scale(0.961 1)" font-size="15" font-weight="bold">Intensity (AU)</text>
<text transform="translate(365.96 450.30) scale(0.957 1)" font-size="15.00" font-weight="bold" fill="#000">Wavelength (nm)</text>
<text transform="translate(159.00 268.50) scale(0.890 1)" font-size="15.00" font-weight="normal" fill="#000">ER</text>
<line x1="135.4" y1="277.50" x2="165.1" y2="277.50" stroke="#222" stroke-width="1.8"/>
<text transform="translate(168.91 282.65) scale(0.880 1)" font-size="15.00" font-weight="normal" fill="#000">1.13</text>
<line x1="135.4" y1="293.75" x2="165.1" y2="293.75" stroke="#5068d0" stroke-width="1.8"/>
<text transform="translate(168.91 298.90) scale(0.880 1)" font-size="15.00" font-weight="normal" fill="#000">1.27</text>
<line x1="135.4" y1="310.00" x2="165.1" y2="310.00" stroke="#5bc8f2" stroke-width="1.8"/>
<text transform="translate(168.91 315.15) scale(0.880 1)" font-size="15.00" font-weight="normal" fill="#000">1.37</text>
<line x1="135.4" y1="326.25" x2="165.1" y2="326.25" stroke="#98e050" stroke-width="1.8"/>
<text transform="translate(168.91 331.40) scale(0.880 1)" font-size="15.00" font-weight="normal" fill="#000">1.41</text>
<line x1="135.4" y1="342.50" x2="165.1" y2="342.50" stroke="#2f7a64" stroke-width="1.8"/>
<text transform="translate(168.91 347.65) scale(0.880 1)" font-size="15.00" font-weight="normal" fill="#000">1.57</text>
<line x1="135.4" y1="358.75" x2="165.1" y2="358.75" stroke="#f58a35" stroke-width="1.8"/>
<text transform="translate(168.91 363.90) scale(0.880 1)" font-size="15.00" font-weight="normal" fill="#000">1.67</text>
<line x1="135.4" y1="375.00" x2="165.1" y2="375.00" stroke="#c83a22" stroke-width="1.8"/>
<text transform="translate(168.91 380.15) scale(0.880 1)" font-size="15.00" font-weight="normal" fill="#000">1.78</text>
<line x1="135.4" y1="391.25" x2="165.1" y2="391.25" stroke="#f4aaa4" stroke-width="1.8"/>
<text transform="translate(168.91 396.40) scale(0.880 1)" font-size="15.00" font-weight="normal" fill="#000">1.91</text>
<text transform="translate(229.42 343.59) scale(0.930 1)" font-size="15.50" font-weight="normal" fill="#000">OH*</text>
<text transform="translate(319.34 358.39) scale(0.910 1)" font-size="15.50" font-weight="normal" fill="#000">CH*</text>
<text transform="translate(393.73 350.39) scale(0.918 1)" font-size="15.50" font-weight="normal" fill="#000">C<tspan font-size="10.5" dy="2.8">2</tspan><tspan dy="-2.8">*</tspan></text>
<text transform="translate(444.97 374.65) scale(0.930 1)" font-size="15.50" font-weight="normal" fill="#000">Na*</text>
<text transform="translate(664.16 274.39) scale(0.890 1)" font-size="15.50" font-weight="normal" fill="#000">BFG70</text>
<text transform="translate(5.65 253.73) scale(0.950 1)" font-size="17.00" font-weight="normal" fill="#000">(b)</text>
<line x1="195.40" y1="485.00" x2="195.40" y2="639.10" class="gd"/>
<line x1="270.80" y1="485.00" x2="270.80" y2="639.10" class="gd"/>
<line x1="346.20" y1="485.00" x2="346.20" y2="639.10" class="gd"/>
<line x1="421.60" y1="485.00" x2="421.60" y2="639.10" class="gd"/>
<line x1="497.00" y1="485.00" x2="497.00" y2="639.10" class="gd"/>
<line x1="572.40" y1="485.00" x2="572.40" y2="639.10" class="gd"/>
<line x1="647.80" y1="485.00" x2="647.80" y2="639.10" class="gd"/>
<line x1="120.30" y1="608.28" x2="723.20" y2="608.28" class="gdh"/>
<line x1="120.30" y1="577.46" x2="723.20" y2="577.46" class="gdh"/>
<line x1="120.30" y1="546.64" x2="723.20" y2="546.64" class="gdh"/>
<line x1="120.30" y1="515.82" x2="723.20" y2="515.82" class="gdh"/>
<line x1="120.00" y1="485.00" x2="723.20" y2="485.00" class="gs"/>
<line x1="723.20" y1="485.00" x2="723.20" y2="639.10" class="gs"/>
<rect x="121" y="509" width="87" height="113" fill="#fff"/>
<path d="M147.0 639.0L148.0 638.9L149.0 638.9L150.0 638.8L151.0 638.7L152.0 638.7L153.0 638.6L154.0 638.6L155.0 638.5L156.0 638.4L157.0 638.4L158.0 638.3L159.0 638.3L160.0 638.2L161.0 638.2L162.0 638.2L163.0 638.2L164.0 638.2L165.0 638.2L166.0 638.2L167.0 638.2L168.0 638.2L169.0 638.1L170.0 638.1L171.0 638.1L172.0 638.1L173.0 638.1L174.0 638.1L175.0 638.1L176.0 638.1L177.0 638.1L178.0 638.1L179.0 638.1L180.0 638.1L181.0 638.1L182.0 638.1L183.0 638.1L184.0 638.1L185.0 638.1L186.0 638.0L187.0 638.0L188.0 638.0L189.0 638.0L190.0 638.0L191.0 638.0L192.0 638.0L193.0 638.0L194.0 638.0L195.0 637.9L196.0 637.8L197.0 637.6L198.0 637.5L199.0 637.4L200.0 637.2L201.0 637.1L202.0 637.0L203.0 636.9L204.0 636.8L205.0 636.6L206.0 636.5L207.0 636.4L208.0 636.2L209.0 636.1L210.0 636.0L211.0 635.9L212.0 635.8L213.0 635.7L214.0 635.6L215.0 635.5L216.0 635.3L217.0 635.2L218.0 635.1L219.0 635.0L220.0 634.9L221.0 634.6L222.0 634.4L223.0 634.1L224.0 633.9L225.0 633.6L226.0 633.3L227.0 633.1L228.0 632.8L229.0 632.6L230.0 632.3L231.0 631.9L232.0 631.6L233.0 631.2L234.0 630.8L235.0 630.5L236.0 630.1L237.0 628.5L238.0 626.9L239.0 624.5L240.0 622.1L241.0 621.3L242.0 620.5L243.0 621.0L244.0 621.6L245.0 622.1L246.0 622.3L247.0 622.5L248.0 622.7L249.0 622.5L250.0 622.3L251.0 622.0L252.0 621.8L253.0 621.6L254.0 621.1L255.0 620.5L256.0 620.0L257.0 619.3L257.5 619.0L258.0 620.0L259.0 617.9L260.0 617.6L261.0 617.3L262.0 615.7L263.0 614.7L264.0 613.1L265.0 612.8L266.0 612.4L267.0 612.0L268.0 611.7L269.0 611.4L270.0 611.0L271.0 610.6L272.0 610.1L273.0 609.7L274.0 609.2L275.0 608.8L276.0 608.3L277.0 607.7L278.0 607.2L279.0 606.6L280.0 606.1L281.0 605.6L282.0 605.1L283.0 604.5L284.0 604.0L285.0 603.5L286.0 603.1L287.0 602.6L288.0 602.2L289.0 601.7L290.0 601.3L291.0 601.1L292.0 600.8L293.0 600.6L294.0 600.4L295.0 600.1L296.0 599.9L297.0 599.7L298.0 599.5L299.0 599.2L300.0 599.0L301.0 599.0L302.0 599.0L303.0 599.0L304.0 599.0L305.0 599.0L306.0 599.0L307.0 599.0L308.0 599.0L309.0 599.0L310.0 599.0L311.0 598.9L312.0 598.9L313.0 598.8L314.0 598.7L315.0 598.6L316.0 598.5L317.0 598.5L318.0 598.4L319.0 598.5L320.0 598.7L321.0 598.8L322.0 598.9L323.0 599.1L324.0 599.2L325.0 599.3L326.0 599.5L327.0 599.6L328.0 599.7L329.0 599.9L330.0 600.0L331.0 600.0L332.0 600.1L333.0 600.1L334.0 600.2L335.0 600.2L336.0 600.3L337.0 600.4L338.0 600.4L339.0 600.5L340.0 600.5L341.0 600.7L342.0 600.9L343.0 601.0L344.0 601.2L345.0 601.4L346.0 601.6L347.0 601.8L348.0 601.9L349.0 602.1L350.0 602.3L351.0 602.5L352.0 602.7L353.0 602.9L354.0 603.2L355.0 603.4L356.0 603.6L356.5 603.7L357.0 603.5L358.0 603.2L359.0 602.8L360.0 602.5L361.0 602.1L362.0 601.8L363.0 600.8L364.0 599.9L365.0 599.0L366.0 598.0L367.0 596.5L368.0 595.0L369.0 593.5L370.0 592.0L371.0 591.0L372.0 590.0L373.0 589.0L374.0 588.0L375.0 587.0L376.0 586.4L377.0 585.7L378.0 585.1L379.0 584.5L380.0 583.8L380.5 583.5L381.0 583.6L382.0 583.8L383.0 584.1L384.0 584.3L385.0 584.5L386.0 584.8L387.0 585.0L388.0 585.3L389.0 585.7L390.0 586.0L391.0 586.3L392.0 586.7L393.0 587.0L394.0 587.4L395.0 587.9L396.0 588.3L397.0 588.7L398.0 589.2L399.0 589.8L400.0 590.4L401.0 590.9L402.0 591.5L403.0 592.0L404.0 592.7L405.0 593.4L406.0 594.1L407.0 594.8L408.0 595.5L409.0 596.2L410.0 596.9L411.0 597.6L412.0 598.3L413.0 599.0L414.0 599.7L415.0 600.5L416.0 601.1L417.0 601.8L418.0 602.4L419.0 603.1L420.0 603.7L421.0 604.3L422.0 604.9L423.0 605.5L424.0 606.1L425.0 606.7L426.0 607.2L427.0 607.8L428.0 608.3L429.0 608.9L430.0 609.4L431.0 609.9L432.0 610.4L433.0 610.9L434.0 611.4L435.0 611.9L436.0 612.4L437.0 612.8L438.0 613.3L439.0 613.8L440.0 614.2L441.0 614.6L442.0 615.0L443.0 615.5L444.0 615.9L445.0 616.3L446.0 616.7L447.0 617.1L448.0 617.5L449.0 617.8L450.0 618.2L451.0 618.6L452.0 618.9L453.0 619.3L454.0 619.6L455.0 620.0L456.0 620.3L457.0 620.6L458.0 621.0L459.0 621.3L460.0 621.6L461.0 621.9L462.0 622.2L463.0 622.5L464.0 622.8L465.0 623.1L466.0 623.3L467.0 623.6L468.0 623.9L469.0 624.2L470.0 624.4L471.0 624.7L472.0 624.9L473.0 625.2L474.0 625.4L475.0 625.7L476.0 625.9L477.0 626.1L478.0 626.3L479.0 626.6L480.0 626.8L481.0 627.0L482.0 627.2L483.0 627.4L484.0 627.6L485.0 627.8L486.0 628.0L487.0 628.2L488.0 628.4L489.0 628.6L490.0 628.8L491.0 629.0L492.0 629.1L493.0 629.3L494.0 629.5L495.0 629.6L496.0 629.8L497.0 630.0L498.0 630.2L499.0 630.4L500.0 630.6L501.0 630.8L502.0 631.0L503.0 631.2L504.0 631.4L505.0 631.6L506.0 631.8L507.0 631.9L508.0 632.1L509.0 632.2L510.0 632.4L511.0 632.5L512.0 632.7L513.0 632.8L514.0 633.0L515.0 633.1L516.0 633.2L517.0 633.3L518.0 633.5L519.0 633.6L520.0 633.7L521.0 633.8L522.0 633.9L523.0 634.0L524.0 634.1L525.0 634.2L526.0 634.2L527.0 634.3L528.0 634.4L529.0 634.5L530.0 634.6L531.0 634.7L532.0 634.7L533.0 634.8L534.0 634.9L535.0 635.0L536.0 635.0L537.0 635.1L538.0 635.2L539.0 635.2L540.0 635.3L541.0 635.4L542.0 635.4L543.0 635.5L544.0 635.5L545.0 635.6L546.0 635.7L547.0 635.7L548.0 635.8L549.0 635.8L550.0 635.9L551.0 635.9L552.0 636.0L553.0 636.0L554.0 636.1L555.0 636.1L556.0 636.2L557.0 636.2L558.0 636.3L559.0 636.4L560.0 636.4L561.0 636.4L562.0 636.5L563.0 636.5L564.0 636.5L565.0 636.6L566.0 636.6L567.0 636.6L568.0 636.7L569.0 636.7L570.0 636.8L571.0 636.8L572.0 636.8L573.0 636.8L574.0 636.9L575.0 636.9L576.0 636.9L577.0 636.9L578.0 637.0L579.0 637.0L580.0 637.0L581.0 637.0L582.0 637.0L583.0 637.1L584.0 637.1L585.0 637.1L586.0 637.1L587.0 637.1L588.0 637.2L589.0 637.2L590.0 637.2L591.0 637.2L592.0 637.2L593.0 637.3L594.0 637.3L595.0 637.3L596.0 637.3L597.0 637.3L598.0 637.4L599.0 637.4L600.0 637.4L601.0 637.4L602.0 637.4L603.0 637.4L604.0 637.5L605.0 637.5L606.0 637.5L607.0 637.5L608.0 637.5L609.0 637.5L610.0 637.5L611.0 637.6L612.0 637.6L613.0 637.6L614.0 637.6L615.0 637.6L616.0 637.6L617.0 637.7L618.0 637.7L619.0 637.7L620.0 637.7L621.0 637.7L622.0 637.7L623.0 637.7L624.0 637.7L625.0 637.8L626.0 637.8L627.0 637.8L628.0 637.8L629.0 637.8L630.0 637.8L631.0 637.8L632.0 637.8L633.0 637.8L634.0 637.8L635.0 637.9L636.0 637.9L637.0 637.9L638.0 637.9L639.0 637.9L640.0 637.9L641.0 637.9L642.0 637.9L643.0 637.9L644.0 637.9L645.0 637.9L646.0 638.0L647.0 638.0L648.0 638.0L649.0 638.0L650.0 638.0L651.0 638.0L652.0 638.0L653.0 638.0L654.0 638.0L655.0 638.0L656.0 638.0L657.0 638.0L658.0 638.1L659.0 638.1L660.0 638.1L661.0 638.1L662.0 638.1L663.0 638.1L664.0 638.1L665.0 638.1L666.0 638.1L667.0 638.1L668.0 638.1L669.0 638.1L670.0 638.2L671.0 638.2L672.0 638.2L673.0 638.2L674.0 638.2L675.0 638.2" fill="none" stroke="#222" stroke-width="1.60" stroke-linejoin="round"/>
<path d="M147.0 639.0L148.0 638.9L149.0 638.9L150.0 638.8L151.0 638.7L152.0 638.7L153.0 638.6L154.0 638.5L155.0 638.5L156.0 638.4L157.0 638.3L158.0 638.3L159.0 638.2L160.0 638.1L161.0 638.1L162.0 638.1L163.0 638.1L164.0 638.1L165.0 638.1L166.0 638.1L167.0 638.1L168.0 638.1L169.0 638.1L170.0 638.1L171.0 638.1L172.0 638.1L173.0 638.1L174.0 638.1L175.0 638.0L176.0 638.0L177.0 638.0L178.0 638.0L179.0 638.0L180.0 638.0L181.0 638.0L182.0 638.0L183.0 638.0L184.0 638.0L185.0 638.0L186.0 638.0L187.0 638.0L188.0 638.0L189.0 637.9L190.0 637.9L191.0 637.9L192.0 637.9L193.0 637.9L194.0 637.9L195.0 637.8L196.0 637.6L197.0 637.5L198.0 637.4L199.0 637.2L200.0 637.1L201.0 637.0L202.0 636.8L203.0 636.7L204.0 636.5L205.0 636.4L206.0 636.3L207.0 636.1L208.0 636.0L209.0 635.8L210.0 635.7L211.0 635.6L212.0 635.5L213.0 635.3L214.0 635.2L215.0 635.1L216.0 635.0L217.0 634.9L218.0 634.7L219.0 634.6L220.0 634.5L221.0 634.2L222.0 633.9L223.0 633.6L224.0 633.3L225.0 633.0L226.0 632.7L227.0 632.4L228.0 632.1L229.0 631.8L230.0 631.5L231.0 631.1L232.0 630.6L233.0 630.2L234.0 629.8L235.0 629.4L236.0 628.9L237.0 627.1L238.0 625.3L239.0 622.5L240.0 619.8L241.0 618.8L242.0 617.9L243.0 618.5L244.0 619.0L245.0 619.6L246.0 619.8L247.0 620.0L248.0 620.2L249.0 619.9L250.0 619.6L251.0 619.3L252.0 619.0L253.0 618.7L254.0 618.1L255.0 617.4L256.0 616.8L257.0 616.0L257.5 615.6L258.0 616.8L259.0 614.4L260.0 614.1L261.0 613.8L262.0 612.0L263.0 610.9L264.0 609.1L265.0 608.8L266.0 608.4L267.0 608.1L268.0 607.7L269.0 607.4L270.0 607.0L271.0 606.6L272.0 606.1L273.0 605.7L274.0 605.3L275.0 604.8L276.0 604.3L277.0 603.7L278.0 603.2L279.0 602.7L280.0 602.1L281.0 601.6L282.0 601.1L283.0 600.6L284.0 600.1L285.0 599.6L286.0 599.2L287.0 598.7L288.0 598.3L289.0 597.9L290.0 597.5L291.0 597.2L292.0 596.9L293.0 596.6L294.0 596.3L295.0 596.0L296.0 595.8L297.0 595.5L298.0 595.2L299.0 594.9L300.0 594.6L301.0 594.5L302.0 594.5L303.0 594.4L304.0 594.4L305.0 594.3L306.0 594.3L307.0 594.3L308.0 594.2L309.0 594.2L310.0 594.1L311.0 594.0L312.0 593.9L313.0 593.7L314.0 593.6L315.0 593.5L316.0 593.4L317.0 593.2L318.0 593.1L319.0 593.3L320.0 593.4L321.0 593.6L322.0 593.7L323.0 593.9L324.0 594.0L325.0 594.2L326.0 594.4L327.0 594.5L328.0 594.7L329.0 594.8L330.0 595.0L331.0 595.0L332.0 595.1L333.0 595.2L334.0 595.2L335.0 595.3L336.0 595.3L337.0 595.4L338.0 595.5L339.0 595.5L340.0 595.6L341.0 595.8L342.0 596.0L343.0 596.2L344.0 596.4L345.0 596.6L346.0 596.8L347.0 597.0L348.0 597.2L349.0 597.4L350.0 597.6L351.0 597.9L352.0 598.1L353.0 598.4L354.0 598.6L355.0 598.9L356.0 599.1L356.5 599.3L357.0 599.1L358.0 598.7L359.0 598.3L360.0 597.9L361.0 597.5L362.0 597.1L363.0 596.1L364.0 595.0L365.0 593.9L366.0 592.9L367.0 591.2L368.0 589.5L369.0 587.8L370.0 586.2L371.0 585.0L372.0 583.9L373.0 582.8L374.0 581.7L375.0 580.6L376.0 579.9L377.0 579.1L378.0 578.4L379.0 577.7L380.0 577.0L380.5 576.6L381.0 576.8L382.0 577.0L383.0 577.2L384.0 577.4L385.0 577.7L386.0 577.9L387.0 578.1L388.0 578.5L389.0 578.8L390.0 579.2L391.0 579.5L392.0 579.9L393.0 580.2L394.0 580.7L395.0 581.1L396.0 581.6L397.0 582.0L398.0 582.6L399.0 583.2L400.0 583.8L401.0 584.4L402.0 585.0L403.0 585.6L404.0 586.4L405.0 587.1L406.0 587.9L407.0 588.7L408.0 589.4L409.0 590.2L410.0 591.0L411.0 591.9L412.0 592.8L413.0 593.8L414.0 594.7L415.0 595.6L416.0 596.4L417.0 597.2L418.0 598.1L419.0 598.9L420.0 599.7L421.0 600.5L422.0 601.2L423.0 601.8L424.0 602.5L425.0 603.2L426.0 603.8L427.0 604.4L428.0 605.1L429.0 605.7L430.0 606.3L431.0 606.9L432.0 607.4L433.0 608.0L434.0 608.6L435.0 609.1L436.0 609.7L437.0 610.2L438.0 610.7L439.0 611.2L440.0 611.7L441.0 612.2L442.0 612.6L443.0 613.1L444.0 613.5L445.0 614.0L446.0 614.4L447.0 614.8L448.0 615.2L449.0 615.6L450.0 616.0L451.0 616.4L452.0 616.8L453.0 617.1L454.0 617.5L455.0 617.9L456.0 618.2L457.0 618.6L458.0 618.9L459.0 619.3L460.0 619.6L461.0 619.9L462.0 620.2L463.0 620.6L464.0 620.9L465.0 621.2L466.0 621.5L467.0 621.8L468.0 622.1L469.0 622.4L470.0 622.7L471.0 622.9L472.0 623.2L473.0 623.5L474.0 623.7L475.0 624.0L476.0 624.3L477.0 624.5L478.0 624.8L479.0 625.0L480.0 625.3L481.0 625.5L482.0 625.7L483.0 625.9L484.0 626.2L485.0 626.4L486.0 626.6L487.0 626.8L488.0 627.0L489.0 627.2L490.0 627.4L491.0 627.6L492.0 627.8L493.0 628.0L494.0 628.2L495.0 628.4L496.0 628.6L497.0 628.8L498.0 629.0L499.0 629.3L500.0 629.5L501.0 629.7L502.0 629.9L503.0 630.1L504.0 630.4L505.0 630.6L506.0 630.8L507.0 630.9L508.0 631.1L509.0 631.3L510.0 631.5L511.0 631.6L512.0 631.8L513.0 632.0L514.0 632.1L515.0 632.3L516.0 632.4L517.0 632.5L518.0 632.7L519.0 632.8L520.0 632.9L521.0 633.0L522.0 633.1L523.0 633.2L524.0 633.3L525.0 633.4L526.0 633.5L527.0 633.6L528.0 633.7L529.0 633.8L530.0 633.9L531.0 634.0L532.0 634.1L533.0 634.2L534.0 634.3L535.0 634.3L536.0 634.4L537.0 634.5L538.0 634.6L539.0 634.7L540.0 634.7L541.0 634.8L542.0 634.9L543.0 634.9L544.0 635.0L545.0 635.1L546.0 635.2L547.0 635.2L548.0 635.3L549.0 635.4L550.0 635.4L551.0 635.5L552.0 635.5L553.0 635.6L554.0 635.7L555.0 635.7L556.0 635.8L557.0 635.8L558.0 635.9L559.0 636.0L560.0 636.0L561.0 636.1L562.0 636.1L563.0 636.1L564.0 636.2L565.0 636.2L566.0 636.3L567.0 636.3L568.0 636.3L569.0 636.4L570.0 636.4L571.0 636.5L572.0 636.5L573.0 636.5L574.0 636.5L575.0 636.6L576.0 636.6L577.0 636.6L578.0 636.7L579.0 636.7L580.0 636.7L581.0 636.7L582.0 636.8L583.0 636.8L584.0 636.8L585.0 636.8L586.0 636.9L587.0 636.9L588.0 636.9L589.0 636.9L590.0 637.0L591.0 637.0L592.0 637.0L593.0 637.0L594.0 637.0L595.0 637.1L596.0 637.1L597.0 637.1L598.0 637.1L599.0 637.2L600.0 637.2L601.0 637.2L602.0 637.2L603.0 637.2L604.0 637.3L605.0 637.3L606.0 637.3L607.0 637.3L608.0 637.3L609.0 637.3L610.0 637.4L611.0 637.4L612.0 637.4L613.0 637.4L614.0 637.4L615.0 637.4L616.0 637.5L617.0 637.5L618.0 637.5L619.0 637.5L620.0 637.5L621.0 637.5L622.0 637.6L623.0 637.6L624.0 637.6L625.0 637.6L626.0 637.6L627.0 637.6L628.0 637.6L629.0 637.6L630.0 637.6L631.0 637.7L632.0 637.7L633.0 637.7L634.0 637.7L635.0 637.7L636.0 637.7L637.0 637.7L638.0 637.7L639.0 637.8L640.0 637.8L641.0 637.8L642.0 637.8L643.0 637.8L644.0 637.8L645.0 637.8L646.0 637.8L647.0 637.8L648.0 637.8L649.0 637.9L650.0 637.9L651.0 637.9L652.0 637.9L653.0 637.9L654.0 637.9L655.0 637.9L656.0 637.9L657.0 637.9L658.0 637.9L659.0 638.0L660.0 638.0L661.0 638.0L662.0 638.0L663.0 638.0L664.0 638.0L665.0 638.0L666.0 638.0L667.0 638.0L668.0 638.0L669.0 638.1L670.0 638.1L671.0 638.1L672.0 638.1L673.0 638.1L674.0 638.1L675.0 638.1" fill="none" stroke="#5068d0" stroke-width="1.60" stroke-linejoin="round"/>
<path d="M147.0 639.0L148.0 638.9L149.0 638.8L150.0 638.8L151.0 638.7L152.0 638.6L153.0 638.6L154.0 638.5L155.0 638.4L156.0 638.4L157.0 638.3L158.0 638.2L159.0 638.2L160.0 638.1L161.0 638.1L162.0 638.1L163.0 638.1L164.0 638.1L165.0 638.1L166.0 638.0L167.0 638.0L168.0 638.0L169.0 638.0L170.0 638.0L171.0 638.0L172.0 638.0L173.0 638.0L174.0 638.0L175.0 638.0L176.0 638.0L177.0 638.0L178.0 638.0L179.0 637.9L180.0 637.9L181.0 637.9L182.0 637.9L183.0 637.9L184.0 637.9L185.0 637.9L186.0 637.9L187.0 637.9L188.0 637.9L189.0 637.9L190.0 637.9L191.0 637.8L192.0 637.8L193.0 637.8L194.0 637.8L195.0 637.7L196.0 637.5L197.0 637.4L198.0 637.2L199.0 637.1L200.0 636.9L201.0 636.8L202.0 636.6L203.0 636.5L204.0 636.3L205.0 636.2L206.0 636.0L207.0 635.9L208.0 635.7L209.0 635.6L210.0 635.4L211.0 635.3L212.0 635.2L213.0 635.0L214.0 634.9L215.0 634.7L216.0 634.6L217.0 634.5L218.0 634.3L219.0 634.2L220.0 634.1L221.0 633.7L222.0 633.4L223.0 633.1L224.0 632.7L225.0 632.4L226.0 632.1L227.0 631.7L228.0 631.4L229.0 631.0L230.0 630.7L231.0 630.2L232.0 629.7L233.0 629.2L234.0 628.8L235.0 628.3L236.0 627.8L237.0 625.7L238.0 623.7L239.0 620.6L240.0 617.5L241.0 616.4L242.0 615.3L243.0 616.0L244.0 616.7L245.0 617.4L246.0 617.7L247.0 618.0L248.0 618.2L249.0 618.0L250.0 617.7L251.0 617.5L252.0 617.2L253.0 617.0L254.0 616.3L255.0 615.7L256.0 615.0L257.0 614.2L257.5 613.9L258.0 615.1L259.0 612.6L260.0 612.2L261.0 611.9L262.0 610.0L263.0 608.8L264.0 606.9L265.0 606.5L266.0 606.2L267.0 605.8L268.0 605.4L269.0 605.1L270.0 604.7L271.0 604.3L272.0 603.8L273.0 603.4L274.0 602.9L275.0 602.4L276.0 601.9L277.0 601.3L278.0 600.7L279.0 600.2L280.0 599.6L281.0 599.1L282.0 598.6L283.0 598.0L284.0 597.5L285.0 597.0L286.0 596.6L287.0 596.1L288.0 595.7L289.0 595.3L290.0 594.9L291.0 594.5L292.0 594.2L293.0 593.9L294.0 593.5L295.0 593.2L296.0 592.8L297.0 592.5L298.0 592.2L299.0 591.8L300.0 591.5L301.0 591.4L302.0 591.3L303.0 591.3L304.0 591.2L305.0 591.1L306.0 591.0L307.0 591.0L308.0 590.9L309.0 590.8L310.0 590.8L311.0 590.6L312.0 590.4L313.0 590.3L314.0 590.1L315.0 589.9L316.0 589.8L317.0 589.6L318.0 589.4L319.0 589.6L320.0 589.7L321.0 589.9L322.0 590.0L323.0 590.2L324.0 590.3L325.0 590.5L326.0 590.6L327.0 590.8L328.0 590.9L329.0 591.1L330.0 591.2L331.0 591.3L332.0 591.3L333.0 591.4L334.0 591.4L335.0 591.5L336.0 591.5L337.0 591.6L338.0 591.6L339.0 591.7L340.0 591.7L341.0 591.9L342.0 592.2L343.0 592.4L344.0 592.6L345.0 592.8L346.0 593.0L347.0 593.2L348.0 593.4L349.0 593.6L350.0 593.8L351.0 594.1L352.0 594.3L353.0 594.6L354.0 594.8L355.0 595.1L356.0 595.3L356.5 595.5L357.0 595.3L358.0 594.8L359.0 594.4L360.0 593.9L361.0 593.5L362.0 593.1L363.0 591.9L364.0 590.7L365.0 589.5L366.0 588.3L367.0 586.5L368.0 584.6L369.0 582.7L370.0 580.8L371.0 579.6L372.0 578.3L373.0 577.1L374.0 575.8L375.0 574.6L376.0 573.8L377.0 573.0L378.0 572.2L379.0 571.4L380.0 570.6L380.5 570.2L381.0 570.4L382.0 570.7L383.0 571.1L384.0 571.4L385.0 571.8L386.0 572.2L387.0 572.5L388.0 573.0L389.0 573.5L390.0 574.0L391.0 574.4L392.0 574.9L393.0 575.4L394.0 576.0L395.0 576.6L396.0 577.2L397.0 577.7L398.0 578.5L399.0 579.2L400.0 580.0L401.0 580.7L402.0 581.4L403.0 582.1L404.0 583.0L405.0 584.0L406.0 584.9L407.0 585.8L408.0 586.7L409.0 587.6L410.0 588.5L411.0 589.4L412.0 590.3L413.0 591.2L414.0 592.2L415.0 593.1L416.0 593.9L417.0 594.8L418.0 595.6L419.0 596.4L420.0 597.3L421.0 598.0L422.0 598.7L423.0 599.4L424.0 600.1L425.0 600.7L426.0 601.3L427.0 601.9L428.0 602.6L429.0 603.2L430.0 603.8L431.0 604.4L432.0 604.9L433.0 605.5L434.0 606.1L435.0 606.6L436.0 607.1L437.0 607.7L438.0 608.2L439.0 608.7L440.0 609.2L441.0 609.7L442.0 610.2L443.0 610.6L444.0 611.1L445.0 611.6L446.0 612.0L447.0 612.5L448.0 612.9L449.0 613.3L450.0 613.8L451.0 614.2L452.0 614.6L453.0 615.0L454.0 615.4L455.0 615.8L456.0 616.1L457.0 616.5L458.0 616.9L459.0 617.3L460.0 617.6L461.0 618.0L462.0 618.3L463.0 618.6L464.0 619.0L465.0 619.3L466.0 619.6L467.0 620.0L468.0 620.3L469.0 620.6L470.0 620.9L471.0 621.2L472.0 621.5L473.0 621.8L474.0 622.1L475.0 622.4L476.0 622.7L477.0 623.0L478.0 623.3L479.0 623.5L480.0 623.8L481.0 624.1L482.0 624.3L483.0 624.6L484.0 624.8L485.0 625.1L486.0 625.3L487.0 625.6L488.0 625.8L489.0 626.0L490.0 626.3L491.0 626.5L492.0 626.7L493.0 626.9L494.0 627.1L495.0 627.3L496.0 627.6L497.0 627.8L498.0 628.1L499.0 628.3L500.0 628.5L501.0 628.8L502.0 629.0L503.0 629.3L504.0 629.5L505.0 629.8L506.0 630.0L507.0 630.2L508.0 630.4L509.0 630.6L510.0 630.8L511.0 630.9L512.0 631.1L513.0 631.3L514.0 631.4L515.0 631.6L516.0 631.8L517.0 631.9L518.0 632.1L519.0 632.2L520.0 632.4L521.0 632.5L522.0 632.6L523.0 632.7L524.0 632.8L525.0 632.9L526.0 633.0L527.0 633.1L528.0 633.3L529.0 633.4L530.0 633.5L531.0 633.6L532.0 633.7L533.0 633.7L534.0 633.8L535.0 633.9L536.0 634.0L537.0 634.1L538.0 634.2L539.0 634.3L540.0 634.3L541.0 634.4L542.0 634.5L543.0 634.6L544.0 634.7L545.0 634.7L546.0 634.8L547.0 634.9L548.0 635.0L549.0 635.0L550.0 635.1L551.0 635.2L552.0 635.2L553.0 635.3L554.0 635.4L555.0 635.4L556.0 635.5L557.0 635.6L558.0 635.6L559.0 635.7L560.0 635.7L561.0 635.8L562.0 635.8L563.0 635.9L564.0 635.9L565.0 636.0L566.0 636.0L567.0 636.1L568.0 636.1L569.0 636.1L570.0 636.2L571.0 636.2L572.0 636.3L573.0 636.3L574.0 636.3L575.0 636.3L576.0 636.4L577.0 636.4L578.0 636.4L579.0 636.5L580.0 636.5L581.0 636.5L582.0 636.6L583.0 636.6L584.0 636.6L585.0 636.6L586.0 636.7L587.0 636.7L588.0 636.7L589.0 636.7L590.0 636.8L591.0 636.8L592.0 636.8L593.0 636.8L594.0 636.9L595.0 636.9L596.0 636.9L597.0 636.9L598.0 637.0L599.0 637.0L600.0 637.0L601.0 637.0L602.0 637.1L603.0 637.1L604.0 637.1L605.0 637.1L606.0 637.1L607.0 637.1L608.0 637.2L609.0 637.2L610.0 637.2L611.0 637.2L612.0 637.2L613.0 637.3L614.0 637.3L615.0 637.3L616.0 637.3L617.0 637.3L618.0 637.4L619.0 637.4L620.0 637.4L621.0 637.4L622.0 637.4L623.0 637.4L624.0 637.4L625.0 637.5L626.0 637.5L627.0 637.5L628.0 637.5L629.0 637.5L630.0 637.5L631.0 637.5L632.0 637.5L633.0 637.6L634.0 637.6L635.0 637.6L636.0 637.6L637.0 637.6L638.0 637.6L639.0 637.6L640.0 637.6L641.0 637.7L642.0 637.7L643.0 637.7L644.0 637.7L645.0 637.7L646.0 637.7L647.0 637.7L648.0 637.7L649.0 637.7L650.0 637.8L651.0 637.8L652.0 637.8L653.0 637.8L654.0 637.8L655.0 637.8L656.0 637.8L657.0 637.8L658.0 637.8L659.0 637.8L660.0 637.9L661.0 637.9L662.0 637.9L663.0 637.9L664.0 637.9L665.0 637.9L666.0 637.9L667.0 637.9L668.0 637.9L669.0 638.0L670.0 638.0L671.0 638.0L672.0 638.0L673.0 638.0L674.0 638.0L675.0 638.0" fill="none" stroke="#3fb6ea" stroke-width="1.60" stroke-linejoin="round"/>
<path d="M147.0 639.0L148.0 638.9L149.0 638.8L150.0 638.8L151.0 638.7L152.0 638.6L153.0 638.5L154.0 638.5L155.0 638.4L156.0 638.3L157.0 638.3L158.0 638.2L159.0 638.1L160.0 638.0L161.0 638.0L162.0 638.0L163.0 638.0L164.0 638.0L165.0 638.0L166.0 638.0L167.0 638.0L168.0 638.0L169.0 638.0L170.0 638.0L171.0 638.0L172.0 638.0L173.0 637.9L174.0 637.9L175.0 637.9L176.0 637.9L177.0 637.9L178.0 637.9L179.0 637.9L180.0 637.9L181.0 637.9L182.0 637.9L183.0 637.9L184.0 637.8L185.0 637.8L186.0 637.8L187.0 637.8L188.0 637.8L189.0 637.8L190.0 637.8L191.0 637.8L192.0 637.8L193.0 637.8L194.0 637.8L195.0 637.6L196.0 637.5L197.0 637.3L198.0 637.1L199.0 637.0L200.0 636.8L201.0 636.7L202.0 636.5L203.0 636.4L204.0 636.2L205.0 636.1L206.0 635.9L207.0 635.7L208.0 635.6L209.0 635.4L210.0 635.3L211.0 635.1L212.0 635.0L213.0 634.8L214.0 634.7L215.0 634.6L216.0 634.4L217.0 634.3L218.0 634.1L219.0 634.0L220.0 633.8L221.0 633.5L222.0 633.2L223.0 632.8L224.0 632.5L225.0 632.1L226.0 631.8L227.0 631.4L228.0 631.0L229.0 630.7L230.0 630.3L231.0 629.8L232.0 629.3L233.0 628.8L234.0 628.3L235.0 627.8L236.0 627.3L237.0 625.1L238.0 623.0L239.0 619.7L240.0 616.5L241.0 615.3L242.0 614.2L243.0 614.9L244.0 615.7L245.0 616.4L246.0 616.7L247.0 617.0L248.0 617.3L249.0 617.1L250.0 616.8L251.0 616.6L252.0 616.3L253.0 616.1L254.0 615.4L255.0 614.7L256.0 614.1L257.0 613.3L257.5 612.9L258.0 614.2L259.0 611.5L260.0 611.2L261.0 610.9L262.0 608.9L263.0 607.7L264.0 605.7L265.0 605.3L266.0 605.0L267.0 604.6L268.0 604.3L269.0 603.9L270.0 603.6L271.0 603.1L272.0 602.6L273.0 602.2L274.0 601.7L275.0 601.3L276.0 600.7L277.0 600.1L278.0 599.6L279.0 599.0L280.0 598.4L281.0 597.9L282.0 597.4L283.0 596.8L284.0 596.3L285.0 595.8L286.0 595.4L287.0 595.0L288.0 594.6L289.0 594.1L290.0 593.7L291.0 593.4L292.0 593.0L293.0 592.7L294.0 592.3L295.0 591.9L296.0 591.6L297.0 591.2L298.0 590.9L299.0 590.5L300.0 590.1L301.0 590.0L302.0 589.9L303.0 589.9L304.0 589.8L305.0 589.7L306.0 589.6L307.0 589.5L308.0 589.4L309.0 589.3L310.0 589.3L311.0 589.1L312.0 588.9L313.0 588.7L314.0 588.5L315.0 588.4L316.0 588.2L317.0 588.0L318.0 587.8L319.0 588.0L320.0 588.1L321.0 588.3L322.0 588.5L323.0 588.6L324.0 588.8L325.0 589.0L326.0 589.1L327.0 589.3L328.0 589.5L329.0 589.6L330.0 589.8L331.0 589.8L332.0 589.9L333.0 590.0L334.0 590.0L335.0 590.1L336.0 590.1L337.0 590.2L338.0 590.3L339.0 590.3L340.0 590.4L341.0 590.6L342.0 590.8L343.0 591.0L344.0 591.3L345.0 591.5L346.0 591.7L347.0 591.9L348.0 592.2L349.0 592.4L350.0 592.6L351.0 592.9L352.0 593.1L353.0 593.4L354.0 593.7L355.0 593.9L356.0 594.2L356.5 594.3L357.0 594.1L358.0 593.7L359.0 593.2L360.0 592.8L361.0 592.4L362.0 591.9L363.0 590.7L364.0 589.5L365.0 588.3L366.0 587.1L367.0 585.2L368.0 583.3L369.0 581.4L370.0 579.5L371.0 578.2L372.0 576.9L373.0 575.7L374.0 574.4L375.0 573.1L376.0 572.3L377.0 571.5L378.0 570.7L379.0 569.9L380.0 569.1L380.5 568.7L381.0 568.9L382.0 569.3L383.0 569.6L384.0 570.0L385.0 570.4L386.0 570.8L387.0 571.1L388.0 571.7L389.0 572.2L390.0 572.7L391.0 573.2L392.0 573.7L393.0 574.2L394.0 574.8L395.0 575.4L396.0 576.0L397.0 576.6L398.0 577.3L399.0 578.1L400.0 578.9L401.0 579.6L402.0 580.4L403.0 581.1L404.0 582.1L405.0 583.0L406.0 583.9L407.0 584.8L408.0 585.8L409.0 586.7L410.0 587.6L411.0 588.6L412.0 589.5L413.0 590.4L414.0 591.4L415.0 592.3L416.0 593.2L417.0 594.0L418.0 594.9L419.0 595.7L420.0 596.6L421.0 597.3L422.0 598.0L423.0 598.6L424.0 599.2L425.0 599.9L426.0 600.4L427.0 601.0L428.0 601.6L429.0 602.2L430.0 602.8L431.0 603.3L432.0 603.9L433.0 604.4L434.0 604.9L435.0 605.5L436.0 606.0L437.0 606.5L438.0 607.0L439.0 607.5L440.0 608.0L441.0 608.5L442.0 608.9L443.0 609.4L444.0 609.9L445.0 610.4L446.0 610.8L447.0 611.3L448.0 611.7L449.0 612.1L450.0 612.6L451.0 613.0L452.0 613.4L453.0 613.8L454.0 614.2L455.0 614.6L456.0 615.0L457.0 615.4L458.0 615.8L459.0 616.1L460.0 616.5L461.0 616.9L462.0 617.2L463.0 617.6L464.0 617.9L465.0 618.3L466.0 618.6L467.0 618.9L468.0 619.2L469.0 619.5L470.0 619.9L471.0 620.2L472.0 620.5L473.0 620.8L474.0 621.2L475.0 621.5L476.0 621.8L477.0 622.1L478.0 622.4L479.0 622.7L480.0 623.0L481.0 623.3L482.0 623.5L483.0 623.8L484.0 624.1L485.0 624.4L486.0 624.6L487.0 624.9L488.0 625.1L489.0 625.4L490.0 625.6L491.0 625.8L492.0 626.1L493.0 626.3L494.0 626.5L495.0 626.7L496.0 627.0L497.0 627.3L498.0 627.5L499.0 627.8L500.0 628.0L501.0 628.3L502.0 628.5L503.0 628.8L504.0 629.1L505.0 629.3L506.0 629.5L507.0 629.7L508.0 629.9L509.0 630.2L510.0 630.4L511.0 630.5L512.0 630.7L513.0 630.9L514.0 631.1L515.0 631.3L516.0 631.4L517.0 631.6L518.0 631.8L519.0 631.9L520.0 632.1L521.0 632.2L522.0 632.3L523.0 632.4L524.0 632.5L525.0 632.7L526.0 632.8L527.0 632.9L528.0 633.0L529.0 633.1L530.0 633.2L531.0 633.3L532.0 633.4L533.0 633.5L534.0 633.6L535.0 633.7L536.0 633.8L537.0 633.9L538.0 634.0L539.0 634.1L540.0 634.2L541.0 634.2L542.0 634.3L543.0 634.4L544.0 634.5L545.0 634.6L546.0 634.6L547.0 634.7L548.0 634.8L549.0 634.9L550.0 635.0L551.0 635.0L552.0 635.1L553.0 635.1L554.0 635.2L555.0 635.3L556.0 635.3L557.0 635.4L558.0 635.5L559.0 635.5L560.0 635.6L561.0 635.7L562.0 635.7L563.0 635.7L564.0 635.8L565.0 635.8L566.0 635.9L567.0 635.9L568.0 636.0L569.0 636.0L570.0 636.1L571.0 636.1L572.0 636.1L573.0 636.2L574.0 636.2L575.0 636.2L576.0 636.3L577.0 636.3L578.0 636.3L579.0 636.4L580.0 636.4L581.0 636.4L582.0 636.5L583.0 636.5L584.0 636.5L585.0 636.5L586.0 636.6L587.0 636.6L588.0 636.6L589.0 636.6L590.0 636.7L591.0 636.7L592.0 636.7L593.0 636.7L594.0 636.8L595.0 636.8L596.0 636.8L597.0 636.8L598.0 636.9L599.0 636.9L600.0 636.9L601.0 636.9L602.0 637.0L603.0 637.0L604.0 637.0L605.0 637.0L606.0 637.0L607.0 637.1L608.0 637.1L609.0 637.1L610.0 637.1L611.0 637.1L612.0 637.2L613.0 637.2L614.0 637.2L615.0 637.2L616.0 637.2L617.0 637.3L618.0 637.3L619.0 637.3L620.0 637.3L621.0 637.3L622.0 637.3L623.0 637.4L624.0 637.4L625.0 637.4L626.0 637.4L627.0 637.4L628.0 637.4L629.0 637.4L630.0 637.5L631.0 637.5L632.0 637.5L633.0 637.5L634.0 637.5L635.0 637.5L636.0 637.5L637.0 637.5L638.0 637.6L639.0 637.6L640.0 637.6L641.0 637.6L642.0 637.6L643.0 637.6L644.0 637.6L645.0 637.6L646.0 637.7L647.0 637.7L648.0 637.7L649.0 637.7L650.0 637.7L651.0 637.7L652.0 637.7L653.0 637.7L654.0 637.7L655.0 637.8L656.0 637.8L657.0 637.8L658.0 637.8L659.0 637.8L660.0 637.8L661.0 637.8L662.0 637.8L663.0 637.8L664.0 637.9L665.0 637.9L666.0 637.9L667.0 637.9L668.0 637.9L669.0 637.9L670.0 637.9L671.0 637.9L672.0 637.9L673.0 638.0L674.0 638.0L675.0 638.0" fill="none" stroke="#8ee03a" stroke-width="1.60" stroke-linejoin="round"/>
<path d="M147.0 639.0L148.0 638.9L149.0 638.8L150.0 638.8L151.0 638.7L152.0 638.6L153.0 638.6L154.0 638.5L155.0 638.4L156.0 638.4L157.0 638.3L158.0 638.2L159.0 638.2L160.0 638.1L161.0 638.1L162.0 638.1L163.0 638.1L164.0 638.1L165.0 638.1L166.0 638.1L167.0 638.0L168.0 638.0L169.0 638.0L170.0 638.0L171.0 638.0L172.0 638.0L173.0 638.0L174.0 638.0L175.0 638.0L176.0 638.0L177.0 638.0L178.0 638.0L179.0 638.0L180.0 637.9L181.0 637.9L182.0 637.9L183.0 637.9L184.0 637.9L185.0 637.9L186.0 637.9L187.0 637.9L188.0 637.9L189.0 637.9L190.0 637.9L191.0 637.9L192.0 637.8L193.0 637.8L194.0 637.8L195.0 637.7L196.0 637.5L197.0 637.4L198.0 637.3L199.0 637.1L200.0 637.0L201.0 636.8L202.0 636.7L203.0 636.5L204.0 636.4L205.0 636.2L206.0 636.1L207.0 635.9L208.0 635.8L209.0 635.6L210.0 635.5L211.0 635.3L212.0 635.2L213.0 635.1L214.0 634.9L215.0 634.8L216.0 634.7L217.0 634.5L218.0 634.4L219.0 634.3L220.0 634.1L221.0 633.8L222.0 633.5L223.0 633.2L224.0 632.8L225.0 632.5L226.0 632.2L227.0 631.8L228.0 631.5L229.0 631.2L230.0 630.8L231.0 630.4L232.0 629.9L233.0 629.4L234.0 628.9L235.0 628.4L236.0 628.0L237.0 625.9L238.0 623.9L239.0 620.9L240.0 617.8L241.0 616.7L242.0 615.7L243.0 616.4L244.0 617.1L245.0 617.8L246.0 618.0L247.0 618.3L248.0 618.6L249.0 618.3L250.0 618.1L251.0 617.8L252.0 617.6L253.0 617.3L254.0 616.7L255.0 616.1L256.0 615.4L257.0 614.6L257.5 614.3L258.0 615.5L259.0 613.0L260.0 612.7L261.0 612.4L262.0 610.5L263.0 609.3L264.0 607.5L265.0 607.1L266.0 606.8L267.0 606.4L268.0 606.1L269.0 605.8L270.0 605.4L271.0 605.0L272.0 604.5L273.0 604.1L274.0 603.7L275.0 603.2L276.0 602.7L277.0 602.1L278.0 601.6L279.0 601.0L280.0 600.5L281.0 600.0L282.0 599.5L283.0 599.0L284.0 598.5L285.0 598.0L286.0 597.6L287.0 597.2L288.0 596.8L289.0 596.4L290.0 596.0L291.0 595.7L292.0 595.3L293.0 595.0L294.0 594.6L295.0 594.3L296.0 593.9L297.0 593.6L298.0 593.2L299.0 592.9L300.0 592.5L301.0 592.4L302.0 592.4L303.0 592.3L304.0 592.2L305.0 592.1L306.0 592.0L307.0 591.9L308.0 591.8L309.0 591.8L310.0 591.7L311.0 591.5L312.0 591.3L313.0 591.1L314.0 591.0L315.0 590.8L316.0 590.6L317.0 590.4L318.0 590.3L319.0 590.4L320.0 590.6L321.0 590.7L322.0 590.9L323.0 591.0L324.0 591.2L325.0 591.3L326.0 591.5L327.0 591.6L328.0 591.8L329.0 592.0L330.0 592.1L331.0 592.2L332.0 592.2L333.0 592.3L334.0 592.3L335.0 592.4L336.0 592.4L337.0 592.5L338.0 592.5L339.0 592.6L340.0 592.6L341.0 592.9L342.0 593.1L343.0 593.3L344.0 593.5L345.0 593.7L346.0 593.9L347.0 594.1L348.0 594.3L349.0 594.5L350.0 594.8L351.0 595.0L352.0 595.3L353.0 595.5L354.0 595.8L355.0 596.0L356.0 596.3L356.5 596.4L357.0 596.2L358.0 595.8L359.0 595.3L360.0 594.9L361.0 594.5L362.0 594.1L363.0 592.9L364.0 591.8L365.0 590.6L366.0 589.5L367.0 587.6L368.0 585.8L369.0 584.0L370.0 582.2L371.0 581.0L372.0 579.8L373.0 578.5L374.0 577.3L375.0 576.1L376.0 575.3L377.0 574.5L378.0 573.8L379.0 573.0L380.0 572.2L380.5 571.9L381.0 572.0L382.0 572.4L383.0 572.7L384.0 573.1L385.0 573.4L386.0 573.8L387.0 574.1L388.0 574.6L389.0 575.1L390.0 575.6L391.0 576.0L392.0 576.5L393.0 577.0L394.0 577.5L395.0 578.1L396.0 578.7L397.0 579.3L398.0 580.0L399.0 580.7L400.0 581.4L401.0 582.1L402.0 582.8L403.0 583.6L404.0 584.4L405.0 585.3L406.0 586.2L407.0 587.1L408.0 588.0L409.0 588.8L410.0 589.7L411.0 590.6L412.0 591.5L413.0 592.3L414.0 593.2L415.0 594.1L416.0 594.9L417.0 595.6L418.0 596.4L419.0 597.2L420.0 598.0L421.0 598.7L422.0 599.3L423.0 599.9L424.0 600.6L425.0 601.2L426.0 601.7L427.0 602.3L428.0 602.8L429.0 603.4L430.0 604.0L431.0 604.5L432.0 605.0L433.0 605.5L434.0 606.0L435.0 606.6L436.0 607.0L437.0 607.5L438.0 608.0L439.0 608.5L440.0 609.0L441.0 609.4L442.0 609.9L443.0 610.4L444.0 610.8L445.0 611.3L446.0 611.7L447.0 612.1L448.0 612.6L449.0 613.0L450.0 613.4L451.0 613.8L452.0 614.2L453.0 614.6L454.0 615.0L455.0 615.4L456.0 615.8L457.0 616.1L458.0 616.5L459.0 616.9L460.0 617.2L461.0 617.6L462.0 617.9L463.0 618.2L464.0 618.6L465.0 618.9L466.0 619.2L467.0 619.5L468.0 619.8L469.0 620.1L470.0 620.5L471.0 620.8L472.0 621.1L473.0 621.4L474.0 621.7L475.0 622.0L476.0 622.3L477.0 622.6L478.0 622.9L479.0 623.2L480.0 623.5L481.0 623.8L482.0 624.0L483.0 624.3L484.0 624.6L485.0 624.8L486.0 625.1L487.0 625.3L488.0 625.6L489.0 625.8L490.0 626.0L491.0 626.3L492.0 626.5L493.0 626.7L494.0 626.9L495.0 627.2L496.0 627.4L497.0 627.6L498.0 627.9L499.0 628.1L500.0 628.4L501.0 628.6L502.0 628.9L503.0 629.1L504.0 629.4L505.0 629.6L506.0 629.9L507.0 630.1L508.0 630.3L509.0 630.5L510.0 630.7L511.0 630.8L512.0 631.0L513.0 631.2L514.0 631.4L515.0 631.6L516.0 631.7L517.0 631.9L518.0 632.0L519.0 632.2L520.0 632.3L521.0 632.4L522.0 632.5L523.0 632.7L524.0 632.8L525.0 632.9L526.0 633.0L527.0 633.1L528.0 633.2L529.0 633.3L530.0 633.5L531.0 633.6L532.0 633.6L533.0 633.7L534.0 633.8L535.0 633.9L536.0 634.0L537.0 634.1L538.0 634.2L539.0 634.3L540.0 634.3L541.0 634.4L542.0 634.5L543.0 634.6L544.0 634.7L545.0 634.7L546.0 634.8L547.0 634.9L548.0 635.0L549.0 635.0L550.0 635.1L551.0 635.2L552.0 635.2L553.0 635.3L554.0 635.4L555.0 635.4L556.0 635.5L557.0 635.5L558.0 635.6L559.0 635.7L560.0 635.7L561.0 635.8L562.0 635.8L563.0 635.9L564.0 635.9L565.0 636.0L566.0 636.0L567.0 636.0L568.0 636.1L569.0 636.1L570.0 636.2L571.0 636.2L572.0 636.2L573.0 636.3L574.0 636.3L575.0 636.3L576.0 636.4L577.0 636.4L578.0 636.4L579.0 636.5L580.0 636.5L581.0 636.5L582.0 636.5L583.0 636.6L584.0 636.6L585.0 636.6L586.0 636.6L587.0 636.7L588.0 636.7L589.0 636.7L590.0 636.7L591.0 636.8L592.0 636.8L593.0 636.8L594.0 636.8L595.0 636.9L596.0 636.9L597.0 636.9L598.0 636.9L599.0 637.0L600.0 637.0L601.0 637.0L602.0 637.0L603.0 637.1L604.0 637.1L605.0 637.1L606.0 637.1L607.0 637.1L608.0 637.1L609.0 637.2L610.0 637.2L611.0 637.2L612.0 637.2L613.0 637.2L614.0 637.3L615.0 637.3L616.0 637.3L617.0 637.3L618.0 637.3L619.0 637.4L620.0 637.4L621.0 637.4L622.0 637.4L623.0 637.4L624.0 637.4L625.0 637.4L626.0 637.5L627.0 637.5L628.0 637.5L629.0 637.5L630.0 637.5L631.0 637.5L632.0 637.5L633.0 637.5L634.0 637.6L635.0 637.6L636.0 637.6L637.0 637.6L638.0 637.6L639.0 637.6L640.0 637.6L641.0 637.6L642.0 637.6L643.0 637.7L644.0 637.7L645.0 637.7L646.0 637.7L647.0 637.7L648.0 637.7L649.0 637.7L650.0 637.7L651.0 637.7L652.0 637.8L653.0 637.8L654.0 637.8L655.0 637.8L656.0 637.8L657.0 637.8L658.0 637.8L659.0 637.8L660.0 637.8L661.0 637.9L662.0 637.9L663.0 637.9L664.0 637.9L665.0 637.9L666.0 637.9L667.0 637.9L668.0 637.9L669.0 637.9L670.0 637.9L671.0 638.0L672.0 638.0L673.0 638.0L674.0 638.0L675.0 638.0" fill="none" stroke="#2c7a64" stroke-width="1.60" stroke-linejoin="round"/>
<path d="M120.00 485.00 V639.10 H723.20" class="ax"/>
<line x1="115.00" y1="639.10" x2="120.00" y2="639.10" class="ax"/>
<line x1="115.00" y1="608.28" x2="120.00" y2="608.28" class="ax"/>
<line x1="115.00" y1="577.46" x2="120.00" y2="577.46" class="ax"/>
<line x1="115.00" y1="546.64" x2="120.00" y2="546.64" class="ax"/>
<line x1="115.00" y1="515.82" x2="120.00" y2="515.82" class="ax"/>
<line x1="115.00" y1="485.00" x2="120.00" y2="485.00" class="ax"/>
<line x1="120.00" y1="639.10" x2="120.00" y2="644.10" class="ax"/>
<line x1="195.40" y1="639.10" x2="195.40" y2="644.10" class="ax"/>
<line x1="270.80" y1="639.10" x2="270.80" y2="644.10" class="ax"/>
<line x1="346.20" y1="639.10" x2="346.20" y2="644.10" class="ax"/>
<line x1="421.60" y1="639.10" x2="421.60" y2="644.10" class="ax"/>
<line x1="497.00" y1="639.10" x2="497.00" y2="644.10" class="ax"/>
<line x1="572.40" y1="639.10" x2="572.40" y2="644.10" class="ax"/>
<line x1="647.80" y1="639.10" x2="647.80" y2="644.10" class="ax"/>
<line x1="723.20" y1="639.10" x2="723.20" y2="644.10" class="ax"/>
<text transform="translate(108.37 663.20) scale(0.940 1)" font-size="15.00" font-weight="normal" fill="#000">150</text>
<text transform="translate(184.13 663.12) scale(0.940 1)" font-size="15.00" font-weight="normal" fill="#000">250</text>
<text transform="translate(259.45 663.12) scale(0.940 1)" font-size="15.00" font-weight="normal" fill="#000">350</text>
<text transform="translate(335.07 663.12) scale(0.940 1)" font-size="15.00" font-weight="normal" fill="#000">450</text>
<text transform="translate(410.18 663.12) scale(0.940 1)" font-size="15.00" font-weight="normal" fill="#000">550</text>
<text transform="translate(485.73 663.12) scale(0.940 1)" font-size="15.00" font-weight="normal" fill="#000">650</text>
<text transform="translate(560.91 663.12) scale(0.940 1)" font-size="15.00" font-weight="normal" fill="#000">750</text>
<text transform="translate(636.52 663.12) scale(0.940 1)" font-size="15.00" font-weight="normal" fill="#000">850</text>
<text transform="translate(712.00 663.12) scale(0.940 1)" font-size="15.00" font-weight="normal" fill="#000">950</text>
<text transform="translate(98.75 644.73) scale(0.935 1)" font-size="15.00" font-weight="normal" fill="#000">0</text>
<text transform="translate(68.20 613.68) scale(0.935 1)" font-size="15.00" font-weight="normal" fill="#000">10000</text>
<text transform="translate(68.20 582.79) scale(0.935 1)" font-size="15.00" font-weight="normal" fill="#000">20000</text>
<text transform="translate(68.20 551.97) scale(0.935 1)" font-size="15.00" font-weight="normal" fill="#000">30000</text>
<text transform="translate(68.20 521.15) scale(0.935 1)" font-size="15.00" font-weight="normal" fill="#000">40000</text>
<text transform="translate(68.20 490.33) scale(0.935 1)" font-size="15.00" font-weight="normal" fill="#000">50000</text>
<text transform="translate(59.30 609.16) rotate(-90) scale(0.961 1)" font-size="15" font-weight="bold">Intensity (AU)</text>
<text transform="translate(365.96 684.10) scale(0.957 1)" font-size="15.00" font-weight="bold" fill="#000">Wavelength (nm)</text>
<text transform="translate(157.20 507.20) scale(0.890 1)" font-size="15.00" font-weight="normal" fill="#000">ER</text>
<line x1="135.6" y1="524.30" x2="165.2" y2="524.30" stroke="#222" stroke-width="1.8"/>
<text transform="translate(168.97 529.25) scale(0.880 1)" font-size="15.00" font-weight="normal" fill="#000">0.91</text>
<line x1="135.6" y1="547.25" x2="165.2" y2="547.25" stroke="#5068d0" stroke-width="1.8"/>
<text transform="translate(168.97 552.20) scale(0.880 1)" font-size="15.00" font-weight="normal" fill="#000">0.94</text>
<line x1="135.6" y1="570.20" x2="165.2" y2="570.20" stroke="#3fb6ea" stroke-width="1.8"/>
<text transform="translate(168.31 575.15) scale(0.880 1)" font-size="15.00" font-weight="normal" fill="#000">1.09</text>
<line x1="135.6" y1="593.15" x2="165.2" y2="593.15" stroke="#8ee03a" stroke-width="1.8"/>
<text transform="translate(168.31 598.10) scale(0.880 1)" font-size="15.00" font-weight="normal" fill="#000">1.11</text>
<line x1="135.6" y1="616.10" x2="165.2" y2="616.10" stroke="#2c7a64" stroke-width="1.8"/>
<text transform="translate(168.31 621.05) scale(0.880 1)" font-size="15.00" font-weight="normal" fill="#000">1.24</text>
<text transform="translate(229.33 595.89) scale(0.920 1)" font-size="15.50" font-weight="normal" fill="#000">OH*</text>
<text transform="translate(662.10 513.39) scale(0.874 1)" font-size="15.50" font-weight="normal" fill="#000">BFG100</text>
<text transform="translate(8.45 487.13) scale(0.950 1)" font-size="17.00" font-weight="normal" fill="#000">(c)</text>
</svg></body></html>
